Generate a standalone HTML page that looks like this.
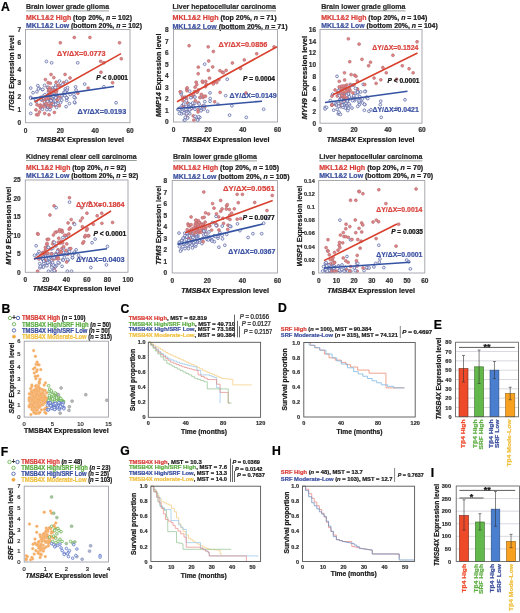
<!DOCTYPE html><html><head><meta charset="utf-8"><style>html,body{margin:0;padding:0;background:#fff;width:520px;height:613px;overflow:hidden}svg{display:block;will-change:transform}</style></head><body><svg width="520" height="613" viewBox="0 0 520 613" font-family="Liberation Sans, sans-serif">
<rect width="520" height="613" fill="#fff"/>
<text transform="translate(26.00,9.07) scale(1,1.06)" font-size="7" text-anchor="start" fill="#2a2a2a" font-weight="bold" textLength="83.00" lengthAdjust="spacingAndGlyphs" stroke="#2a2a2a" stroke-width="0.22">Brain lower grade glioma</text>
<line x1="26.00" y1="10.90" x2="109.00" y2="10.90" stroke="#9aa09a" stroke-width="1.0"/>
<text transform="translate(26.00,19.65) scale(1,1.06)" font-size="7" font-weight="bold" fill="#1a1a1a" textLength="106.00" lengthAdjust="spacingAndGlyphs" stroke="#1a1a1a" stroke-width="0.22"><tspan fill="#d9403a" stroke="#d9403a" stroke-width="0.22">MKL1&amp;2 High</tspan> (top 20%, <tspan font-style="italic">n</tspan> = 102)</text>
<text transform="translate(26.00,27.65) scale(1,1.06)" font-size="7" font-weight="bold" fill="#1a1a1a" textLength="116.00" lengthAdjust="spacingAndGlyphs" stroke="#1a1a1a" stroke-width="0.22"><tspan fill="#3b4f9e" stroke="#3b4f9e" stroke-width="0.22">MKL1&amp;2 Low</tspan> (bottom 20%, <tspan font-style="italic">n</tspan> = 102)</text>
<circle cx="56.04" cy="101.36" r="1.4" fill="#f2f2fa" stroke="#5562a2" stroke-width="0.7"/>
<circle cx="89.94" cy="37.49" r="1.45" fill="#e48585" stroke="#b06a70" stroke-width="0.6"/>
<circle cx="52.78" cy="87.81" r="1.4" fill="#f2f2fa" stroke="#5562a2" stroke-width="0.7"/>
<circle cx="44.75" cy="101.73" r="1.4" fill="#f2f2fa" stroke="#5562a2" stroke-width="0.7"/>
<circle cx="75.08" cy="97.82" r="1.4" fill="#f2f2fa" stroke="#5562a2" stroke-width="0.7"/>
<circle cx="50.98" cy="97.27" r="1.45" fill="#e48585" stroke="#b06a70" stroke-width="0.6"/>
<circle cx="63.65" cy="82.69" r="1.45" fill="#e48585" stroke="#b06a70" stroke-width="0.6"/>
<circle cx="66.66" cy="100.30" r="1.4" fill="#f2f2fa" stroke="#5562a2" stroke-width="0.7"/>
<circle cx="30.73" cy="104.26" r="1.4" fill="#f2f2fa" stroke="#5562a2" stroke-width="0.7"/>
<circle cx="67.14" cy="97.99" r="1.4" fill="#f2f2fa" stroke="#5562a2" stroke-width="0.7"/>
<circle cx="39.22" cy="88.27" r="1.4" fill="#f2f2fa" stroke="#5562a2" stroke-width="0.7"/>
<circle cx="53.10" cy="89.37" r="1.4" fill="#f2f2fa" stroke="#5562a2" stroke-width="0.7"/>
<circle cx="33.05" cy="92.68" r="1.4" fill="#f2f2fa" stroke="#5562a2" stroke-width="0.7"/>
<circle cx="66.36" cy="91.27" r="1.4" fill="#f2f2fa" stroke="#5562a2" stroke-width="0.7"/>
<circle cx="45.82" cy="99.16" r="1.45" fill="#e48585" stroke="#b06a70" stroke-width="0.6"/>
<circle cx="40.66" cy="108.13" r="1.45" fill="#e48585" stroke="#b06a70" stroke-width="0.6"/>
<circle cx="37.05" cy="104.71" r="1.45" fill="#e48585" stroke="#b06a70" stroke-width="0.6"/>
<circle cx="46.72" cy="106.94" r="1.45" fill="#e48585" stroke="#b06a70" stroke-width="0.6"/>
<circle cx="47.60" cy="100.66" r="1.45" fill="#e48585" stroke="#b06a70" stroke-width="0.6"/>
<circle cx="65.32" cy="88.96" r="1.4" fill="#f2f2fa" stroke="#5562a2" stroke-width="0.7"/>
<circle cx="55.82" cy="85.14" r="1.4" fill="#f2f2fa" stroke="#5562a2" stroke-width="0.7"/>
<circle cx="64.01" cy="93.54" r="1.45" fill="#e48585" stroke="#b06a70" stroke-width="0.6"/>
<circle cx="47.76" cy="105.55" r="1.45" fill="#e48585" stroke="#b06a70" stroke-width="0.6"/>
<circle cx="46.40" cy="61.45" r="1.4" fill="#f2f2fa" stroke="#5562a2" stroke-width="0.7"/>
<circle cx="75.60" cy="86.85" r="1.4" fill="#f2f2fa" stroke="#5562a2" stroke-width="0.7"/>
<circle cx="48.02" cy="97.23" r="1.4" fill="#f2f2fa" stroke="#5562a2" stroke-width="0.7"/>
<circle cx="88.20" cy="88.08" r="1.45" fill="#e48585" stroke="#b06a70" stroke-width="0.6"/>
<circle cx="48.47" cy="92.29" r="1.4" fill="#f2f2fa" stroke="#5562a2" stroke-width="0.7"/>
<circle cx="59.47" cy="85.67" r="1.45" fill="#e48585" stroke="#b06a70" stroke-width="0.6"/>
<circle cx="60.33" cy="42.81" r="1.45" fill="#e48585" stroke="#b06a70" stroke-width="0.6"/>
<circle cx="44.09" cy="104.81" r="1.45" fill="#e48585" stroke="#b06a70" stroke-width="0.6"/>
<circle cx="119.55" cy="42.81" r="1.45" fill="#e48585" stroke="#b06a70" stroke-width="0.6"/>
<circle cx="43.53" cy="95.97" r="1.4" fill="#f2f2fa" stroke="#5562a2" stroke-width="0.7"/>
<circle cx="62.37" cy="95.68" r="1.4" fill="#f2f2fa" stroke="#5562a2" stroke-width="0.7"/>
<circle cx="51.82" cy="97.90" r="1.4" fill="#f2f2fa" stroke="#5562a2" stroke-width="0.7"/>
<circle cx="76.04" cy="90.09" r="1.4" fill="#f2f2fa" stroke="#5562a2" stroke-width="0.7"/>
<circle cx="55.19" cy="104.63" r="1.45" fill="#e48585" stroke="#b06a70" stroke-width="0.6"/>
<circle cx="45.41" cy="79.60" r="1.45" fill="#e48585" stroke="#b06a70" stroke-width="0.6"/>
<circle cx="48.14" cy="82.69" r="1.45" fill="#e48585" stroke="#b06a70" stroke-width="0.6"/>
<circle cx="59.51" cy="85.48" r="1.4" fill="#f2f2fa" stroke="#5562a2" stroke-width="0.7"/>
<circle cx="48.65" cy="98.61" r="1.45" fill="#e48585" stroke="#b06a70" stroke-width="0.6"/>
<circle cx="54.78" cy="88.75" r="1.45" fill="#e48585" stroke="#b06a70" stroke-width="0.6"/>
<circle cx="40.62" cy="98.18" r="1.4" fill="#f2f2fa" stroke="#5562a2" stroke-width="0.7"/>
<circle cx="48.57" cy="90.34" r="1.45" fill="#e48585" stroke="#b06a70" stroke-width="0.6"/>
<circle cx="65.63" cy="90.93" r="1.4" fill="#f2f2fa" stroke="#5562a2" stroke-width="0.7"/>
<circle cx="58.01" cy="85.89" r="1.45" fill="#e48585" stroke="#b06a70" stroke-width="0.6"/>
<circle cx="103.88" cy="86.75" r="1.4" fill="#f2f2fa" stroke="#5562a2" stroke-width="0.7"/>
<circle cx="50.62" cy="104.41" r="1.45" fill="#e48585" stroke="#b06a70" stroke-width="0.6"/>
<circle cx="43.07" cy="107.06" r="1.45" fill="#e48585" stroke="#b06a70" stroke-width="0.6"/>
<circle cx="44.57" cy="85.39" r="1.4" fill="#f2f2fa" stroke="#5562a2" stroke-width="0.7"/>
<circle cx="49.55" cy="95.18" r="1.45" fill="#e48585" stroke="#b06a70" stroke-width="0.6"/>
<circle cx="42.37" cy="89.62" r="1.4" fill="#f2f2fa" stroke="#5562a2" stroke-width="0.7"/>
<circle cx="40.89" cy="97.34" r="1.45" fill="#e48585" stroke="#b06a70" stroke-width="0.6"/>
<circle cx="57.17" cy="95.50" r="1.4" fill="#f2f2fa" stroke="#5562a2" stroke-width="0.7"/>
<circle cx="49.85" cy="90.63" r="1.45" fill="#e48585" stroke="#b06a70" stroke-width="0.6"/>
<circle cx="42.68" cy="100.42" r="1.45" fill="#e48585" stroke="#b06a70" stroke-width="0.6"/>
<circle cx="51.53" cy="97.62" r="1.4" fill="#f2f2fa" stroke="#5562a2" stroke-width="0.7"/>
<circle cx="48.48" cy="94.72" r="1.4" fill="#f2f2fa" stroke="#5562a2" stroke-width="0.7"/>
<circle cx="40.52" cy="105.05" r="1.45" fill="#e48585" stroke="#b06a70" stroke-width="0.6"/>
<circle cx="37.81" cy="85.66" r="1.4" fill="#f2f2fa" stroke="#5562a2" stroke-width="0.7"/>
<circle cx="45.85" cy="99.93" r="1.45" fill="#e48585" stroke="#b06a70" stroke-width="0.6"/>
<circle cx="49.80" cy="100.26" r="1.45" fill="#e48585" stroke="#b06a70" stroke-width="0.6"/>
<circle cx="54.41" cy="95.87" r="1.4" fill="#f2f2fa" stroke="#5562a2" stroke-width="0.7"/>
<circle cx="70.01" cy="77.99" r="1.45" fill="#e48585" stroke="#b06a70" stroke-width="0.6"/>
<circle cx="74.90" cy="102.80" r="1.4" fill="#f2f2fa" stroke="#5562a2" stroke-width="0.7"/>
<circle cx="56.66" cy="90.87" r="1.45" fill="#e48585" stroke="#b06a70" stroke-width="0.6"/>
<circle cx="42.42" cy="109.29" r="1.4" fill="#f2f2fa" stroke="#5562a2" stroke-width="0.7"/>
<circle cx="49.72" cy="89.90" r="1.45" fill="#e48585" stroke="#b06a70" stroke-width="0.6"/>
<circle cx="60.42" cy="102.57" r="1.4" fill="#f2f2fa" stroke="#5562a2" stroke-width="0.7"/>
<circle cx="35.34" cy="99.48" r="1.4" fill="#f2f2fa" stroke="#5562a2" stroke-width="0.7"/>
<circle cx="48.51" cy="107.18" r="1.45" fill="#e48585" stroke="#b06a70" stroke-width="0.6"/>
<circle cx="56.17" cy="98.04" r="1.4" fill="#f2f2fa" stroke="#5562a2" stroke-width="0.7"/>
<circle cx="46.85" cy="109.63" r="1.4" fill="#f2f2fa" stroke="#5562a2" stroke-width="0.7"/>
<circle cx="30.73" cy="88.08" r="1.4" fill="#f2f2fa" stroke="#5562a2" stroke-width="0.7"/>
<circle cx="57.93" cy="103.24" r="1.4" fill="#f2f2fa" stroke="#5562a2" stroke-width="0.7"/>
<circle cx="52.34" cy="95.97" r="1.45" fill="#e48585" stroke="#b06a70" stroke-width="0.6"/>
<circle cx="49.89" cy="93.27" r="1.45" fill="#e48585" stroke="#b06a70" stroke-width="0.6"/>
<circle cx="42.82" cy="89.34" r="1.4" fill="#f2f2fa" stroke="#5562a2" stroke-width="0.7"/>
<circle cx="51.17" cy="97.60" r="1.4" fill="#f2f2fa" stroke="#5562a2" stroke-width="0.7"/>
<circle cx="62.65" cy="84.29" r="1.4" fill="#f2f2fa" stroke="#5562a2" stroke-width="0.7"/>
<circle cx="38.42" cy="88.92" r="1.4" fill="#f2f2fa" stroke="#5562a2" stroke-width="0.7"/>
<circle cx="66.52" cy="97.61" r="1.4" fill="#f2f2fa" stroke="#5562a2" stroke-width="0.7"/>
<circle cx="55.61" cy="102.19" r="1.4" fill="#f2f2fa" stroke="#5562a2" stroke-width="0.7"/>
<circle cx="55.40" cy="87.60" r="1.4" fill="#f2f2fa" stroke="#5562a2" stroke-width="0.7"/>
<circle cx="41.05" cy="97.96" r="1.45" fill="#e48585" stroke="#b06a70" stroke-width="0.6"/>
<circle cx="61.71" cy="95.77" r="1.4" fill="#f2f2fa" stroke="#5562a2" stroke-width="0.7"/>
<circle cx="53.85" cy="77.60" r="1.45" fill="#e48585" stroke="#b06a70" stroke-width="0.6"/>
<circle cx="41.35" cy="99.64" r="1.45" fill="#e48585" stroke="#b06a70" stroke-width="0.6"/>
<circle cx="47.52" cy="87.42" r="1.45" fill="#e48585" stroke="#b06a70" stroke-width="0.6"/>
<circle cx="56.14" cy="82.22" r="1.45" fill="#e48585" stroke="#b06a70" stroke-width="0.6"/>
<circle cx="121.29" cy="58.79" r="1.45" fill="#e48585" stroke="#b06a70" stroke-width="0.6"/>
<circle cx="66.08" cy="106.64" r="1.4" fill="#f2f2fa" stroke="#5562a2" stroke-width="0.7"/>
<circle cx="51.62" cy="62.79" r="1.4" fill="#f2f2fa" stroke="#5562a2" stroke-width="0.7"/>
<circle cx="59.48" cy="95.62" r="1.4" fill="#f2f2fa" stroke="#5562a2" stroke-width="0.7"/>
<circle cx="56.54" cy="107.34" r="1.4" fill="#f2f2fa" stroke="#5562a2" stroke-width="0.7"/>
<circle cx="54.39" cy="112.45" r="1.45" fill="#e48585" stroke="#b06a70" stroke-width="0.6"/>
<circle cx="51.19" cy="106.40" r="1.4" fill="#f2f2fa" stroke="#5562a2" stroke-width="0.7"/>
<circle cx="56.72" cy="95.81" r="1.45" fill="#e48585" stroke="#b06a70" stroke-width="0.6"/>
<circle cx="73.94" cy="94.43" r="1.4" fill="#f2f2fa" stroke="#5562a2" stroke-width="0.7"/>
<circle cx="64.00" cy="92.33" r="1.4" fill="#f2f2fa" stroke="#5562a2" stroke-width="0.7"/>
<circle cx="46.34" cy="104.62" r="1.4" fill="#f2f2fa" stroke="#5562a2" stroke-width="0.7"/>
<circle cx="41.04" cy="99.58" r="1.4" fill="#f2f2fa" stroke="#5562a2" stroke-width="0.7"/>
<circle cx="46.90" cy="100.41" r="1.45" fill="#e48585" stroke="#b06a70" stroke-width="0.6"/>
<circle cx="100.71" cy="61.36" r="1.45" fill="#e48585" stroke="#b06a70" stroke-width="0.6"/>
<circle cx="55.02" cy="105.48" r="1.45" fill="#e48585" stroke="#b06a70" stroke-width="0.6"/>
<circle cx="50.40" cy="90.42" r="1.45" fill="#e48585" stroke="#b06a70" stroke-width="0.6"/>
<circle cx="74.18" cy="97.26" r="1.4" fill="#f2f2fa" stroke="#5562a2" stroke-width="0.7"/>
<circle cx="53.27" cy="92.39" r="1.4" fill="#f2f2fa" stroke="#5562a2" stroke-width="0.7"/>
<circle cx="35.95" cy="109.91" r="1.45" fill="#e48585" stroke="#b06a70" stroke-width="0.6"/>
<circle cx="59.91" cy="97.36" r="1.45" fill="#e48585" stroke="#b06a70" stroke-width="0.6"/>
<circle cx="58.64" cy="85.23" r="1.45" fill="#e48585" stroke="#b06a70" stroke-width="0.6"/>
<circle cx="65.05" cy="74.44" r="1.45" fill="#e48585" stroke="#b06a70" stroke-width="0.6"/>
<circle cx="48.18" cy="87.28" r="1.4" fill="#f2f2fa" stroke="#5562a2" stroke-width="0.7"/>
<circle cx="77.75" cy="62.79" r="1.4" fill="#f2f2fa" stroke="#5562a2" stroke-width="0.7"/>
<circle cx="67.08" cy="89.93" r="1.4" fill="#f2f2fa" stroke="#5562a2" stroke-width="0.7"/>
<circle cx="39.43" cy="112.05" r="1.45" fill="#e48585" stroke="#b06a70" stroke-width="0.6"/>
<circle cx="44.88" cy="94.66" r="1.4" fill="#f2f2fa" stroke="#5562a2" stroke-width="0.7"/>
<circle cx="100.95" cy="72.32" r="1.45" fill="#e48585" stroke="#b06a70" stroke-width="0.6"/>
<circle cx="112.58" cy="82.76" r="1.45" fill="#e48585" stroke="#b06a70" stroke-width="0.6"/>
<circle cx="74.27" cy="37.49" r="1.45" fill="#e48585" stroke="#b06a70" stroke-width="0.6"/>
<circle cx="52.14" cy="97.99" r="1.4" fill="#f2f2fa" stroke="#5562a2" stroke-width="0.7"/>
<circle cx="51.30" cy="99.70" r="1.45" fill="#e48585" stroke="#b06a70" stroke-width="0.6"/>
<circle cx="53.30" cy="91.02" r="1.45" fill="#e48585" stroke="#b06a70" stroke-width="0.6"/>
<circle cx="55.99" cy="98.46" r="1.4" fill="#f2f2fa" stroke="#5562a2" stroke-width="0.7"/>
<circle cx="64.71" cy="95.16" r="1.4" fill="#f2f2fa" stroke="#5562a2" stroke-width="0.7"/>
<circle cx="50.02" cy="109.68" r="1.4" fill="#f2f2fa" stroke="#5562a2" stroke-width="0.7"/>
<circle cx="55.21" cy="98.75" r="1.4" fill="#f2f2fa" stroke="#5562a2" stroke-width="0.7"/>
<circle cx="70.19" cy="94.53" r="1.4" fill="#f2f2fa" stroke="#5562a2" stroke-width="0.7"/>
<circle cx="46.66" cy="98.60" r="1.45" fill="#e48585" stroke="#b06a70" stroke-width="0.6"/>
<circle cx="47.54" cy="101.48" r="1.4" fill="#f2f2fa" stroke="#5562a2" stroke-width="0.7"/>
<circle cx="39.22" cy="105.89" r="1.45" fill="#e48585" stroke="#b06a70" stroke-width="0.6"/>
<circle cx="64.82" cy="95.57" r="1.4" fill="#f2f2fa" stroke="#5562a2" stroke-width="0.7"/>
<circle cx="53.24" cy="104.23" r="1.4" fill="#f2f2fa" stroke="#5562a2" stroke-width="0.7"/>
<circle cx="46.51" cy="104.20" r="1.4" fill="#f2f2fa" stroke="#5562a2" stroke-width="0.7"/>
<circle cx="36.64" cy="114.71" r="1.45" fill="#e48585" stroke="#b06a70" stroke-width="0.6"/>
<circle cx="59.35" cy="105.79" r="1.45" fill="#e48585" stroke="#b06a70" stroke-width="0.6"/>
<circle cx="67.51" cy="87.75" r="1.4" fill="#f2f2fa" stroke="#5562a2" stroke-width="0.7"/>
<circle cx="52.03" cy="102.55" r="1.4" fill="#f2f2fa" stroke="#5562a2" stroke-width="0.7"/>
<circle cx="77.87" cy="93.28" r="1.45" fill="#e48585" stroke="#b06a70" stroke-width="0.6"/>
<circle cx="50.13" cy="105.81" r="1.45" fill="#e48585" stroke="#b06a70" stroke-width="0.6"/>
<circle cx="51.03" cy="74.50" r="1.45" fill="#e48585" stroke="#b06a70" stroke-width="0.6"/>
<circle cx="30.73" cy="97.30" r="1.4" fill="#f2f2fa" stroke="#5562a2" stroke-width="0.7"/>
<circle cx="30.73" cy="113.38" r="1.4" fill="#f2f2fa" stroke="#5562a2" stroke-width="0.7"/>
<circle cx="54.67" cy="99.29" r="1.4" fill="#f2f2fa" stroke="#5562a2" stroke-width="0.7"/>
<circle cx="84.72" cy="84.09" r="1.4" fill="#f2f2fa" stroke="#5562a2" stroke-width="0.7"/>
<circle cx="49.06" cy="114.71" r="1.45" fill="#e48585" stroke="#b06a70" stroke-width="0.6"/>
<circle cx="53.94" cy="96.30" r="1.4" fill="#f2f2fa" stroke="#5562a2" stroke-width="0.7"/>
<circle cx="38.12" cy="114.71" r="1.45" fill="#e48585" stroke="#b06a70" stroke-width="0.6"/>
<circle cx="54.31" cy="95.56" r="1.4" fill="#f2f2fa" stroke="#5562a2" stroke-width="0.7"/>
<circle cx="50.51" cy="101.29" r="1.45" fill="#e48585" stroke="#b06a70" stroke-width="0.6"/>
<circle cx="36.92" cy="91.74" r="1.4" fill="#f2f2fa" stroke="#5562a2" stroke-width="0.7"/>
<circle cx="55.69" cy="97.77" r="1.4" fill="#f2f2fa" stroke="#5562a2" stroke-width="0.7"/>
<circle cx="103.88" cy="62.79" r="1.45" fill="#e48585" stroke="#b06a70" stroke-width="0.6"/>
<circle cx="30.73" cy="98.10" r="1.4" fill="#f2f2fa" stroke="#5562a2" stroke-width="0.7"/>
<circle cx="59.55" cy="81.04" r="1.4" fill="#f2f2fa" stroke="#5562a2" stroke-width="0.7"/>
<circle cx="55.28" cy="101.03" r="1.4" fill="#f2f2fa" stroke="#5562a2" stroke-width="0.7"/>
<circle cx="61.05" cy="99.27" r="1.4" fill="#f2f2fa" stroke="#5562a2" stroke-width="0.7"/>
<circle cx="56.55" cy="94.36" r="1.4" fill="#f2f2fa" stroke="#5562a2" stroke-width="0.7"/>
<circle cx="55.87" cy="91.95" r="1.45" fill="#e48585" stroke="#b06a70" stroke-width="0.6"/>
<circle cx="50.84" cy="100.57" r="1.4" fill="#f2f2fa" stroke="#5562a2" stroke-width="0.7"/>
<circle cx="69.40" cy="103.59" r="1.4" fill="#f2f2fa" stroke="#5562a2" stroke-width="0.7"/>
<circle cx="61.78" cy="100.23" r="1.4" fill="#f2f2fa" stroke="#5562a2" stroke-width="0.7"/>
<circle cx="51.69" cy="103.19" r="1.45" fill="#e48585" stroke="#b06a70" stroke-width="0.6"/>
<circle cx="55.72" cy="104.42" r="1.4" fill="#f2f2fa" stroke="#5562a2" stroke-width="0.7"/>
<circle cx="36.17" cy="101.50" r="1.4" fill="#f2f2fa" stroke="#5562a2" stroke-width="0.7"/>
<circle cx="65.19" cy="92.22" r="1.4" fill="#f2f2fa" stroke="#5562a2" stroke-width="0.7"/>
<circle cx="47.75" cy="106.81" r="1.4" fill="#f2f2fa" stroke="#5562a2" stroke-width="0.7"/>
<circle cx="49.68" cy="89.67" r="1.45" fill="#e48585" stroke="#b06a70" stroke-width="0.6"/>
<circle cx="116.07" cy="102.73" r="1.4" fill="#f2f2fa" stroke="#5562a2" stroke-width="0.7"/>
<circle cx="74.50" cy="102.11" r="1.4" fill="#f2f2fa" stroke="#5562a2" stroke-width="0.7"/>
<circle cx="47.97" cy="105.36" r="1.45" fill="#e48585" stroke="#b06a70" stroke-width="0.6"/>
<circle cx="50.65" cy="95.09" r="1.45" fill="#e48585" stroke="#b06a70" stroke-width="0.6"/>
<circle cx="44.66" cy="113.38" r="1.45" fill="#e48585" stroke="#b06a70" stroke-width="0.6"/>
<circle cx="41.85" cy="97.65" r="1.4" fill="#f2f2fa" stroke="#5562a2" stroke-width="0.7"/>
<circle cx="36.12" cy="99.70" r="1.4" fill="#f2f2fa" stroke="#5562a2" stroke-width="0.7"/>
<circle cx="46.45" cy="103.60" r="1.45" fill="#e48585" stroke="#b06a70" stroke-width="0.6"/>
<circle cx="51.31" cy="90.74" r="1.45" fill="#e48585" stroke="#b06a70" stroke-width="0.6"/>
<circle cx="53.31" cy="96.33" r="1.4" fill="#f2f2fa" stroke="#5562a2" stroke-width="0.7"/>
<circle cx="49.66" cy="87.91" r="1.45" fill="#e48585" stroke="#b06a70" stroke-width="0.6"/>
<circle cx="66.52" cy="81.31" r="1.4" fill="#f2f2fa" stroke="#5562a2" stroke-width="0.7"/>
<circle cx="49.42" cy="90.06" r="1.45" fill="#e48585" stroke="#b06a70" stroke-width="0.6"/>
<circle cx="51.01" cy="100.85" r="1.4" fill="#f2f2fa" stroke="#5562a2" stroke-width="0.7"/>
<circle cx="57.27" cy="99.92" r="1.45" fill="#e48585" stroke="#b06a70" stroke-width="0.6"/>
<circle cx="50.77" cy="106.73" r="1.45" fill="#e48585" stroke="#b06a70" stroke-width="0.6"/>
<circle cx="50.30" cy="83.32" r="1.45" fill="#e48585" stroke="#b06a70" stroke-width="0.6"/>
<rect x="25.50" y="29.50" width="104.50" height="93.20" fill="none" stroke="#a0a0a8" stroke-width="0.9"/>
<line x1="34.6" y1="102" x2="121" y2="53.6" stroke="#d8412e" stroke-width="1.6"/>
<line x1="31" y1="98.6" x2="114" y2="86.5" stroke="#3553a3" stroke-width="1.6"/>
<text transform="translate(57.00,56.27) scale(1,1.06)" font-size="7" text-anchor="start" fill="#d9453f" font-weight="bold" textLength="48.50" lengthAdjust="spacingAndGlyphs" stroke="#d9453f" stroke-width="0.22">ΔY/ΔX=0.0773</text>
<text transform="translate(77.50,113.97) scale(1,1.06)" font-size="7" text-anchor="start" fill="#3c52a3" font-weight="bold" textLength="48.70" lengthAdjust="spacingAndGlyphs" stroke="#3c52a3" stroke-width="0.22">ΔY/ΔX=0.0193</text>
<text transform="translate(96.30,80.04) scale(1,1.06)" font-size="6.5" font-weight="bold" fill="#111" textLength="31.70" lengthAdjust="spacingAndGlyphs" stroke="#111" stroke-width="0.22"><tspan font-style="italic">P</tspan> &lt; 0.0001</text>
<text transform="translate(21.20,125.18) scale(1,1.06)" font-size="6.5" text-anchor="end" fill="#333" font-weight="bold" stroke="#333" stroke-width="0.22">0</text>
<text transform="translate(21.20,111.87) scale(1,1.06)" font-size="6.5" text-anchor="end" fill="#333" font-weight="bold" stroke="#333" stroke-width="0.22">1</text>
<text transform="translate(21.20,98.55) scale(1,1.06)" font-size="6.5" text-anchor="end" fill="#333" font-weight="bold" stroke="#333" stroke-width="0.22">2</text>
<text transform="translate(21.20,85.24) scale(1,1.06)" font-size="6.5" text-anchor="end" fill="#333" font-weight="bold" stroke="#333" stroke-width="0.22">3</text>
<text transform="translate(21.20,71.92) scale(1,1.06)" font-size="6.5" text-anchor="end" fill="#333" font-weight="bold" stroke="#333" stroke-width="0.22">4</text>
<text transform="translate(21.20,58.61) scale(1,1.06)" font-size="6.5" text-anchor="end" fill="#333" font-weight="bold" stroke="#333" stroke-width="0.22">5</text>
<text transform="translate(21.20,45.29) scale(1,1.06)" font-size="6.5" text-anchor="end" fill="#333" font-weight="bold" stroke="#333" stroke-width="0.22">6</text>
<text transform="translate(21.20,31.98) scale(1,1.06)" font-size="6.5" text-anchor="end" fill="#333" font-weight="bold" stroke="#333" stroke-width="0.22">7</text>
<text transform="translate(25.50,133.48) scale(1,1.06)" font-size="6.5" text-anchor="middle" fill="#333" font-weight="bold" stroke="#333" stroke-width="0.22">0</text>
<text transform="translate(60.33,133.48) scale(1,1.06)" font-size="6.5" text-anchor="middle" fill="#333" font-weight="bold" stroke="#333" stroke-width="0.22">20</text>
<text transform="translate(95.17,133.48) scale(1,1.06)" font-size="6.5" text-anchor="middle" fill="#333" font-weight="bold" stroke="#333" stroke-width="0.22">40</text>
<text transform="translate(130.00,133.48) scale(1,1.06)" font-size="6.5" text-anchor="middle" fill="#333" font-weight="bold" stroke="#333" stroke-width="0.22">60</text>
<g transform="translate(11.30,73.00) rotate(-90)"><text transform="translate(0.00,2.65) scale(1,1.06)" font-size="7" text-anchor="middle" fill="#1a1a1a" font-weight="bold" textLength="75.00" lengthAdjust="spacingAndGlyphs" stroke="#1a1a1a" stroke-width="0.22"><tspan font-style="italic">ITGB1</tspan> Expression level</text></g>
<text transform="translate(80.00,142.25) scale(1,1.06)" font-size="7.2" text-anchor="middle" fill="#1a1a1a" font-weight="bold" textLength="87.75" lengthAdjust="spacingAndGlyphs" stroke="#1a1a1a" stroke-width="0.22"><tspan font-style="italic">TMSB4X</tspan> Expression level</text>
<text transform="translate(172.50,9.07) scale(1,1.06)" font-size="7" text-anchor="start" fill="#2a2a2a" font-weight="bold" textLength="103.50" lengthAdjust="spacingAndGlyphs" stroke="#2a2a2a" stroke-width="0.22">Liver hepatocellular carcinoma</text>
<line x1="172.50" y1="10.90" x2="276.00" y2="10.90" stroke="#9aa09a" stroke-width="1.0"/>
<text transform="translate(172.50,20.45) scale(1,1.06)" font-size="7" font-weight="bold" fill="#1a1a1a" textLength="104.00" lengthAdjust="spacingAndGlyphs" stroke="#1a1a1a" stroke-width="0.22"><tspan fill="#d9403a" stroke="#d9403a" stroke-width="0.22">MKL1&amp;2 High</tspan> (top 20%, <tspan font-style="italic">n</tspan> = 71)</text>
<text transform="translate(172.50,28.55) scale(1,1.06)" font-size="7" font-weight="bold" fill="#1a1a1a" textLength="115.00" lengthAdjust="spacingAndGlyphs" stroke="#1a1a1a" stroke-width="0.22"><tspan fill="#3b4f9e" stroke="#3b4f9e" stroke-width="0.22">MKL1&amp;2 Low</tspan> (bottom 20%, <tspan font-style="italic">n</tspan> = 71)</text>
<circle cx="213.92" cy="82.32" r="1.45" fill="#e48585" stroke="#b06a70" stroke-width="0.6"/>
<circle cx="210.13" cy="98.55" r="1.4" fill="#f2f2fa" stroke="#5562a2" stroke-width="0.7"/>
<circle cx="222.42" cy="72.15" r="1.45" fill="#e48585" stroke="#b06a70" stroke-width="0.6"/>
<circle cx="186.85" cy="88.85" r="1.45" fill="#e48585" stroke="#b06a70" stroke-width="0.6"/>
<circle cx="189.10" cy="45.69" r="1.45" fill="#e48585" stroke="#b06a70" stroke-width="0.6"/>
<circle cx="213.37" cy="51.47" r="1.45" fill="#e48585" stroke="#b06a70" stroke-width="0.6"/>
<circle cx="219.94" cy="70.71" r="1.45" fill="#e48585" stroke="#b06a70" stroke-width="0.6"/>
<circle cx="191.44" cy="108.50" r="1.45" fill="#e48585" stroke="#b06a70" stroke-width="0.6"/>
<circle cx="188.31" cy="106.48" r="1.4" fill="#f2f2fa" stroke="#5562a2" stroke-width="0.7"/>
<circle cx="186.26" cy="112.13" r="1.4" fill="#f2f2fa" stroke="#5562a2" stroke-width="0.7"/>
<circle cx="189.83" cy="109.89" r="1.4" fill="#f2f2fa" stroke="#5562a2" stroke-width="0.7"/>
<circle cx="181.52" cy="113.82" r="1.4" fill="#f2f2fa" stroke="#5562a2" stroke-width="0.7"/>
<circle cx="182.04" cy="105.66" r="1.4" fill="#f2f2fa" stroke="#5562a2" stroke-width="0.7"/>
<circle cx="202.84" cy="82.40" r="1.45" fill="#e48585" stroke="#b06a70" stroke-width="0.6"/>
<circle cx="188.55" cy="103.84" r="1.4" fill="#f2f2fa" stroke="#5562a2" stroke-width="0.7"/>
<circle cx="179.46" cy="113.51" r="1.4" fill="#f2f2fa" stroke="#5562a2" stroke-width="0.7"/>
<circle cx="198.01" cy="109.85" r="1.45" fill="#e48585" stroke="#b06a70" stroke-width="0.6"/>
<circle cx="274.03" cy="46.84" r="1.45" fill="#e48585" stroke="#b06a70" stroke-width="0.6"/>
<circle cx="193.26" cy="115.96" r="1.45" fill="#e48585" stroke="#b06a70" stroke-width="0.6"/>
<circle cx="246.30" cy="117.38" r="1.4" fill="#f2f2fa" stroke="#5562a2" stroke-width="0.7"/>
<circle cx="193.73" cy="103.51" r="1.45" fill="#e48585" stroke="#b06a70" stroke-width="0.6"/>
<circle cx="183.02" cy="100.81" r="1.45" fill="#e48585" stroke="#b06a70" stroke-width="0.6"/>
<circle cx="187.41" cy="102.86" r="1.45" fill="#e48585" stroke="#b06a70" stroke-width="0.6"/>
<circle cx="208.17" cy="46.84" r="1.45" fill="#e48585" stroke="#b06a70" stroke-width="0.6"/>
<circle cx="191.25" cy="108.04" r="1.4" fill="#f2f2fa" stroke="#5562a2" stroke-width="0.7"/>
<circle cx="193.86" cy="120.15" r="1.45" fill="#e48585" stroke="#b06a70" stroke-width="0.6"/>
<circle cx="187.15" cy="87.83" r="1.45" fill="#e48585" stroke="#b06a70" stroke-width="0.6"/>
<circle cx="226.12" cy="70.41" r="1.45" fill="#e48585" stroke="#b06a70" stroke-width="0.6"/>
<circle cx="184.19" cy="108.40" r="1.4" fill="#f2f2fa" stroke="#5562a2" stroke-width="0.7"/>
<circle cx="201.38" cy="94.35" r="1.45" fill="#e48585" stroke="#b06a70" stroke-width="0.6"/>
<circle cx="186.22" cy="109.81" r="1.45" fill="#e48585" stroke="#b06a70" stroke-width="0.6"/>
<circle cx="216.70" cy="82.55" r="1.45" fill="#e48585" stroke="#b06a70" stroke-width="0.6"/>
<circle cx="203.10" cy="97.47" r="1.45" fill="#e48585" stroke="#b06a70" stroke-width="0.6"/>
<circle cx="197.49" cy="91.88" r="1.45" fill="#e48585" stroke="#b06a70" stroke-width="0.6"/>
<circle cx="189.80" cy="113.74" r="1.4" fill="#f2f2fa" stroke="#5562a2" stroke-width="0.7"/>
<circle cx="186.30" cy="113.90" r="1.45" fill="#e48585" stroke="#b06a70" stroke-width="0.6"/>
<circle cx="197.94" cy="119.73" r="1.4" fill="#f2f2fa" stroke="#5562a2" stroke-width="0.7"/>
<circle cx="189.69" cy="91.31" r="1.4" fill="#f2f2fa" stroke="#5562a2" stroke-width="0.7"/>
<circle cx="194.77" cy="103.14" r="1.4" fill="#f2f2fa" stroke="#5562a2" stroke-width="0.7"/>
<circle cx="191.09" cy="105.34" r="1.4" fill="#f2f2fa" stroke="#5562a2" stroke-width="0.7"/>
<circle cx="196.16" cy="117.48" r="1.4" fill="#f2f2fa" stroke="#5562a2" stroke-width="0.7"/>
<circle cx="213.24" cy="83.93" r="1.45" fill="#e48585" stroke="#b06a70" stroke-width="0.6"/>
<circle cx="196.85" cy="92.22" r="1.45" fill="#e48585" stroke="#b06a70" stroke-width="0.6"/>
<circle cx="204.67" cy="107.40" r="1.45" fill="#e48585" stroke="#b06a70" stroke-width="0.6"/>
<circle cx="192.68" cy="103.07" r="1.4" fill="#f2f2fa" stroke="#5562a2" stroke-width="0.7"/>
<circle cx="187.20" cy="117.22" r="1.45" fill="#e48585" stroke="#b06a70" stroke-width="0.6"/>
<circle cx="186.93" cy="90.63" r="1.45" fill="#e48585" stroke="#b06a70" stroke-width="0.6"/>
<circle cx="205.47" cy="96.28" r="1.45" fill="#e48585" stroke="#b06a70" stroke-width="0.6"/>
<circle cx="223.33" cy="72.68" r="1.45" fill="#e48585" stroke="#b06a70" stroke-width="0.6"/>
<circle cx="256.70" cy="53.78" r="1.45" fill="#e48585" stroke="#b06a70" stroke-width="0.6"/>
<circle cx="189.34" cy="104.31" r="1.4" fill="#f2f2fa" stroke="#5562a2" stroke-width="0.7"/>
<circle cx="180.44" cy="110.38" r="1.4" fill="#f2f2fa" stroke="#5562a2" stroke-width="0.7"/>
<circle cx="227.23" cy="79.22" r="1.4" fill="#f2f2fa" stroke="#5562a2" stroke-width="0.7"/>
<circle cx="231.88" cy="105.77" r="1.4" fill="#f2f2fa" stroke="#5562a2" stroke-width="0.7"/>
<circle cx="196.15" cy="82.16" r="1.45" fill="#e48585" stroke="#b06a70" stroke-width="0.6"/>
<circle cx="198.45" cy="102.67" r="1.45" fill="#e48585" stroke="#b06a70" stroke-width="0.6"/>
<circle cx="196.78" cy="84.63" r="1.45" fill="#e48585" stroke="#b06a70" stroke-width="0.6"/>
<circle cx="206.34" cy="84.53" r="1.45" fill="#e48585" stroke="#b06a70" stroke-width="0.6"/>
<circle cx="182.20" cy="111.60" r="1.4" fill="#f2f2fa" stroke="#5562a2" stroke-width="0.7"/>
<circle cx="217.99" cy="104.30" r="1.4" fill="#f2f2fa" stroke="#5562a2" stroke-width="0.7"/>
<circle cx="218.85" cy="79.80" r="1.45" fill="#e48585" stroke="#b06a70" stroke-width="0.6"/>
<circle cx="183.40" cy="105.76" r="1.45" fill="#e48585" stroke="#b06a70" stroke-width="0.6"/>
<circle cx="192.35" cy="96.79" r="1.45" fill="#e48585" stroke="#b06a70" stroke-width="0.6"/>
<circle cx="186.80" cy="111.38" r="1.4" fill="#f2f2fa" stroke="#5562a2" stroke-width="0.7"/>
<circle cx="203.69" cy="96.22" r="1.45" fill="#e48585" stroke="#b06a70" stroke-width="0.6"/>
<circle cx="195.28" cy="116.36" r="1.4" fill="#f2f2fa" stroke="#5562a2" stroke-width="0.7"/>
<circle cx="184.26" cy="120.15" r="1.4" fill="#f2f2fa" stroke="#5562a2" stroke-width="0.7"/>
<circle cx="181.09" cy="94.02" r="1.4" fill="#f2f2fa" stroke="#5562a2" stroke-width="0.7"/>
<circle cx="177.90" cy="109.55" r="1.4" fill="#f2f2fa" stroke="#5562a2" stroke-width="0.7"/>
<circle cx="263.63" cy="109.28" r="1.4" fill="#f2f2fa" stroke="#5562a2" stroke-width="0.7"/>
<circle cx="187.71" cy="118.01" r="1.4" fill="#f2f2fa" stroke="#5562a2" stroke-width="0.7"/>
<circle cx="200.29" cy="107.92" r="1.4" fill="#f2f2fa" stroke="#5562a2" stroke-width="0.7"/>
<circle cx="179.78" cy="107.99" r="1.4" fill="#f2f2fa" stroke="#5562a2" stroke-width="0.7"/>
<circle cx="212.68" cy="66.94" r="1.45" fill="#e48585" stroke="#b06a70" stroke-width="0.6"/>
<circle cx="209.50" cy="78.16" r="1.45" fill="#e48585" stroke="#b06a70" stroke-width="0.6"/>
<circle cx="202.81" cy="105.97" r="1.45" fill="#e48585" stroke="#b06a70" stroke-width="0.6"/>
<circle cx="182.45" cy="97.04" r="1.45" fill="#e48585" stroke="#b06a70" stroke-width="0.6"/>
<circle cx="186.44" cy="106.63" r="1.4" fill="#f2f2fa" stroke="#5562a2" stroke-width="0.7"/>
<circle cx="186.59" cy="98.38" r="1.45" fill="#e48585" stroke="#b06a70" stroke-width="0.6"/>
<circle cx="193.62" cy="96.47" r="1.45" fill="#e48585" stroke="#b06a70" stroke-width="0.6"/>
<circle cx="210.03" cy="101.36" r="1.4" fill="#f2f2fa" stroke="#5562a2" stroke-width="0.7"/>
<circle cx="190.59" cy="104.87" r="1.4" fill="#f2f2fa" stroke="#5562a2" stroke-width="0.7"/>
<circle cx="197.52" cy="120.09" r="1.4" fill="#f2f2fa" stroke="#5562a2" stroke-width="0.7"/>
<circle cx="205.50" cy="86.72" r="1.45" fill="#e48585" stroke="#b06a70" stroke-width="0.6"/>
<circle cx="205.80" cy="81.43" r="1.45" fill="#e48585" stroke="#b06a70" stroke-width="0.6"/>
<circle cx="201.62" cy="109.55" r="1.4" fill="#f2f2fa" stroke="#5562a2" stroke-width="0.7"/>
<circle cx="185.04" cy="97.25" r="1.4" fill="#f2f2fa" stroke="#5562a2" stroke-width="0.7"/>
<circle cx="179.19" cy="109.41" r="1.4" fill="#f2f2fa" stroke="#5562a2" stroke-width="0.7"/>
<circle cx="201.02" cy="110.76" r="1.4" fill="#f2f2fa" stroke="#5562a2" stroke-width="0.7"/>
<circle cx="189.49" cy="109.53" r="1.4" fill="#f2f2fa" stroke="#5562a2" stroke-width="0.7"/>
<circle cx="204.79" cy="101.62" r="1.4" fill="#f2f2fa" stroke="#5562a2" stroke-width="0.7"/>
<circle cx="229.56" cy="115.13" r="1.4" fill="#f2f2fa" stroke="#5562a2" stroke-width="0.7"/>
<circle cx="208.34" cy="70.44" r="1.45" fill="#e48585" stroke="#b06a70" stroke-width="0.6"/>
<circle cx="214.69" cy="101.80" r="1.45" fill="#e48585" stroke="#b06a70" stroke-width="0.6"/>
<circle cx="207.59" cy="111.30" r="1.4" fill="#f2f2fa" stroke="#5562a2" stroke-width="0.7"/>
<circle cx="194.93" cy="109.24" r="1.4" fill="#f2f2fa" stroke="#5562a2" stroke-width="0.7"/>
<circle cx="225.70" cy="95.65" r="1.4" fill="#f2f2fa" stroke="#5562a2" stroke-width="0.7"/>
<circle cx="193.36" cy="94.39" r="1.45" fill="#e48585" stroke="#b06a70" stroke-width="0.6"/>
<circle cx="195.12" cy="87.17" r="1.45" fill="#e48585" stroke="#b06a70" stroke-width="0.6"/>
<circle cx="190.82" cy="95.51" r="1.45" fill="#e48585" stroke="#b06a70" stroke-width="0.6"/>
<circle cx="188.74" cy="107.01" r="1.4" fill="#f2f2fa" stroke="#5562a2" stroke-width="0.7"/>
<circle cx="198.32" cy="67.13" r="1.45" fill="#e48585" stroke="#b06a70" stroke-width="0.6"/>
<circle cx="204.03" cy="109.02" r="1.4" fill="#f2f2fa" stroke="#5562a2" stroke-width="0.7"/>
<circle cx="187.94" cy="112.64" r="1.4" fill="#f2f2fa" stroke="#5562a2" stroke-width="0.7"/>
<circle cx="199.85" cy="117.39" r="1.4" fill="#f2f2fa" stroke="#5562a2" stroke-width="0.7"/>
<circle cx="186.34" cy="100.80" r="1.4" fill="#f2f2fa" stroke="#5562a2" stroke-width="0.7"/>
<circle cx="220.11" cy="92.38" r="1.45" fill="#e48585" stroke="#b06a70" stroke-width="0.6"/>
<circle cx="181.35" cy="92.39" r="1.4" fill="#f2f2fa" stroke="#5562a2" stroke-width="0.7"/>
<circle cx="184.94" cy="120.15" r="1.4" fill="#f2f2fa" stroke="#5562a2" stroke-width="0.7"/>
<circle cx="198.44" cy="89.89" r="1.45" fill="#e48585" stroke="#b06a70" stroke-width="0.6"/>
<circle cx="189.12" cy="107.13" r="1.4" fill="#f2f2fa" stroke="#5562a2" stroke-width="0.7"/>
<circle cx="180.17" cy="91.77" r="1.45" fill="#e48585" stroke="#b06a70" stroke-width="0.6"/>
<circle cx="183.75" cy="104.04" r="1.4" fill="#f2f2fa" stroke="#5562a2" stroke-width="0.7"/>
<circle cx="198.17" cy="73.82" r="1.45" fill="#e48585" stroke="#b06a70" stroke-width="0.6"/>
<circle cx="232.43" cy="63.03" r="1.45" fill="#e48585" stroke="#b06a70" stroke-width="0.6"/>
<circle cx="204.70" cy="64.19" r="1.4" fill="#f2f2fa" stroke="#5562a2" stroke-width="0.7"/>
<circle cx="204.08" cy="105.45" r="1.4" fill="#f2f2fa" stroke="#5562a2" stroke-width="0.7"/>
<circle cx="245.96" cy="93.03" r="1.45" fill="#e48585" stroke="#b06a70" stroke-width="0.6"/>
<circle cx="193.42" cy="106.82" r="1.4" fill="#f2f2fa" stroke="#5562a2" stroke-width="0.7"/>
<circle cx="200.25" cy="97.43" r="1.4" fill="#f2f2fa" stroke="#5562a2" stroke-width="0.7"/>
<circle cx="195.37" cy="100.71" r="1.45" fill="#e48585" stroke="#b06a70" stroke-width="0.6"/>
<circle cx="199.10" cy="103.96" r="1.4" fill="#f2f2fa" stroke="#5562a2" stroke-width="0.7"/>
<circle cx="183.94" cy="108.57" r="1.4" fill="#f2f2fa" stroke="#5562a2" stroke-width="0.7"/>
<circle cx="185.32" cy="117.29" r="1.4" fill="#f2f2fa" stroke="#5562a2" stroke-width="0.7"/>
<circle cx="183.97" cy="112.84" r="1.4" fill="#f2f2fa" stroke="#5562a2" stroke-width="0.7"/>
<circle cx="199.99" cy="97.52" r="1.45" fill="#e48585" stroke="#b06a70" stroke-width="0.6"/>
<circle cx="194.99" cy="97.04" r="1.4" fill="#f2f2fa" stroke="#5562a2" stroke-width="0.7"/>
<circle cx="208.68" cy="60.99" r="1.45" fill="#e48585" stroke="#b06a70" stroke-width="0.6"/>
<circle cx="185.87" cy="109.22" r="1.4" fill="#f2f2fa" stroke="#5562a2" stroke-width="0.7"/>
<circle cx="186.60" cy="113.63" r="1.4" fill="#f2f2fa" stroke="#5562a2" stroke-width="0.7"/>
<circle cx="244.33" cy="59.93" r="1.45" fill="#e48585" stroke="#b06a70" stroke-width="0.6"/>
<circle cx="190.89" cy="97.79" r="1.4" fill="#f2f2fa" stroke="#5562a2" stroke-width="0.7"/>
<circle cx="198.07" cy="111.99" r="1.45" fill="#e48585" stroke="#b06a70" stroke-width="0.6"/>
<circle cx="240.52" cy="68.54" r="1.45" fill="#e48585" stroke="#b06a70" stroke-width="0.6"/>
<circle cx="202.34" cy="81.26" r="1.45" fill="#e48585" stroke="#b06a70" stroke-width="0.6"/>
<circle cx="210.01" cy="92.92" r="1.4" fill="#f2f2fa" stroke="#5562a2" stroke-width="0.7"/>
<circle cx="194.65" cy="91.56" r="1.45" fill="#e48585" stroke="#b06a70" stroke-width="0.6"/>
<circle cx="198.59" cy="116.78" r="1.4" fill="#f2f2fa" stroke="#5562a2" stroke-width="0.7"/>
<rect x="173.50" y="29.50" width="104.00" height="92.50" fill="none" stroke="#a0a0a8" stroke-width="0.9"/>
<line x1="177" y1="101.8" x2="277" y2="46.7" stroke="#d8412e" stroke-width="1.6"/>
<line x1="177" y1="108.5" x2="262" y2="101.2" stroke="#3553a3" stroke-width="1.6"/>
<text transform="translate(218.40,46.97) scale(1,1.06)" font-size="7" text-anchor="start" fill="#d9453f" font-weight="bold" textLength="49.00" lengthAdjust="spacingAndGlyphs" stroke="#d9453f" stroke-width="0.22">ΔY/ΔX=0.0856</text>
<text transform="translate(229.50,98.47) scale(1,1.06)" font-size="7" text-anchor="start" fill="#3c52a3" font-weight="bold" textLength="47.20" lengthAdjust="spacingAndGlyphs" stroke="#3c52a3" stroke-width="0.22">ΔY/ΔX=0.0149</text>
<text transform="translate(243.00,80.84) scale(1,1.06)" font-size="6.5" font-weight="bold" fill="#111" textLength="32.00" lengthAdjust="spacingAndGlyphs" stroke="#111" stroke-width="0.22"><tspan font-style="italic">P</tspan> = 0.0004</text>
<text transform="translate(168.70,124.48) scale(1,1.06)" font-size="6.5" text-anchor="end" fill="#333" font-weight="bold" stroke="#333" stroke-width="0.22">0</text>
<text transform="translate(168.70,112.92) scale(1,1.06)" font-size="6.5" text-anchor="end" fill="#333" font-weight="bold" stroke="#333" stroke-width="0.22">1</text>
<text transform="translate(168.70,101.36) scale(1,1.06)" font-size="6.5" text-anchor="end" fill="#333" font-weight="bold" stroke="#333" stroke-width="0.22">2</text>
<text transform="translate(168.70,89.79) scale(1,1.06)" font-size="6.5" text-anchor="end" fill="#333" font-weight="bold" stroke="#333" stroke-width="0.22">3</text>
<text transform="translate(168.70,78.23) scale(1,1.06)" font-size="6.5" text-anchor="end" fill="#333" font-weight="bold" stroke="#333" stroke-width="0.22">4</text>
<text transform="translate(168.70,66.67) scale(1,1.06)" font-size="6.5" text-anchor="end" fill="#333" font-weight="bold" stroke="#333" stroke-width="0.22">5</text>
<text transform="translate(168.70,55.11) scale(1,1.06)" font-size="6.5" text-anchor="end" fill="#333" font-weight="bold" stroke="#333" stroke-width="0.22">6</text>
<text transform="translate(168.70,43.54) scale(1,1.06)" font-size="6.5" text-anchor="end" fill="#333" font-weight="bold" stroke="#333" stroke-width="0.22">7</text>
<text transform="translate(168.70,31.98) scale(1,1.06)" font-size="6.5" text-anchor="end" fill="#333" font-weight="bold" stroke="#333" stroke-width="0.22">8</text>
<text transform="translate(173.50,131.98) scale(1,1.06)" font-size="6.5" text-anchor="middle" fill="#333" font-weight="bold" stroke="#333" stroke-width="0.22">0</text>
<text transform="translate(208.17,131.98) scale(1,1.06)" font-size="6.5" text-anchor="middle" fill="#333" font-weight="bold" stroke="#333" stroke-width="0.22">20</text>
<text transform="translate(242.83,131.98) scale(1,1.06)" font-size="6.5" text-anchor="middle" fill="#333" font-weight="bold" stroke="#333" stroke-width="0.22">40</text>
<text transform="translate(277.50,131.98) scale(1,1.06)" font-size="6.5" text-anchor="middle" fill="#333" font-weight="bold" stroke="#333" stroke-width="0.22">60</text>
<g transform="translate(158.70,75.30) rotate(-90)"><text transform="translate(0.00,2.65) scale(1,1.06)" font-size="7" text-anchor="middle" fill="#1a1a1a" font-weight="bold" textLength="83.50" lengthAdjust="spacingAndGlyphs" stroke="#1a1a1a" stroke-width="0.22"><tspan font-style="italic">MMP14</tspan> Expression level</text></g>
<text transform="translate(225.50,141.75) scale(1,1.06)" font-size="7.2" text-anchor="middle" fill="#1a1a1a" font-weight="bold" textLength="87.75" lengthAdjust="spacingAndGlyphs" stroke="#1a1a1a" stroke-width="0.22"><tspan font-style="italic">TMSB4X</tspan> Expression level</text>
<text transform="translate(321.25,9.07) scale(1,1.06)" font-size="7" text-anchor="start" fill="#2a2a2a" font-weight="bold" textLength="84.25" lengthAdjust="spacingAndGlyphs" stroke="#2a2a2a" stroke-width="0.22">Brain lower grade glioma</text>
<line x1="321.25" y1="10.90" x2="405.50" y2="10.90" stroke="#9aa09a" stroke-width="1.0"/>
<text transform="translate(321.25,20.15) scale(1,1.06)" font-size="7" font-weight="bold" fill="#1a1a1a" textLength="106.00" lengthAdjust="spacingAndGlyphs" stroke="#1a1a1a" stroke-width="0.22"><tspan fill="#d9403a" stroke="#d9403a" stroke-width="0.22">MKL1&amp;2 High</tspan> (top 20%, <tspan font-style="italic">n</tspan> = 104)</text>
<text transform="translate(321.25,27.95) scale(1,1.06)" font-size="7" font-weight="bold" fill="#1a1a1a" textLength="116.50" lengthAdjust="spacingAndGlyphs" stroke="#1a1a1a" stroke-width="0.22"><tspan fill="#3b4f9e" stroke="#3b4f9e" stroke-width="0.22">MKL1&amp;2 Low</tspan> (bottom 20%, <tspan font-style="italic">n</tspan> = 104)</text>
<circle cx="348.06" cy="99.32" r="1.4" fill="#f2f2fa" stroke="#5562a2" stroke-width="0.7"/>
<circle cx="357.14" cy="88.96" r="1.4" fill="#f2f2fa" stroke="#5562a2" stroke-width="0.7"/>
<circle cx="370.49" cy="62.30" r="1.45" fill="#e48585" stroke="#b06a70" stroke-width="0.6"/>
<circle cx="347.41" cy="109.02" r="1.4" fill="#f2f2fa" stroke="#5562a2" stroke-width="0.7"/>
<circle cx="362.56" cy="102.96" r="1.4" fill="#f2f2fa" stroke="#5562a2" stroke-width="0.7"/>
<circle cx="342.95" cy="97.65" r="1.45" fill="#e48585" stroke="#b06a70" stroke-width="0.6"/>
<circle cx="366.53" cy="97.09" r="1.4" fill="#f2f2fa" stroke="#5562a2" stroke-width="0.7"/>
<circle cx="333.70" cy="110.20" r="1.4" fill="#f2f2fa" stroke="#5562a2" stroke-width="0.7"/>
<circle cx="350.27" cy="84.36" r="1.45" fill="#e48585" stroke="#b06a70" stroke-width="0.6"/>
<circle cx="386.30" cy="72.84" r="1.45" fill="#e48585" stroke="#b06a70" stroke-width="0.6"/>
<circle cx="340.57" cy="106.68" r="1.4" fill="#f2f2fa" stroke="#5562a2" stroke-width="0.7"/>
<circle cx="345.24" cy="95.56" r="1.45" fill="#e48585" stroke="#b06a70" stroke-width="0.6"/>
<circle cx="341.44" cy="100.42" r="1.45" fill="#e48585" stroke="#b06a70" stroke-width="0.6"/>
<circle cx="348.23" cy="104.92" r="1.4" fill="#f2f2fa" stroke="#5562a2" stroke-width="0.7"/>
<circle cx="360.66" cy="100.63" r="1.4" fill="#f2f2fa" stroke="#5562a2" stroke-width="0.7"/>
<circle cx="335.89" cy="104.91" r="1.45" fill="#e48585" stroke="#b06a70" stroke-width="0.6"/>
<circle cx="347.11" cy="90.01" r="1.45" fill="#e48585" stroke="#b06a70" stroke-width="0.6"/>
<circle cx="338.27" cy="113.81" r="1.4" fill="#f2f2fa" stroke="#5562a2" stroke-width="0.7"/>
<circle cx="361.99" cy="59.37" r="1.45" fill="#e48585" stroke="#b06a70" stroke-width="0.6"/>
<circle cx="345.28" cy="107.99" r="1.4" fill="#f2f2fa" stroke="#5562a2" stroke-width="0.7"/>
<circle cx="367.13" cy="97.62" r="1.4" fill="#f2f2fa" stroke="#5562a2" stroke-width="0.7"/>
<circle cx="339.14" cy="94.35" r="1.4" fill="#f2f2fa" stroke="#5562a2" stroke-width="0.7"/>
<circle cx="349.61" cy="105.07" r="1.4" fill="#f2f2fa" stroke="#5562a2" stroke-width="0.7"/>
<circle cx="339.50" cy="90.85" r="1.45" fill="#e48585" stroke="#b06a70" stroke-width="0.6"/>
<circle cx="349.75" cy="61.71" r="1.45" fill="#e48585" stroke="#b06a70" stroke-width="0.6"/>
<circle cx="344.54" cy="88.52" r="1.45" fill="#e48585" stroke="#b06a70" stroke-width="0.6"/>
<circle cx="349.30" cy="90.52" r="1.45" fill="#e48585" stroke="#b06a70" stroke-width="0.6"/>
<circle cx="351.11" cy="74.59" r="1.45" fill="#e48585" stroke="#b06a70" stroke-width="0.6"/>
<circle cx="357.54" cy="89.21" r="1.45" fill="#e48585" stroke="#b06a70" stroke-width="0.6"/>
<circle cx="339.66" cy="87.76" r="1.45" fill="#e48585" stroke="#b06a70" stroke-width="0.6"/>
<circle cx="346.62" cy="85.02" r="1.45" fill="#e48585" stroke="#b06a70" stroke-width="0.6"/>
<circle cx="381.20" cy="117.34" r="1.4" fill="#f2f2fa" stroke="#5562a2" stroke-width="0.7"/>
<circle cx="392.93" cy="55.27" r="1.45" fill="#e48585" stroke="#b06a70" stroke-width="0.6"/>
<circle cx="359.22" cy="104.81" r="1.4" fill="#f2f2fa" stroke="#5562a2" stroke-width="0.7"/>
<circle cx="337.02" cy="103.35" r="1.4" fill="#f2f2fa" stroke="#5562a2" stroke-width="0.7"/>
<circle cx="344.62" cy="80.04" r="1.45" fill="#e48585" stroke="#b06a70" stroke-width="0.6"/>
<circle cx="344.31" cy="98.66" r="1.4" fill="#f2f2fa" stroke="#5562a2" stroke-width="0.7"/>
<circle cx="325.22" cy="107.37" r="1.4" fill="#f2f2fa" stroke="#5562a2" stroke-width="0.7"/>
<circle cx="354.37" cy="100.59" r="1.4" fill="#f2f2fa" stroke="#5562a2" stroke-width="0.7"/>
<circle cx="344.31" cy="99.03" r="1.4" fill="#f2f2fa" stroke="#5562a2" stroke-width="0.7"/>
<circle cx="359.10" cy="102.25" r="1.4" fill="#f2f2fa" stroke="#5562a2" stroke-width="0.7"/>
<circle cx="359.56" cy="97.37" r="1.4" fill="#f2f2fa" stroke="#5562a2" stroke-width="0.7"/>
<circle cx="341.92" cy="89.23" r="1.45" fill="#e48585" stroke="#b06a70" stroke-width="0.6"/>
<circle cx="354.72" cy="75.29" r="1.45" fill="#e48585" stroke="#b06a70" stroke-width="0.6"/>
<circle cx="396.50" cy="79.28" r="1.45" fill="#e48585" stroke="#b06a70" stroke-width="0.6"/>
<circle cx="344.86" cy="86.39" r="1.45" fill="#e48585" stroke="#b06a70" stroke-width="0.6"/>
<circle cx="353.94" cy="98.11" r="1.45" fill="#e48585" stroke="#b06a70" stroke-width="0.6"/>
<circle cx="380.30" cy="104.69" r="1.4" fill="#f2f2fa" stroke="#5562a2" stroke-width="0.7"/>
<circle cx="376.10" cy="83.38" r="1.45" fill="#e48585" stroke="#b06a70" stroke-width="0.6"/>
<circle cx="331.90" cy="105.22" r="1.45" fill="#e48585" stroke="#b06a70" stroke-width="0.6"/>
<circle cx="341.68" cy="102.64" r="1.4" fill="#f2f2fa" stroke="#5562a2" stroke-width="0.7"/>
<circle cx="344.01" cy="104.13" r="1.4" fill="#f2f2fa" stroke="#5562a2" stroke-width="0.7"/>
<circle cx="339.65" cy="89.20" r="1.4" fill="#f2f2fa" stroke="#5562a2" stroke-width="0.7"/>
<circle cx="353.00" cy="85.11" r="1.4" fill="#f2f2fa" stroke="#5562a2" stroke-width="0.7"/>
<circle cx="348.46" cy="108.31" r="1.4" fill="#f2f2fa" stroke="#5562a2" stroke-width="0.7"/>
<circle cx="331.90" cy="96.24" r="1.45" fill="#e48585" stroke="#b06a70" stroke-width="0.6"/>
<circle cx="335.07" cy="89.96" r="1.45" fill="#e48585" stroke="#b06a70" stroke-width="0.6"/>
<circle cx="349.06" cy="89.43" r="1.45" fill="#e48585" stroke="#b06a70" stroke-width="0.6"/>
<circle cx="368.62" cy="65.81" r="1.45" fill="#e48585" stroke="#b06a70" stroke-width="0.6"/>
<circle cx="344.48" cy="72.84" r="1.45" fill="#e48585" stroke="#b06a70" stroke-width="0.6"/>
<circle cx="339.39" cy="113.45" r="1.4" fill="#f2f2fa" stroke="#5562a2" stroke-width="0.7"/>
<circle cx="337.72" cy="92.27" r="1.45" fill="#e48585" stroke="#b06a70" stroke-width="0.6"/>
<circle cx="353.88" cy="96.38" r="1.4" fill="#f2f2fa" stroke="#5562a2" stroke-width="0.7"/>
<circle cx="346.44" cy="94.13" r="1.4" fill="#f2f2fa" stroke="#5562a2" stroke-width="0.7"/>
<circle cx="364.85" cy="104.58" r="1.4" fill="#f2f2fa" stroke="#5562a2" stroke-width="0.7"/>
<circle cx="336.50" cy="104.74" r="1.4" fill="#f2f2fa" stroke="#5562a2" stroke-width="0.7"/>
<circle cx="346.33" cy="104.76" r="1.4" fill="#f2f2fa" stroke="#5562a2" stroke-width="0.7"/>
<circle cx="353.72" cy="95.76" r="1.4" fill="#f2f2fa" stroke="#5562a2" stroke-width="0.7"/>
<circle cx="344.87" cy="95.21" r="1.4" fill="#f2f2fa" stroke="#5562a2" stroke-width="0.7"/>
<circle cx="348.07" cy="99.89" r="1.4" fill="#f2f2fa" stroke="#5562a2" stroke-width="0.7"/>
<circle cx="348.62" cy="94.77" r="1.4" fill="#f2f2fa" stroke="#5562a2" stroke-width="0.7"/>
<circle cx="345.81" cy="99.17" r="1.4" fill="#f2f2fa" stroke="#5562a2" stroke-width="0.7"/>
<circle cx="326.59" cy="107.43" r="1.4" fill="#f2f2fa" stroke="#5562a2" stroke-width="0.7"/>
<circle cx="339.24" cy="81.34" r="1.45" fill="#e48585" stroke="#b06a70" stroke-width="0.6"/>
<circle cx="338.96" cy="112.23" r="1.4" fill="#f2f2fa" stroke="#5562a2" stroke-width="0.7"/>
<circle cx="362.36" cy="98.78" r="1.4" fill="#f2f2fa" stroke="#5562a2" stroke-width="0.7"/>
<circle cx="337.24" cy="96.01" r="1.45" fill="#e48585" stroke="#b06a70" stroke-width="0.6"/>
<circle cx="357.61" cy="93.75" r="1.4" fill="#f2f2fa" stroke="#5562a2" stroke-width="0.7"/>
<circle cx="357.79" cy="91.67" r="1.4" fill="#f2f2fa" stroke="#5562a2" stroke-width="0.7"/>
<circle cx="350.70" cy="98.33" r="1.4" fill="#f2f2fa" stroke="#5562a2" stroke-width="0.7"/>
<circle cx="341.69" cy="88.91" r="1.45" fill="#e48585" stroke="#b06a70" stroke-width="0.6"/>
<circle cx="338.75" cy="93.48" r="1.45" fill="#e48585" stroke="#b06a70" stroke-width="0.6"/>
<circle cx="349.23" cy="88.37" r="1.45" fill="#e48585" stroke="#b06a70" stroke-width="0.6"/>
<circle cx="356.20" cy="98.73" r="1.4" fill="#f2f2fa" stroke="#5562a2" stroke-width="0.7"/>
<circle cx="370.90" cy="109.81" r="1.4" fill="#f2f2fa" stroke="#5562a2" stroke-width="0.7"/>
<circle cx="342.66" cy="97.35" r="1.45" fill="#e48585" stroke="#b06a70" stroke-width="0.6"/>
<circle cx="368.90" cy="111.26" r="1.4" fill="#f2f2fa" stroke="#5562a2" stroke-width="0.7"/>
<circle cx="341.47" cy="89.00" r="1.45" fill="#e48585" stroke="#b06a70" stroke-width="0.6"/>
<circle cx="349.09" cy="90.99" r="1.45" fill="#e48585" stroke="#b06a70" stroke-width="0.6"/>
<circle cx="341.57" cy="86.18" r="1.45" fill="#e48585" stroke="#b06a70" stroke-width="0.6"/>
<circle cx="343.95" cy="99.92" r="1.45" fill="#e48585" stroke="#b06a70" stroke-width="0.6"/>
<circle cx="340.54" cy="98.37" r="1.45" fill="#e48585" stroke="#b06a70" stroke-width="0.6"/>
<circle cx="342.90" cy="107.24" r="1.4" fill="#f2f2fa" stroke="#5562a2" stroke-width="0.7"/>
<circle cx="363.26" cy="84.32" r="1.4" fill="#f2f2fa" stroke="#5562a2" stroke-width="0.7"/>
<circle cx="354.85" cy="93.20" r="1.4" fill="#f2f2fa" stroke="#5562a2" stroke-width="0.7"/>
<circle cx="365.39" cy="91.28" r="1.4" fill="#f2f2fa" stroke="#5562a2" stroke-width="0.7"/>
<circle cx="330.32" cy="100.59" r="1.4" fill="#f2f2fa" stroke="#5562a2" stroke-width="0.7"/>
<circle cx="350.21" cy="90.57" r="1.45" fill="#e48585" stroke="#b06a70" stroke-width="0.6"/>
<circle cx="380.86" cy="79.86" r="1.45" fill="#e48585" stroke="#b06a70" stroke-width="0.6"/>
<circle cx="347.60" cy="91.26" r="1.45" fill="#e48585" stroke="#b06a70" stroke-width="0.6"/>
<circle cx="349.33" cy="96.87" r="1.4" fill="#f2f2fa" stroke="#5562a2" stroke-width="0.7"/>
<circle cx="340.44" cy="94.00" r="1.45" fill="#e48585" stroke="#b06a70" stroke-width="0.6"/>
<circle cx="359.03" cy="100.94" r="1.4" fill="#f2f2fa" stroke="#5562a2" stroke-width="0.7"/>
<circle cx="339.51" cy="95.77" r="1.4" fill="#f2f2fa" stroke="#5562a2" stroke-width="0.7"/>
<circle cx="353.23" cy="99.29" r="1.4" fill="#f2f2fa" stroke="#5562a2" stroke-width="0.7"/>
<circle cx="340.83" cy="102.06" r="1.4" fill="#f2f2fa" stroke="#5562a2" stroke-width="0.7"/>
<circle cx="350.52" cy="85.76" r="1.4" fill="#f2f2fa" stroke="#5562a2" stroke-width="0.7"/>
<circle cx="364.86" cy="91.61" r="1.4" fill="#f2f2fa" stroke="#5562a2" stroke-width="0.7"/>
<circle cx="340.15" cy="104.17" r="1.45" fill="#e48585" stroke="#b06a70" stroke-width="0.6"/>
<circle cx="348.62" cy="92.82" r="1.45" fill="#e48585" stroke="#b06a70" stroke-width="0.6"/>
<circle cx="345.19" cy="86.59" r="1.45" fill="#e48585" stroke="#b06a70" stroke-width="0.6"/>
<circle cx="380.74" cy="101.17" r="1.4" fill="#f2f2fa" stroke="#5562a2" stroke-width="0.7"/>
<circle cx="355.45" cy="88.48" r="1.4" fill="#f2f2fa" stroke="#5562a2" stroke-width="0.7"/>
<circle cx="364.47" cy="104.39" r="1.4" fill="#f2f2fa" stroke="#5562a2" stroke-width="0.7"/>
<circle cx="396.50" cy="108.56" r="1.4" fill="#f2f2fa" stroke="#5562a2" stroke-width="0.7"/>
<circle cx="367.80" cy="98.57" r="1.4" fill="#f2f2fa" stroke="#5562a2" stroke-width="0.7"/>
<circle cx="346.07" cy="103.15" r="1.4" fill="#f2f2fa" stroke="#5562a2" stroke-width="0.7"/>
<circle cx="339.69" cy="99.86" r="1.4" fill="#f2f2fa" stroke="#5562a2" stroke-width="0.7"/>
<circle cx="338.72" cy="103.64" r="1.4" fill="#f2f2fa" stroke="#5562a2" stroke-width="0.7"/>
<circle cx="344.13" cy="93.06" r="1.45" fill="#e48585" stroke="#b06a70" stroke-width="0.6"/>
<circle cx="337.19" cy="109.30" r="1.4" fill="#f2f2fa" stroke="#5562a2" stroke-width="0.7"/>
<circle cx="344.13" cy="104.78" r="1.4" fill="#f2f2fa" stroke="#5562a2" stroke-width="0.7"/>
<circle cx="344.63" cy="95.27" r="1.45" fill="#e48585" stroke="#b06a70" stroke-width="0.6"/>
<circle cx="341.45" cy="99.29" r="1.4" fill="#f2f2fa" stroke="#5562a2" stroke-width="0.7"/>
<circle cx="342.30" cy="95.50" r="1.45" fill="#e48585" stroke="#b06a70" stroke-width="0.6"/>
<circle cx="351.98" cy="108.06" r="1.4" fill="#f2f2fa" stroke="#5562a2" stroke-width="0.7"/>
<circle cx="405.00" cy="99.78" r="1.4" fill="#f2f2fa" stroke="#5562a2" stroke-width="0.7"/>
<circle cx="346.90" cy="104.84" r="1.4" fill="#f2f2fa" stroke="#5562a2" stroke-width="0.7"/>
<circle cx="348.39" cy="38.87" r="1.45" fill="#e48585" stroke="#b06a70" stroke-width="0.6"/>
<circle cx="335.09" cy="103.38" r="1.4" fill="#f2f2fa" stroke="#5562a2" stroke-width="0.7"/>
<circle cx="382.90" cy="67.57" r="1.45" fill="#e48585" stroke="#b06a70" stroke-width="0.6"/>
<circle cx="348.36" cy="93.83" r="1.4" fill="#f2f2fa" stroke="#5562a2" stroke-width="0.7"/>
<circle cx="340.57" cy="105.63" r="1.45" fill="#e48585" stroke="#b06a70" stroke-width="0.6"/>
<circle cx="343.81" cy="104.91" r="1.4" fill="#f2f2fa" stroke="#5562a2" stroke-width="0.7"/>
<circle cx="337.00" cy="76.35" r="1.4" fill="#f2f2fa" stroke="#5562a2" stroke-width="0.7"/>
<circle cx="374.06" cy="78.11" r="1.45" fill="#e48585" stroke="#b06a70" stroke-width="0.6"/>
<circle cx="359.68" cy="96.64" r="1.4" fill="#f2f2fa" stroke="#5562a2" stroke-width="0.7"/>
<circle cx="340.40" cy="114.42" r="1.4" fill="#f2f2fa" stroke="#5562a2" stroke-width="0.7"/>
<circle cx="353.74" cy="98.92" r="1.4" fill="#f2f2fa" stroke="#5562a2" stroke-width="0.7"/>
<circle cx="346.53" cy="95.35" r="1.4" fill="#f2f2fa" stroke="#5562a2" stroke-width="0.7"/>
<circle cx="339.20" cy="86.88" r="1.45" fill="#e48585" stroke="#b06a70" stroke-width="0.6"/>
<circle cx="352.92" cy="93.00" r="1.45" fill="#e48585" stroke="#b06a70" stroke-width="0.6"/>
<circle cx="356.04" cy="76.35" r="1.45" fill="#e48585" stroke="#b06a70" stroke-width="0.6"/>
<circle cx="338.53" cy="90.81" r="1.4" fill="#f2f2fa" stroke="#5562a2" stroke-width="0.7"/>
<circle cx="338.75" cy="106.27" r="1.4" fill="#f2f2fa" stroke="#5562a2" stroke-width="0.7"/>
<circle cx="354.04" cy="84.81" r="1.45" fill="#e48585" stroke="#b06a70" stroke-width="0.6"/>
<circle cx="331.90" cy="104.92" r="1.45" fill="#e48585" stroke="#b06a70" stroke-width="0.6"/>
<circle cx="333.85" cy="102.92" r="1.4" fill="#f2f2fa" stroke="#5562a2" stroke-width="0.7"/>
<circle cx="342.15" cy="95.26" r="1.4" fill="#f2f2fa" stroke="#5562a2" stroke-width="0.7"/>
<circle cx="352.59" cy="100.59" r="1.4" fill="#f2f2fa" stroke="#5562a2" stroke-width="0.7"/>
<circle cx="346.01" cy="103.21" r="1.4" fill="#f2f2fa" stroke="#5562a2" stroke-width="0.7"/>
<circle cx="325.10" cy="108.97" r="1.4" fill="#f2f2fa" stroke="#5562a2" stroke-width="0.7"/>
<circle cx="342.52" cy="91.65" r="1.45" fill="#e48585" stroke="#b06a70" stroke-width="0.6"/>
<circle cx="409.08" cy="68.74" r="1.45" fill="#e48585" stroke="#b06a70" stroke-width="0.6"/>
<circle cx="402.28" cy="65.81" r="1.45" fill="#e48585" stroke="#b06a70" stroke-width="0.6"/>
<circle cx="344.64" cy="96.39" r="1.45" fill="#e48585" stroke="#b06a70" stroke-width="0.6"/>
<circle cx="417.07" cy="41.80" r="1.45" fill="#e48585" stroke="#b06a70" stroke-width="0.6"/>
<circle cx="364.71" cy="84.55" r="1.45" fill="#e48585" stroke="#b06a70" stroke-width="0.6"/>
<circle cx="347.17" cy="101.71" r="1.4" fill="#f2f2fa" stroke="#5562a2" stroke-width="0.7"/>
<circle cx="359.10" cy="44.14" r="1.45" fill="#e48585" stroke="#b06a70" stroke-width="0.6"/>
<circle cx="360.72" cy="91.94" r="1.4" fill="#f2f2fa" stroke="#5562a2" stroke-width="0.7"/>
<circle cx="357.71" cy="106.41" r="1.4" fill="#f2f2fa" stroke="#5562a2" stroke-width="0.7"/>
<circle cx="332.62" cy="94.13" r="1.4" fill="#f2f2fa" stroke="#5562a2" stroke-width="0.7"/>
<circle cx="364.36" cy="110.24" r="1.4" fill="#f2f2fa" stroke="#5562a2" stroke-width="0.7"/>
<circle cx="343.55" cy="86.02" r="1.45" fill="#e48585" stroke="#b06a70" stroke-width="0.6"/>
<circle cx="347.24" cy="100.88" r="1.4" fill="#f2f2fa" stroke="#5562a2" stroke-width="0.7"/>
<circle cx="347.78" cy="110.54" r="1.4" fill="#f2f2fa" stroke="#5562a2" stroke-width="0.7"/>
<circle cx="347.76" cy="89.50" r="1.45" fill="#e48585" stroke="#b06a70" stroke-width="0.6"/>
<circle cx="357.60" cy="92.13" r="1.4" fill="#f2f2fa" stroke="#5562a2" stroke-width="0.7"/>
<circle cx="341.88" cy="95.54" r="1.45" fill="#e48585" stroke="#b06a70" stroke-width="0.6"/>
<circle cx="348.90" cy="103.83" r="1.4" fill="#f2f2fa" stroke="#5562a2" stroke-width="0.7"/>
<circle cx="331.90" cy="104.79" r="1.45" fill="#e48585" stroke="#b06a70" stroke-width="0.6"/>
<circle cx="342.23" cy="105.15" r="1.4" fill="#f2f2fa" stroke="#5562a2" stroke-width="0.7"/>
<circle cx="346.53" cy="98.22" r="1.45" fill="#e48585" stroke="#b06a70" stroke-width="0.6"/>
<circle cx="357.40" cy="81.03" r="1.45" fill="#e48585" stroke="#b06a70" stroke-width="0.6"/>
<circle cx="346.07" cy="91.61" r="1.45" fill="#e48585" stroke="#b06a70" stroke-width="0.6"/>
<circle cx="413.16" cy="72.84" r="1.45" fill="#e48585" stroke="#b06a70" stroke-width="0.6"/>
<rect x="320.00" y="29.50" width="102.00" height="93.70" fill="none" stroke="#a0a0a8" stroke-width="0.9"/>
<line x1="332.5" y1="95" x2="417.5" y2="53" stroke="#d8412e" stroke-width="1.6"/>
<line x1="325" y1="102.5" x2="407.5" y2="91.25" stroke="#3553a3" stroke-width="1.6"/>
<text transform="translate(372.30,50.17) scale(1,1.06)" font-size="7" text-anchor="start" fill="#d9453f" font-weight="bold" textLength="46.00" lengthAdjust="spacingAndGlyphs" stroke="#d9453f" stroke-width="0.22">ΔY/ΔX=0.1524</text>
<text transform="translate(372.50,111.92) scale(1,1.06)" font-size="7" text-anchor="start" fill="#3c52a3" font-weight="bold" textLength="46.25" lengthAdjust="spacingAndGlyphs" stroke="#3c52a3" stroke-width="0.22">ΔY/ΔX=0.0421</text>
<text transform="translate(387.50,83.29) scale(1,1.06)" font-size="6.5" font-weight="bold" fill="#111" textLength="32.00" lengthAdjust="spacingAndGlyphs" stroke="#111" stroke-width="0.22"><tspan font-style="italic">P</tspan> &lt; 0.0001</text>
<text transform="translate(316.00,125.68) scale(1,1.06)" font-size="6.5" text-anchor="end" fill="#333" font-weight="bold" stroke="#333" stroke-width="0.22">0</text>
<text transform="translate(316.00,113.97) scale(1,1.06)" font-size="6.5" text-anchor="end" fill="#333" font-weight="bold" stroke="#333" stroke-width="0.22">2</text>
<text transform="translate(316.00,102.26) scale(1,1.06)" font-size="6.5" text-anchor="end" fill="#333" font-weight="bold" stroke="#333" stroke-width="0.22">4</text>
<text transform="translate(316.00,90.54) scale(1,1.06)" font-size="6.5" text-anchor="end" fill="#333" font-weight="bold" stroke="#333" stroke-width="0.22">6</text>
<text transform="translate(316.00,78.83) scale(1,1.06)" font-size="6.5" text-anchor="end" fill="#333" font-weight="bold" stroke="#333" stroke-width="0.22">8</text>
<text transform="translate(316.00,67.12) scale(1,1.06)" font-size="6.5" text-anchor="end" fill="#333" font-weight="bold" stroke="#333" stroke-width="0.22">10</text>
<text transform="translate(316.00,55.41) scale(1,1.06)" font-size="6.5" text-anchor="end" fill="#333" font-weight="bold" stroke="#333" stroke-width="0.22">12</text>
<text transform="translate(316.00,43.69) scale(1,1.06)" font-size="6.5" text-anchor="end" fill="#333" font-weight="bold" stroke="#333" stroke-width="0.22">14</text>
<text transform="translate(316.00,31.98) scale(1,1.06)" font-size="6.5" text-anchor="end" fill="#333" font-weight="bold" stroke="#333" stroke-width="0.22">16</text>
<text transform="translate(320.00,132.48) scale(1,1.06)" font-size="6.5" text-anchor="middle" fill="#333" font-weight="bold" stroke="#333" stroke-width="0.22">0</text>
<text transform="translate(354.00,132.48) scale(1,1.06)" font-size="6.5" text-anchor="middle" fill="#333" font-weight="bold" stroke="#333" stroke-width="0.22">20</text>
<text transform="translate(388.00,132.48) scale(1,1.06)" font-size="6.5" text-anchor="middle" fill="#333" font-weight="bold" stroke="#333" stroke-width="0.22">40</text>
<text transform="translate(422.00,132.48) scale(1,1.06)" font-size="6.5" text-anchor="middle" fill="#333" font-weight="bold" stroke="#333" stroke-width="0.22">60</text>
<g transform="translate(304.80,77.70) rotate(-90)"><text transform="translate(0.00,2.65) scale(1,1.06)" font-size="7" text-anchor="middle" fill="#1a1a1a" font-weight="bold" textLength="83.80" lengthAdjust="spacingAndGlyphs" stroke="#1a1a1a" stroke-width="0.22"><tspan font-style="italic">MYH9</tspan> Expression level</text></g>
<text transform="translate(370.50,141.95) scale(1,1.06)" font-size="7.2" text-anchor="middle" fill="#1a1a1a" font-weight="bold" textLength="87.75" lengthAdjust="spacingAndGlyphs" stroke="#1a1a1a" stroke-width="0.22"><tspan font-style="italic">TMSB4X</tspan> Expression level</text>
<text transform="translate(26.00,158.67) scale(1,1.06)" font-size="7" text-anchor="start" fill="#2a2a2a" font-weight="bold" textLength="110.70" lengthAdjust="spacingAndGlyphs" stroke="#2a2a2a" stroke-width="0.22">Kidney renal clear cell carcinoma</text>
<line x1="26.00" y1="160.50" x2="136.70" y2="160.50" stroke="#9aa09a" stroke-width="1.0"/>
<text transform="translate(26.00,169.95) scale(1,1.06)" font-size="7" font-weight="bold" fill="#1a1a1a" textLength="100.30" lengthAdjust="spacingAndGlyphs" stroke="#1a1a1a" stroke-width="0.22"><tspan fill="#d9403a" stroke="#d9403a" stroke-width="0.22">MKL1&amp;2 High</tspan> (top 20%, <tspan font-style="italic">n</tspan> = 92)</text>
<text transform="translate(26.00,178.25) scale(1,1.06)" font-size="7" font-weight="bold" fill="#1a1a1a" textLength="112.40" lengthAdjust="spacingAndGlyphs" stroke="#1a1a1a" stroke-width="0.22"><tspan fill="#3b4f9e" stroke="#3b4f9e" stroke-width="0.22">MKL1&amp;2 Low</tspan> (bottom 20%, <tspan font-style="italic">n</tspan> = 92)</text>
<circle cx="66.25" cy="235.43" r="1.45" fill="#e48585" stroke="#b06a70" stroke-width="0.6"/>
<circle cx="55.99" cy="253.42" r="1.45" fill="#e48585" stroke="#b06a70" stroke-width="0.6"/>
<circle cx="57.54" cy="258.58" r="1.4" fill="#f2f2fa" stroke="#5562a2" stroke-width="0.7"/>
<circle cx="55.71" cy="245.94" r="1.4" fill="#f2f2fa" stroke="#5562a2" stroke-width="0.7"/>
<circle cx="69.52" cy="248.64" r="1.45" fill="#e48585" stroke="#b06a70" stroke-width="0.6"/>
<circle cx="42.57" cy="253.16" r="1.4" fill="#f2f2fa" stroke="#5562a2" stroke-width="0.7"/>
<circle cx="57.97" cy="255.06" r="1.45" fill="#e48585" stroke="#b06a70" stroke-width="0.6"/>
<circle cx="52.73" cy="243.88" r="1.45" fill="#e48585" stroke="#b06a70" stroke-width="0.6"/>
<circle cx="82.37" cy="226.77" r="1.45" fill="#e48585" stroke="#b06a70" stroke-width="0.6"/>
<circle cx="73.59" cy="253.52" r="1.4" fill="#f2f2fa" stroke="#5562a2" stroke-width="0.7"/>
<circle cx="49.56" cy="259.10" r="1.4" fill="#f2f2fa" stroke="#5562a2" stroke-width="0.7"/>
<circle cx="42.88" cy="260.10" r="1.4" fill="#f2f2fa" stroke="#5562a2" stroke-width="0.7"/>
<circle cx="68.07" cy="260.27" r="1.4" fill="#f2f2fa" stroke="#5562a2" stroke-width="0.7"/>
<circle cx="56.52" cy="231.97" r="1.45" fill="#e48585" stroke="#b06a70" stroke-width="0.6"/>
<circle cx="76.10" cy="249.86" r="1.4" fill="#f2f2fa" stroke="#5562a2" stroke-width="0.7"/>
<circle cx="51.22" cy="248.90" r="1.4" fill="#f2f2fa" stroke="#5562a2" stroke-width="0.7"/>
<circle cx="39.10" cy="258.85" r="1.4" fill="#f2f2fa" stroke="#5562a2" stroke-width="0.7"/>
<circle cx="61.90" cy="248.53" r="1.45" fill="#e48585" stroke="#b06a70" stroke-width="0.6"/>
<circle cx="37.62" cy="271.19" r="1.45" fill="#e48585" stroke="#b06a70" stroke-width="0.6"/>
<circle cx="67.35" cy="271.19" r="1.4" fill="#f2f2fa" stroke="#5562a2" stroke-width="0.7"/>
<circle cx="68.64" cy="251.14" r="1.4" fill="#f2f2fa" stroke="#5562a2" stroke-width="0.7"/>
<circle cx="52.73" cy="271.19" r="1.4" fill="#f2f2fa" stroke="#5562a2" stroke-width="0.7"/>
<circle cx="42.88" cy="266.87" r="1.4" fill="#f2f2fa" stroke="#5562a2" stroke-width="0.7"/>
<circle cx="51.87" cy="260.64" r="1.4" fill="#f2f2fa" stroke="#5562a2" stroke-width="0.7"/>
<circle cx="43.81" cy="259.58" r="1.45" fill="#e48585" stroke="#b06a70" stroke-width="0.6"/>
<circle cx="106.43" cy="264.92" r="1.4" fill="#f2f2fa" stroke="#5562a2" stroke-width="0.7"/>
<circle cx="70.22" cy="227.99" r="1.45" fill="#e48585" stroke="#b06a70" stroke-width="0.6"/>
<circle cx="53.42" cy="235.05" r="1.45" fill="#e48585" stroke="#b06a70" stroke-width="0.6"/>
<circle cx="43.21" cy="259.03" r="1.4" fill="#f2f2fa" stroke="#5562a2" stroke-width="0.7"/>
<circle cx="97.19" cy="215.81" r="1.45" fill="#e48585" stroke="#b06a70" stroke-width="0.6"/>
<circle cx="69.46" cy="197.72" r="1.45" fill="#e48585" stroke="#b06a70" stroke-width="0.6"/>
<circle cx="67.65" cy="259.50" r="1.4" fill="#f2f2fa" stroke="#5562a2" stroke-width="0.7"/>
<circle cx="63.49" cy="247.88" r="1.4" fill="#f2f2fa" stroke="#5562a2" stroke-width="0.7"/>
<circle cx="107.46" cy="246.46" r="1.4" fill="#f2f2fa" stroke="#5562a2" stroke-width="0.7"/>
<circle cx="62.52" cy="259.89" r="1.4" fill="#f2f2fa" stroke="#5562a2" stroke-width="0.7"/>
<circle cx="43.11" cy="264.58" r="1.4" fill="#f2f2fa" stroke="#5562a2" stroke-width="0.7"/>
<circle cx="44.42" cy="254.78" r="1.45" fill="#e48585" stroke="#b06a70" stroke-width="0.6"/>
<circle cx="51.84" cy="265.06" r="1.45" fill="#e48585" stroke="#b06a70" stroke-width="0.6"/>
<circle cx="49.95" cy="215.07" r="1.45" fill="#e48585" stroke="#b06a70" stroke-width="0.6"/>
<circle cx="45.37" cy="247.42" r="1.45" fill="#e48585" stroke="#b06a70" stroke-width="0.6"/>
<circle cx="57.34" cy="257.57" r="1.45" fill="#e48585" stroke="#b06a70" stroke-width="0.6"/>
<circle cx="58.41" cy="242.13" r="1.45" fill="#e48585" stroke="#b06a70" stroke-width="0.6"/>
<circle cx="38.98" cy="251.57" r="1.4" fill="#f2f2fa" stroke="#5562a2" stroke-width="0.7"/>
<circle cx="52.02" cy="253.77" r="1.4" fill="#f2f2fa" stroke="#5562a2" stroke-width="0.7"/>
<circle cx="74.98" cy="252.72" r="1.4" fill="#f2f2fa" stroke="#5562a2" stroke-width="0.7"/>
<circle cx="82.36" cy="218.06" r="1.45" fill="#e48585" stroke="#b06a70" stroke-width="0.6"/>
<circle cx="56.42" cy="265.56" r="1.4" fill="#f2f2fa" stroke="#5562a2" stroke-width="0.7"/>
<circle cx="81.78" cy="207.69" r="1.45" fill="#e48585" stroke="#b06a70" stroke-width="0.6"/>
<circle cx="62.07" cy="266.35" r="1.4" fill="#f2f2fa" stroke="#5562a2" stroke-width="0.7"/>
<circle cx="112.59" cy="222.46" r="1.45" fill="#e48585" stroke="#b06a70" stroke-width="0.6"/>
<circle cx="39.90" cy="267.85" r="1.4" fill="#f2f2fa" stroke="#5562a2" stroke-width="0.7"/>
<circle cx="60.97" cy="254.39" r="1.4" fill="#f2f2fa" stroke="#5562a2" stroke-width="0.7"/>
<circle cx="38.54" cy="258.59" r="1.45" fill="#e48585" stroke="#b06a70" stroke-width="0.6"/>
<circle cx="58.78" cy="238.20" r="1.45" fill="#e48585" stroke="#b06a70" stroke-width="0.6"/>
<circle cx="99.84" cy="205.27" r="1.45" fill="#e48585" stroke="#b06a70" stroke-width="0.6"/>
<circle cx="58.06" cy="249.80" r="1.45" fill="#e48585" stroke="#b06a70" stroke-width="0.6"/>
<circle cx="42.68" cy="252.80" r="1.45" fill="#e48585" stroke="#b06a70" stroke-width="0.6"/>
<circle cx="84.77" cy="236.96" r="1.45" fill="#e48585" stroke="#b06a70" stroke-width="0.6"/>
<circle cx="73.71" cy="223.29" r="1.45" fill="#e48585" stroke="#b06a70" stroke-width="0.6"/>
<circle cx="36.18" cy="245.75" r="1.4" fill="#f2f2fa" stroke="#5562a2" stroke-width="0.7"/>
<circle cx="88.80" cy="235.63" r="1.45" fill="#e48585" stroke="#b06a70" stroke-width="0.6"/>
<circle cx="49.54" cy="259.47" r="1.4" fill="#f2f2fa" stroke="#5562a2" stroke-width="0.7"/>
<circle cx="47.96" cy="253.35" r="1.45" fill="#e48585" stroke="#b06a70" stroke-width="0.6"/>
<circle cx="66.67" cy="262.06" r="1.45" fill="#e48585" stroke="#b06a70" stroke-width="0.6"/>
<circle cx="69.64" cy="249.40" r="1.4" fill="#f2f2fa" stroke="#5562a2" stroke-width="0.7"/>
<circle cx="55.90" cy="254.70" r="1.4" fill="#f2f2fa" stroke="#5562a2" stroke-width="0.7"/>
<circle cx="62.69" cy="242.88" r="1.45" fill="#e48585" stroke="#b06a70" stroke-width="0.6"/>
<circle cx="45.91" cy="255.25" r="1.45" fill="#e48585" stroke="#b06a70" stroke-width="0.6"/>
<circle cx="95.14" cy="239.07" r="1.4" fill="#f2f2fa" stroke="#5562a2" stroke-width="0.7"/>
<circle cx="51.97" cy="271.19" r="1.4" fill="#f2f2fa" stroke="#5562a2" stroke-width="0.7"/>
<circle cx="59.13" cy="263.07" r="1.4" fill="#f2f2fa" stroke="#5562a2" stroke-width="0.7"/>
<circle cx="49.18" cy="261.94" r="1.4" fill="#f2f2fa" stroke="#5562a2" stroke-width="0.7"/>
<circle cx="63.33" cy="254.12" r="1.4" fill="#f2f2fa" stroke="#5562a2" stroke-width="0.7"/>
<circle cx="45.80" cy="256.24" r="1.4" fill="#f2f2fa" stroke="#5562a2" stroke-width="0.7"/>
<circle cx="43.57" cy="267.01" r="1.4" fill="#f2f2fa" stroke="#5562a2" stroke-width="0.7"/>
<circle cx="47.19" cy="239.39" r="1.45" fill="#e48585" stroke="#b06a70" stroke-width="0.6"/>
<circle cx="61.93" cy="230.31" r="1.45" fill="#e48585" stroke="#b06a70" stroke-width="0.6"/>
<circle cx="101.91" cy="223.36" r="1.45" fill="#e48585" stroke="#b06a70" stroke-width="0.6"/>
<circle cx="53.34" cy="241.85" r="1.45" fill="#e48585" stroke="#b06a70" stroke-width="0.6"/>
<circle cx="46.85" cy="244.37" r="1.45" fill="#e48585" stroke="#b06a70" stroke-width="0.6"/>
<circle cx="41.46" cy="257.53" r="1.45" fill="#e48585" stroke="#b06a70" stroke-width="0.6"/>
<circle cx="78.53" cy="255.28" r="1.4" fill="#f2f2fa" stroke="#5562a2" stroke-width="0.7"/>
<circle cx="93.26" cy="224.33" r="1.45" fill="#e48585" stroke="#b06a70" stroke-width="0.6"/>
<circle cx="66.04" cy="250.43" r="1.45" fill="#e48585" stroke="#b06a70" stroke-width="0.6"/>
<circle cx="37.62" cy="233.68" r="1.45" fill="#e48585" stroke="#b06a70" stroke-width="0.6"/>
<circle cx="55.21" cy="232.37" r="1.45" fill="#e48585" stroke="#b06a70" stroke-width="0.6"/>
<circle cx="46.67" cy="263.00" r="1.45" fill="#e48585" stroke="#b06a70" stroke-width="0.6"/>
<circle cx="54.65" cy="267.59" r="1.45" fill="#e48585" stroke="#b06a70" stroke-width="0.6"/>
<circle cx="62.89" cy="237.64" r="1.4" fill="#f2f2fa" stroke="#5562a2" stroke-width="0.7"/>
<circle cx="60.85" cy="251.61" r="1.45" fill="#e48585" stroke="#b06a70" stroke-width="0.6"/>
<circle cx="48.01" cy="247.42" r="1.45" fill="#e48585" stroke="#b06a70" stroke-width="0.6"/>
<circle cx="61.22" cy="241.17" r="1.45" fill="#e48585" stroke="#b06a70" stroke-width="0.6"/>
<circle cx="72.41" cy="257.87" r="1.4" fill="#f2f2fa" stroke="#5562a2" stroke-width="0.7"/>
<circle cx="72.57" cy="257.51" r="1.4" fill="#f2f2fa" stroke="#5562a2" stroke-width="0.7"/>
<circle cx="52.32" cy="263.45" r="1.4" fill="#f2f2fa" stroke="#5562a2" stroke-width="0.7"/>
<circle cx="74.32" cy="252.17" r="1.4" fill="#f2f2fa" stroke="#5562a2" stroke-width="0.7"/>
<circle cx="48.50" cy="271.17" r="1.4" fill="#f2f2fa" stroke="#5562a2" stroke-width="0.7"/>
<circle cx="82.80" cy="243.19" r="1.45" fill="#e48585" stroke="#b06a70" stroke-width="0.6"/>
<circle cx="69.49" cy="251.59" r="1.4" fill="#f2f2fa" stroke="#5562a2" stroke-width="0.7"/>
<circle cx="60.08" cy="252.58" r="1.45" fill="#e48585" stroke="#b06a70" stroke-width="0.6"/>
<circle cx="47.52" cy="263.13" r="1.4" fill="#f2f2fa" stroke="#5562a2" stroke-width="0.7"/>
<circle cx="83.77" cy="241.76" r="1.45" fill="#e48585" stroke="#b06a70" stroke-width="0.6"/>
<circle cx="57.75" cy="256.73" r="1.45" fill="#e48585" stroke="#b06a70" stroke-width="0.6"/>
<circle cx="54.06" cy="205.84" r="1.45" fill="#e48585" stroke="#b06a70" stroke-width="0.6"/>
<circle cx="37.56" cy="254.30" r="1.4" fill="#f2f2fa" stroke="#5562a2" stroke-width="0.7"/>
<circle cx="51.35" cy="253.86" r="1.45" fill="#e48585" stroke="#b06a70" stroke-width="0.6"/>
<circle cx="51.94" cy="264.72" r="1.4" fill="#f2f2fa" stroke="#5562a2" stroke-width="0.7"/>
<circle cx="68.06" cy="222.95" r="1.45" fill="#e48585" stroke="#b06a70" stroke-width="0.6"/>
<circle cx="72.31" cy="255.22" r="1.4" fill="#f2f2fa" stroke="#5562a2" stroke-width="0.7"/>
<circle cx="87.26" cy="228.81" r="1.45" fill="#e48585" stroke="#b06a70" stroke-width="0.6"/>
<circle cx="41.97" cy="258.39" r="1.45" fill="#e48585" stroke="#b06a70" stroke-width="0.6"/>
<circle cx="69.17" cy="229.28" r="1.45" fill="#e48585" stroke="#b06a70" stroke-width="0.6"/>
<circle cx="64.80" cy="235.25" r="1.45" fill="#e48585" stroke="#b06a70" stroke-width="0.6"/>
<circle cx="43.44" cy="257.31" r="1.4" fill="#f2f2fa" stroke="#5562a2" stroke-width="0.7"/>
<circle cx="55.94" cy="258.55" r="1.45" fill="#e48585" stroke="#b06a70" stroke-width="0.6"/>
<circle cx="50.29" cy="257.08" r="1.4" fill="#f2f2fa" stroke="#5562a2" stroke-width="0.7"/>
<circle cx="69.46" cy="202.15" r="1.4" fill="#f2f2fa" stroke="#5562a2" stroke-width="0.7"/>
<circle cx="74.60" cy="224.30" r="1.4" fill="#f2f2fa" stroke="#5562a2" stroke-width="0.7"/>
<circle cx="66.77" cy="243.89" r="1.45" fill="#e48585" stroke="#b06a70" stroke-width="0.6"/>
<circle cx="86.92" cy="213.23" r="1.45" fill="#e48585" stroke="#b06a70" stroke-width="0.6"/>
<circle cx="45.29" cy="250.32" r="1.45" fill="#e48585" stroke="#b06a70" stroke-width="0.6"/>
<circle cx="55.14" cy="271.06" r="1.45" fill="#e48585" stroke="#b06a70" stroke-width="0.6"/>
<circle cx="34.54" cy="255.32" r="1.4" fill="#f2f2fa" stroke="#5562a2" stroke-width="0.7"/>
<circle cx="38.20" cy="255.20" r="1.4" fill="#f2f2fa" stroke="#5562a2" stroke-width="0.7"/>
<circle cx="80.51" cy="220.86" r="1.45" fill="#e48585" stroke="#b06a70" stroke-width="0.6"/>
<circle cx="63.61" cy="246.77" r="1.45" fill="#e48585" stroke="#b06a70" stroke-width="0.6"/>
<circle cx="58.12" cy="262.51" r="1.4" fill="#f2f2fa" stroke="#5562a2" stroke-width="0.7"/>
<circle cx="70.81" cy="248.56" r="1.45" fill="#e48585" stroke="#b06a70" stroke-width="0.6"/>
<circle cx="48.62" cy="239.25" r="1.45" fill="#e48585" stroke="#b06a70" stroke-width="0.6"/>
<circle cx="55.35" cy="266.56" r="1.4" fill="#f2f2fa" stroke="#5562a2" stroke-width="0.7"/>
<circle cx="45.26" cy="252.18" r="1.45" fill="#e48585" stroke="#b06a70" stroke-width="0.6"/>
<circle cx="48.43" cy="247.50" r="1.4" fill="#f2f2fa" stroke="#5562a2" stroke-width="0.7"/>
<circle cx="46.27" cy="260.26" r="1.4" fill="#f2f2fa" stroke="#5562a2" stroke-width="0.7"/>
<circle cx="45.28" cy="263.12" r="1.4" fill="#f2f2fa" stroke="#5562a2" stroke-width="0.7"/>
<circle cx="88.23" cy="236.01" r="1.45" fill="#e48585" stroke="#b06a70" stroke-width="0.6"/>
<circle cx="47.01" cy="243.36" r="1.45" fill="#e48585" stroke="#b06a70" stroke-width="0.6"/>
<circle cx="60.16" cy="243.19" r="1.45" fill="#e48585" stroke="#b06a70" stroke-width="0.6"/>
<circle cx="71.52" cy="271.19" r="1.4" fill="#f2f2fa" stroke="#5562a2" stroke-width="0.7"/>
<circle cx="67.86" cy="254.39" r="1.45" fill="#e48585" stroke="#b06a70" stroke-width="0.6"/>
<circle cx="53.33" cy="259.33" r="1.45" fill="#e48585" stroke="#b06a70" stroke-width="0.6"/>
<circle cx="47.98" cy="256.21" r="1.4" fill="#f2f2fa" stroke="#5562a2" stroke-width="0.7"/>
<circle cx="89.87" cy="202.70" r="1.45" fill="#e48585" stroke="#b06a70" stroke-width="0.6"/>
<circle cx="48.43" cy="247.45" r="1.4" fill="#f2f2fa" stroke="#5562a2" stroke-width="0.7"/>
<circle cx="54.32" cy="242.41" r="1.4" fill="#f2f2fa" stroke="#5562a2" stroke-width="0.7"/>
<circle cx="54.07" cy="257.91" r="1.4" fill="#f2f2fa" stroke="#5562a2" stroke-width="0.7"/>
<circle cx="53.98" cy="266.21" r="1.4" fill="#f2f2fa" stroke="#5562a2" stroke-width="0.7"/>
<circle cx="52.63" cy="262.74" r="1.4" fill="#f2f2fa" stroke="#5562a2" stroke-width="0.7"/>
<circle cx="62.29" cy="232.16" r="1.45" fill="#e48585" stroke="#b06a70" stroke-width="0.6"/>
<circle cx="66.62" cy="254.03" r="1.4" fill="#f2f2fa" stroke="#5562a2" stroke-width="0.7"/>
<circle cx="59.46" cy="229.82" r="1.45" fill="#e48585" stroke="#b06a70" stroke-width="0.6"/>
<circle cx="85.38" cy="235.57" r="1.45" fill="#e48585" stroke="#b06a70" stroke-width="0.6"/>
<circle cx="43.74" cy="263.29" r="1.4" fill="#f2f2fa" stroke="#5562a2" stroke-width="0.7"/>
<circle cx="80.88" cy="258.02" r="1.4" fill="#f2f2fa" stroke="#5562a2" stroke-width="0.7"/>
<circle cx="63.26" cy="252.40" r="1.4" fill="#f2f2fa" stroke="#5562a2" stroke-width="0.7"/>
<circle cx="40.32" cy="266.27" r="1.4" fill="#f2f2fa" stroke="#5562a2" stroke-width="0.7"/>
<circle cx="54.36" cy="270.68" r="1.4" fill="#f2f2fa" stroke="#5562a2" stroke-width="0.7"/>
<circle cx="68.88" cy="233.98" r="1.45" fill="#e48585" stroke="#b06a70" stroke-width="0.6"/>
<circle cx="92.05" cy="242.76" r="1.4" fill="#f2f2fa" stroke="#5562a2" stroke-width="0.7"/>
<circle cx="53.24" cy="265.15" r="1.4" fill="#f2f2fa" stroke="#5562a2" stroke-width="0.7"/>
<circle cx="63.34" cy="252.44" r="1.4" fill="#f2f2fa" stroke="#5562a2" stroke-width="0.7"/>
<circle cx="42.81" cy="258.71" r="1.4" fill="#f2f2fa" stroke="#5562a2" stroke-width="0.7"/>
<circle cx="38.11" cy="234.28" r="1.45" fill="#e48585" stroke="#b06a70" stroke-width="0.6"/>
<circle cx="101.71" cy="213.26" r="1.45" fill="#e48585" stroke="#b06a70" stroke-width="0.6"/>
<circle cx="59.52" cy="251.62" r="1.45" fill="#e48585" stroke="#b06a70" stroke-width="0.6"/>
<circle cx="46.94" cy="265.69" r="1.4" fill="#f2f2fa" stroke="#5562a2" stroke-width="0.7"/>
<circle cx="64.44" cy="257.28" r="1.4" fill="#f2f2fa" stroke="#5562a2" stroke-width="0.7"/>
<circle cx="71.19" cy="219.59" r="1.45" fill="#e48585" stroke="#b06a70" stroke-width="0.6"/>
<circle cx="90.88" cy="267.55" r="1.4" fill="#f2f2fa" stroke="#5562a2" stroke-width="0.7"/>
<circle cx="86.60" cy="230.29" r="1.45" fill="#e48585" stroke="#b06a70" stroke-width="0.6"/>
<circle cx="48.77" cy="258.05" r="1.4" fill="#f2f2fa" stroke="#5562a2" stroke-width="0.7"/>
<circle cx="42.13" cy="253.81" r="1.45" fill="#e48585" stroke="#b06a70" stroke-width="0.6"/>
<circle cx="39.72" cy="263.54" r="1.4" fill="#f2f2fa" stroke="#5562a2" stroke-width="0.7"/>
<circle cx="58.62" cy="258.78" r="1.45" fill="#e48585" stroke="#b06a70" stroke-width="0.6"/>
<circle cx="61.26" cy="252.04" r="1.45" fill="#e48585" stroke="#b06a70" stroke-width="0.6"/>
<circle cx="56.11" cy="207.69" r="1.4" fill="#f2f2fa" stroke="#5562a2" stroke-width="0.7"/>
<circle cx="59.74" cy="231.46" r="1.45" fill="#e48585" stroke="#b06a70" stroke-width="0.6"/>
<circle cx="44.96" cy="260.41" r="1.45" fill="#e48585" stroke="#b06a70" stroke-width="0.6"/>
<circle cx="57.47" cy="251.48" r="1.4" fill="#f2f2fa" stroke="#5562a2" stroke-width="0.7"/>
<circle cx="52.65" cy="248.26" r="1.4" fill="#f2f2fa" stroke="#5562a2" stroke-width="0.7"/>
<circle cx="47.72" cy="262.56" r="1.4" fill="#f2f2fa" stroke="#5562a2" stroke-width="0.7"/>
<circle cx="43.73" cy="261.06" r="1.4" fill="#f2f2fa" stroke="#5562a2" stroke-width="0.7"/>
<circle cx="63.22" cy="260.06" r="1.4" fill="#f2f2fa" stroke="#5562a2" stroke-width="0.7"/>
<circle cx="66.73" cy="237.54" r="1.4" fill="#f2f2fa" stroke="#5562a2" stroke-width="0.7"/>
<circle cx="51.62" cy="267.38" r="1.4" fill="#f2f2fa" stroke="#5562a2" stroke-width="0.7"/>
<rect x="25.30" y="180.00" width="102.70" height="92.30" fill="none" stroke="#a0a0a8" stroke-width="0.9"/>
<line x1="34" y1="259.2" x2="111" y2="211" stroke="#d8412e" stroke-width="1.6"/>
<line x1="34" y1="258.7" x2="107" y2="248.8" stroke="#3553a3" stroke-width="1.6"/>
<text transform="translate(76.00,206.67) scale(1,1.06)" font-size="7" text-anchor="start" fill="#d9453f" font-weight="bold" textLength="48.60" lengthAdjust="spacingAndGlyphs" stroke="#d9453f" stroke-width="0.22">ΔY/ΔX=0.1864</text>
<text transform="translate(76.00,262.07) scale(1,1.06)" font-size="7" text-anchor="start" fill="#3c52a3" font-weight="bold" textLength="48.60" lengthAdjust="spacingAndGlyphs" stroke="#3c52a3" stroke-width="0.22">ΔY/ΔX=0.0403</text>
<text transform="translate(93.40,235.94) scale(1,1.06)" font-size="6.5" font-weight="bold" fill="#111" textLength="32.90" lengthAdjust="spacingAndGlyphs" stroke="#111" stroke-width="0.22"><tspan font-style="italic">P</tspan> &lt; 0.0001</text>
<text transform="translate(20.70,274.78) scale(1,1.06)" font-size="6.5" text-anchor="end" fill="#333" font-weight="bold" stroke="#333" stroke-width="0.22">0</text>
<text transform="translate(20.70,256.32) scale(1,1.06)" font-size="6.5" text-anchor="end" fill="#333" font-weight="bold" stroke="#333" stroke-width="0.22">5</text>
<text transform="translate(20.70,237.86) scale(1,1.06)" font-size="6.5" text-anchor="end" fill="#333" font-weight="bold" stroke="#333" stroke-width="0.22">10</text>
<text transform="translate(20.70,219.40) scale(1,1.06)" font-size="6.5" text-anchor="end" fill="#333" font-weight="bold" stroke="#333" stroke-width="0.22">15</text>
<text transform="translate(20.70,200.94) scale(1,1.06)" font-size="6.5" text-anchor="end" fill="#333" font-weight="bold" stroke="#333" stroke-width="0.22">20</text>
<text transform="translate(20.70,182.48) scale(1,1.06)" font-size="6.5" text-anchor="end" fill="#333" font-weight="bold" stroke="#333" stroke-width="0.22">25</text>
<text transform="translate(25.30,282.48) scale(1,1.06)" font-size="6.5" text-anchor="middle" fill="#333" font-weight="bold" stroke="#333" stroke-width="0.22">0</text>
<text transform="translate(45.84,282.48) scale(1,1.06)" font-size="6.5" text-anchor="middle" fill="#333" font-weight="bold" stroke="#333" stroke-width="0.22">20</text>
<text transform="translate(66.38,282.48) scale(1,1.06)" font-size="6.5" text-anchor="middle" fill="#333" font-weight="bold" stroke="#333" stroke-width="0.22">40</text>
<text transform="translate(86.92,282.48) scale(1,1.06)" font-size="6.5" text-anchor="middle" fill="#333" font-weight="bold" stroke="#333" stroke-width="0.22">60</text>
<text transform="translate(107.46,282.48) scale(1,1.06)" font-size="6.5" text-anchor="middle" fill="#333" font-weight="bold" stroke="#333" stroke-width="0.22">80</text>
<text transform="translate(128.00,282.48) scale(1,1.06)" font-size="6.5" text-anchor="middle" fill="#333" font-weight="bold" stroke="#333" stroke-width="0.22">100</text>
<g transform="translate(8.10,225.70) rotate(-90)"><text transform="translate(0.00,2.65) scale(1,1.06)" font-size="7" text-anchor="middle" fill="#1a1a1a" font-weight="bold" textLength="78.00" lengthAdjust="spacingAndGlyphs" stroke="#1a1a1a" stroke-width="0.22"><tspan font-style="italic">MYL9</tspan> Expression level</text></g>
<text transform="translate(76.50,290.75) scale(1,1.06)" font-size="7.2" text-anchor="middle" fill="#1a1a1a" font-weight="bold" textLength="87.75" lengthAdjust="spacingAndGlyphs" stroke="#1a1a1a" stroke-width="0.22"><tspan font-style="italic">TMSB4X</tspan> Expression level</text>
<text transform="translate(173.00,159.07) scale(1,1.06)" font-size="7" text-anchor="start" fill="#2a2a2a" font-weight="bold" textLength="84.00" lengthAdjust="spacingAndGlyphs" stroke="#2a2a2a" stroke-width="0.22">Brain lower grade glioma</text>
<line x1="173.00" y1="160.90" x2="257.00" y2="160.90" stroke="#9aa09a" stroke-width="1.0"/>
<text transform="translate(173.00,170.45) scale(1,1.06)" font-size="7" font-weight="bold" fill="#1a1a1a" textLength="106.00" lengthAdjust="spacingAndGlyphs" stroke="#1a1a1a" stroke-width="0.22"><tspan fill="#d9403a" stroke="#d9403a" stroke-width="0.22">MKL1&amp;2 High</tspan> (top 20%, <tspan font-style="italic">n</tspan> = 105)</text>
<text transform="translate(173.00,178.85) scale(1,1.06)" font-size="7" font-weight="bold" fill="#1a1a1a" textLength="116.50" lengthAdjust="spacingAndGlyphs" stroke="#1a1a1a" stroke-width="0.22"><tspan fill="#3b4f9e" stroke="#3b4f9e" stroke-width="0.22">MKL1&amp;2 Low</tspan> (bottom 20%, <tspan font-style="italic">n</tspan> = 105)</text>
<circle cx="198.90" cy="232.77" r="1.45" fill="#e48585" stroke="#b06a70" stroke-width="0.6"/>
<circle cx="197.85" cy="235.96" r="1.4" fill="#f2f2fa" stroke="#5562a2" stroke-width="0.7"/>
<circle cx="198.55" cy="224.04" r="1.45" fill="#e48585" stroke="#b06a70" stroke-width="0.6"/>
<circle cx="228.04" cy="225.20" r="1.45" fill="#e48585" stroke="#b06a70" stroke-width="0.6"/>
<circle cx="196.51" cy="222.96" r="1.45" fill="#e48585" stroke="#b06a70" stroke-width="0.6"/>
<circle cx="190.20" cy="232.54" r="1.45" fill="#e48585" stroke="#b06a70" stroke-width="0.6"/>
<circle cx="216.65" cy="224.71" r="1.45" fill="#e48585" stroke="#b06a70" stroke-width="0.6"/>
<circle cx="204.15" cy="217.34" r="1.45" fill="#e48585" stroke="#b06a70" stroke-width="0.6"/>
<circle cx="222.88" cy="218.29" r="1.45" fill="#e48585" stroke="#b06a70" stroke-width="0.6"/>
<circle cx="196.21" cy="220.22" r="1.45" fill="#e48585" stroke="#b06a70" stroke-width="0.6"/>
<circle cx="217.96" cy="238.11" r="1.4" fill="#f2f2fa" stroke="#5562a2" stroke-width="0.7"/>
<circle cx="239.90" cy="230.64" r="1.4" fill="#f2f2fa" stroke="#5562a2" stroke-width="0.7"/>
<circle cx="192.94" cy="242.87" r="1.4" fill="#f2f2fa" stroke="#5562a2" stroke-width="0.7"/>
<circle cx="220.67" cy="211.30" r="1.45" fill="#e48585" stroke="#b06a70" stroke-width="0.6"/>
<circle cx="252.93" cy="233.69" r="1.4" fill="#f2f2fa" stroke="#5562a2" stroke-width="0.7"/>
<circle cx="191.83" cy="235.27" r="1.45" fill="#e48585" stroke="#b06a70" stroke-width="0.6"/>
<circle cx="192.48" cy="247.83" r="1.4" fill="#f2f2fa" stroke="#5562a2" stroke-width="0.7"/>
<circle cx="184.40" cy="243.84" r="1.4" fill="#f2f2fa" stroke="#5562a2" stroke-width="0.7"/>
<circle cx="192.24" cy="231.57" r="1.4" fill="#f2f2fa" stroke="#5562a2" stroke-width="0.7"/>
<circle cx="188.12" cy="235.98" r="1.4" fill="#f2f2fa" stroke="#5562a2" stroke-width="0.7"/>
<circle cx="242.40" cy="194.38" r="1.45" fill="#e48585" stroke="#b06a70" stroke-width="0.6"/>
<circle cx="197.62" cy="221.83" r="1.45" fill="#e48585" stroke="#b06a70" stroke-width="0.6"/>
<circle cx="218.09" cy="236.17" r="1.4" fill="#f2f2fa" stroke="#5562a2" stroke-width="0.7"/>
<circle cx="193.36" cy="236.00" r="1.45" fill="#e48585" stroke="#b06a70" stroke-width="0.6"/>
<circle cx="189.97" cy="230.59" r="1.45" fill="#e48585" stroke="#b06a70" stroke-width="0.6"/>
<circle cx="195.77" cy="226.38" r="1.45" fill="#e48585" stroke="#b06a70" stroke-width="0.6"/>
<circle cx="191.75" cy="229.13" r="1.45" fill="#e48585" stroke="#b06a70" stroke-width="0.6"/>
<circle cx="182.29" cy="240.04" r="1.4" fill="#f2f2fa" stroke="#5562a2" stroke-width="0.7"/>
<circle cx="193.78" cy="242.85" r="1.4" fill="#f2f2fa" stroke="#5562a2" stroke-width="0.7"/>
<circle cx="229.32" cy="209.51" r="1.45" fill="#e48585" stroke="#b06a70" stroke-width="0.6"/>
<circle cx="214.02" cy="208.15" r="1.45" fill="#e48585" stroke="#b06a70" stroke-width="0.6"/>
<circle cx="197.45" cy="242.35" r="1.4" fill="#f2f2fa" stroke="#5562a2" stroke-width="0.7"/>
<circle cx="230.89" cy="226.52" r="1.4" fill="#f2f2fa" stroke="#5562a2" stroke-width="0.7"/>
<circle cx="184.87" cy="236.89" r="1.4" fill="#f2f2fa" stroke="#5562a2" stroke-width="0.7"/>
<circle cx="224.85" cy="245.25" r="1.4" fill="#f2f2fa" stroke="#5562a2" stroke-width="0.7"/>
<circle cx="191.49" cy="235.64" r="1.4" fill="#f2f2fa" stroke="#5562a2" stroke-width="0.7"/>
<circle cx="198.22" cy="241.65" r="1.4" fill="#f2f2fa" stroke="#5562a2" stroke-width="0.7"/>
<circle cx="196.66" cy="222.91" r="1.45" fill="#e48585" stroke="#b06a70" stroke-width="0.6"/>
<circle cx="206.99" cy="239.39" r="1.4" fill="#f2f2fa" stroke="#5562a2" stroke-width="0.7"/>
<circle cx="240.66" cy="218.67" r="1.45" fill="#e48585" stroke="#b06a70" stroke-width="0.6"/>
<circle cx="234.31" cy="208.90" r="1.45" fill="#e48585" stroke="#b06a70" stroke-width="0.6"/>
<circle cx="201.66" cy="228.79" r="1.45" fill="#e48585" stroke="#b06a70" stroke-width="0.6"/>
<circle cx="195.16" cy="233.92" r="1.45" fill="#e48585" stroke="#b06a70" stroke-width="0.6"/>
<circle cx="200.19" cy="223.06" r="1.45" fill="#e48585" stroke="#b06a70" stroke-width="0.6"/>
<circle cx="261.70" cy="233.69" r="1.4" fill="#f2f2fa" stroke="#5562a2" stroke-width="0.7"/>
<circle cx="187.22" cy="229.76" r="1.45" fill="#e48585" stroke="#b06a70" stroke-width="0.6"/>
<circle cx="181.42" cy="249.80" r="1.4" fill="#f2f2fa" stroke="#5562a2" stroke-width="0.7"/>
<circle cx="220.67" cy="200.49" r="1.45" fill="#e48585" stroke="#b06a70" stroke-width="0.6"/>
<circle cx="195.50" cy="234.93" r="1.45" fill="#e48585" stroke="#b06a70" stroke-width="0.6"/>
<circle cx="210.79" cy="239.21" r="1.4" fill="#f2f2fa" stroke="#5562a2" stroke-width="0.7"/>
<circle cx="215.10" cy="223.08" r="1.45" fill="#e48585" stroke="#b06a70" stroke-width="0.6"/>
<circle cx="212.56" cy="203.62" r="1.45" fill="#e48585" stroke="#b06a70" stroke-width="0.6"/>
<circle cx="193.67" cy="228.07" r="1.45" fill="#e48585" stroke="#b06a70" stroke-width="0.6"/>
<circle cx="198.21" cy="224.29" r="1.45" fill="#e48585" stroke="#b06a70" stroke-width="0.6"/>
<circle cx="208.60" cy="213.99" r="1.45" fill="#e48585" stroke="#b06a70" stroke-width="0.6"/>
<circle cx="199.10" cy="225.21" r="1.45" fill="#e48585" stroke="#b06a70" stroke-width="0.6"/>
<circle cx="219.85" cy="232.41" r="1.4" fill="#f2f2fa" stroke="#5562a2" stroke-width="0.7"/>
<circle cx="205.75" cy="233.55" r="1.45" fill="#e48585" stroke="#b06a70" stroke-width="0.6"/>
<circle cx="205.59" cy="212.90" r="1.45" fill="#e48585" stroke="#b06a70" stroke-width="0.6"/>
<circle cx="186.19" cy="243.23" r="1.4" fill="#f2f2fa" stroke="#5562a2" stroke-width="0.7"/>
<circle cx="203.76" cy="235.16" r="1.4" fill="#f2f2fa" stroke="#5562a2" stroke-width="0.7"/>
<circle cx="188.16" cy="237.41" r="1.4" fill="#f2f2fa" stroke="#5562a2" stroke-width="0.7"/>
<circle cx="198.06" cy="231.19" r="1.45" fill="#e48585" stroke="#b06a70" stroke-width="0.6"/>
<circle cx="237.13" cy="194.38" r="1.45" fill="#e48585" stroke="#b06a70" stroke-width="0.6"/>
<circle cx="182.81" cy="246.47" r="1.4" fill="#f2f2fa" stroke="#5562a2" stroke-width="0.7"/>
<circle cx="200.22" cy="231.03" r="1.45" fill="#e48585" stroke="#b06a70" stroke-width="0.6"/>
<circle cx="189.99" cy="243.12" r="1.4" fill="#f2f2fa" stroke="#5562a2" stroke-width="0.7"/>
<circle cx="190.46" cy="240.44" r="1.4" fill="#f2f2fa" stroke="#5562a2" stroke-width="0.7"/>
<circle cx="195.43" cy="223.87" r="1.45" fill="#e48585" stroke="#b06a70" stroke-width="0.6"/>
<circle cx="227.63" cy="218.19" r="1.45" fill="#e48585" stroke="#b06a70" stroke-width="0.6"/>
<circle cx="183.10" cy="238.05" r="1.4" fill="#f2f2fa" stroke="#5562a2" stroke-width="0.7"/>
<circle cx="190.48" cy="240.03" r="1.4" fill="#f2f2fa" stroke="#5562a2" stroke-width="0.7"/>
<circle cx="196.71" cy="227.54" r="1.45" fill="#e48585" stroke="#b06a70" stroke-width="0.6"/>
<circle cx="187.72" cy="235.09" r="1.4" fill="#f2f2fa" stroke="#5562a2" stroke-width="0.7"/>
<circle cx="186.33" cy="239.71" r="1.4" fill="#f2f2fa" stroke="#5562a2" stroke-width="0.7"/>
<circle cx="190.90" cy="238.07" r="1.4" fill="#f2f2fa" stroke="#5562a2" stroke-width="0.7"/>
<circle cx="223.55" cy="223.39" r="1.45" fill="#e48585" stroke="#b06a70" stroke-width="0.6"/>
<circle cx="209.76" cy="225.80" r="1.45" fill="#e48585" stroke="#b06a70" stroke-width="0.6"/>
<circle cx="201.96" cy="243.61" r="1.4" fill="#f2f2fa" stroke="#5562a2" stroke-width="0.7"/>
<circle cx="196.55" cy="236.01" r="1.4" fill="#f2f2fa" stroke="#5562a2" stroke-width="0.7"/>
<circle cx="184.79" cy="233.19" r="1.4" fill="#f2f2fa" stroke="#5562a2" stroke-width="0.7"/>
<circle cx="263.68" cy="223.21" r="1.4" fill="#f2f2fa" stroke="#5562a2" stroke-width="0.7"/>
<circle cx="216.89" cy="225.88" r="1.45" fill="#e48585" stroke="#b06a70" stroke-width="0.6"/>
<circle cx="192.00" cy="237.57" r="1.4" fill="#f2f2fa" stroke="#5562a2" stroke-width="0.7"/>
<circle cx="219.13" cy="234.55" r="1.4" fill="#f2f2fa" stroke="#5562a2" stroke-width="0.7"/>
<circle cx="222.22" cy="226.12" r="1.4" fill="#f2f2fa" stroke="#5562a2" stroke-width="0.7"/>
<circle cx="199.84" cy="241.98" r="1.4" fill="#f2f2fa" stroke="#5562a2" stroke-width="0.7"/>
<circle cx="190.06" cy="233.77" r="1.45" fill="#e48585" stroke="#b06a70" stroke-width="0.6"/>
<circle cx="181.57" cy="241.15" r="1.4" fill="#f2f2fa" stroke="#5562a2" stroke-width="0.7"/>
<circle cx="196.08" cy="234.65" r="1.4" fill="#f2f2fa" stroke="#5562a2" stroke-width="0.7"/>
<circle cx="209.40" cy="238.35" r="1.4" fill="#f2f2fa" stroke="#5562a2" stroke-width="0.7"/>
<circle cx="179.53" cy="246.69" r="1.4" fill="#f2f2fa" stroke="#5562a2" stroke-width="0.7"/>
<circle cx="208.95" cy="231.94" r="1.4" fill="#f2f2fa" stroke="#5562a2" stroke-width="0.7"/>
<circle cx="254.69" cy="202.47" r="1.45" fill="#e48585" stroke="#b06a70" stroke-width="0.6"/>
<circle cx="226.24" cy="209.03" r="1.45" fill="#e48585" stroke="#b06a70" stroke-width="0.6"/>
<circle cx="202.69" cy="224.67" r="1.45" fill="#e48585" stroke="#b06a70" stroke-width="0.6"/>
<circle cx="266.97" cy="210.56" r="1.45" fill="#e48585" stroke="#b06a70" stroke-width="0.6"/>
<circle cx="198.37" cy="220.71" r="1.45" fill="#e48585" stroke="#b06a70" stroke-width="0.6"/>
<circle cx="190.14" cy="238.00" r="1.4" fill="#f2f2fa" stroke="#5562a2" stroke-width="0.7"/>
<circle cx="204.65" cy="226.67" r="1.4" fill="#f2f2fa" stroke="#5562a2" stroke-width="0.7"/>
<circle cx="203.79" cy="192.06" r="1.45" fill="#e48585" stroke="#b06a70" stroke-width="0.6"/>
<circle cx="211.96" cy="239.85" r="1.4" fill="#f2f2fa" stroke="#5562a2" stroke-width="0.7"/>
<circle cx="226.74" cy="234.43" r="1.4" fill="#f2f2fa" stroke="#5562a2" stroke-width="0.7"/>
<circle cx="189.47" cy="225.82" r="1.45" fill="#e48585" stroke="#b06a70" stroke-width="0.6"/>
<circle cx="193.68" cy="231.30" r="1.4" fill="#f2f2fa" stroke="#5562a2" stroke-width="0.7"/>
<circle cx="179.40" cy="242.01" r="1.4" fill="#f2f2fa" stroke="#5562a2" stroke-width="0.7"/>
<circle cx="218.88" cy="247.20" r="1.4" fill="#f2f2fa" stroke="#5562a2" stroke-width="0.7"/>
<circle cx="195.28" cy="225.42" r="1.45" fill="#e48585" stroke="#b06a70" stroke-width="0.6"/>
<circle cx="179.01" cy="233.10" r="1.4" fill="#f2f2fa" stroke="#5562a2" stroke-width="0.7"/>
<circle cx="199.17" cy="231.21" r="1.45" fill="#e48585" stroke="#b06a70" stroke-width="0.6"/>
<circle cx="195.85" cy="232.86" r="1.45" fill="#e48585" stroke="#b06a70" stroke-width="0.6"/>
<circle cx="188.55" cy="238.01" r="1.45" fill="#e48585" stroke="#b06a70" stroke-width="0.6"/>
<circle cx="195.62" cy="220.33" r="1.45" fill="#e48585" stroke="#b06a70" stroke-width="0.6"/>
<circle cx="204.34" cy="237.27" r="1.4" fill="#f2f2fa" stroke="#5562a2" stroke-width="0.7"/>
<circle cx="195.57" cy="246.25" r="1.4" fill="#f2f2fa" stroke="#5562a2" stroke-width="0.7"/>
<circle cx="229.91" cy="226.10" r="1.4" fill="#f2f2fa" stroke="#5562a2" stroke-width="0.7"/>
<circle cx="194.36" cy="245.00" r="1.4" fill="#f2f2fa" stroke="#5562a2" stroke-width="0.7"/>
<circle cx="189.31" cy="225.56" r="1.45" fill="#e48585" stroke="#b06a70" stroke-width="0.6"/>
<circle cx="197.54" cy="224.30" r="1.45" fill="#e48585" stroke="#b06a70" stroke-width="0.6"/>
<circle cx="201.98" cy="238.98" r="1.4" fill="#f2f2fa" stroke="#5562a2" stroke-width="0.7"/>
<circle cx="238.29" cy="202.68" r="1.45" fill="#e48585" stroke="#b06a70" stroke-width="0.6"/>
<circle cx="222.11" cy="208.95" r="1.45" fill="#e48585" stroke="#b06a70" stroke-width="0.6"/>
<circle cx="196.58" cy="237.33" r="1.4" fill="#f2f2fa" stroke="#5562a2" stroke-width="0.7"/>
<circle cx="193.98" cy="232.02" r="1.45" fill="#e48585" stroke="#b06a70" stroke-width="0.6"/>
<circle cx="189.84" cy="231.82" r="1.45" fill="#e48585" stroke="#b06a70" stroke-width="0.6"/>
<circle cx="189.44" cy="235.86" r="1.4" fill="#f2f2fa" stroke="#5562a2" stroke-width="0.7"/>
<circle cx="272.24" cy="195.53" r="1.45" fill="#e48585" stroke="#b06a70" stroke-width="0.6"/>
<circle cx="218.66" cy="216.91" r="1.45" fill="#e48585" stroke="#b06a70" stroke-width="0.6"/>
<circle cx="229.69" cy="215.31" r="1.45" fill="#e48585" stroke="#b06a70" stroke-width="0.6"/>
<circle cx="191.87" cy="245.07" r="1.4" fill="#f2f2fa" stroke="#5562a2" stroke-width="0.7"/>
<circle cx="226.60" cy="205.94" r="1.45" fill="#e48585" stroke="#b06a70" stroke-width="0.6"/>
<circle cx="203.09" cy="231.04" r="1.45" fill="#e48585" stroke="#b06a70" stroke-width="0.6"/>
<circle cx="216.09" cy="225.59" r="1.4" fill="#f2f2fa" stroke="#5562a2" stroke-width="0.7"/>
<circle cx="205.73" cy="234.24" r="1.4" fill="#f2f2fa" stroke="#5562a2" stroke-width="0.7"/>
<circle cx="214.04" cy="235.93" r="1.4" fill="#f2f2fa" stroke="#5562a2" stroke-width="0.7"/>
<circle cx="189.75" cy="231.54" r="1.45" fill="#e48585" stroke="#b06a70" stroke-width="0.6"/>
<circle cx="198.01" cy="227.10" r="1.45" fill="#e48585" stroke="#b06a70" stroke-width="0.6"/>
<circle cx="196.90" cy="238.26" r="1.4" fill="#f2f2fa" stroke="#5562a2" stroke-width="0.7"/>
<circle cx="201.08" cy="232.29" r="1.45" fill="#e48585" stroke="#b06a70" stroke-width="0.6"/>
<circle cx="191.08" cy="216.97" r="1.45" fill="#e48585" stroke="#b06a70" stroke-width="0.6"/>
<circle cx="185.04" cy="235.65" r="1.4" fill="#f2f2fa" stroke="#5562a2" stroke-width="0.7"/>
<circle cx="195.25" cy="240.94" r="1.4" fill="#f2f2fa" stroke="#5562a2" stroke-width="0.7"/>
<circle cx="215.35" cy="236.40" r="1.4" fill="#f2f2fa" stroke="#5562a2" stroke-width="0.7"/>
<circle cx="195.91" cy="244.50" r="1.4" fill="#f2f2fa" stroke="#5562a2" stroke-width="0.7"/>
<circle cx="267.11" cy="218.34" r="1.4" fill="#f2f2fa" stroke="#5562a2" stroke-width="0.7"/>
<circle cx="205.24" cy="222.09" r="1.45" fill="#e48585" stroke="#b06a70" stroke-width="0.6"/>
<circle cx="203.67" cy="227.67" r="1.45" fill="#e48585" stroke="#b06a70" stroke-width="0.6"/>
<circle cx="198.18" cy="238.71" r="1.4" fill="#f2f2fa" stroke="#5562a2" stroke-width="0.7"/>
<circle cx="198.19" cy="224.69" r="1.45" fill="#e48585" stroke="#b06a70" stroke-width="0.6"/>
<circle cx="188.22" cy="244.85" r="1.4" fill="#f2f2fa" stroke="#5562a2" stroke-width="0.7"/>
<circle cx="191.81" cy="239.86" r="1.4" fill="#f2f2fa" stroke="#5562a2" stroke-width="0.7"/>
<circle cx="211.64" cy="230.12" r="1.45" fill="#e48585" stroke="#b06a70" stroke-width="0.6"/>
<circle cx="214.37" cy="241.76" r="1.4" fill="#f2f2fa" stroke="#5562a2" stroke-width="0.7"/>
<circle cx="212.44" cy="222.62" r="1.4" fill="#f2f2fa" stroke="#5562a2" stroke-width="0.7"/>
<circle cx="186.13" cy="244.46" r="1.4" fill="#f2f2fa" stroke="#5562a2" stroke-width="0.7"/>
<circle cx="227.25" cy="204.68" r="1.45" fill="#e48585" stroke="#b06a70" stroke-width="0.6"/>
<circle cx="188.02" cy="224.06" r="1.45" fill="#e48585" stroke="#b06a70" stroke-width="0.6"/>
<circle cx="203.21" cy="241.74" r="1.45" fill="#e48585" stroke="#b06a70" stroke-width="0.6"/>
<circle cx="200.32" cy="230.27" r="1.45" fill="#e48585" stroke="#b06a70" stroke-width="0.6"/>
<circle cx="183.84" cy="243.71" r="1.4" fill="#f2f2fa" stroke="#5562a2" stroke-width="0.7"/>
<circle cx="218.90" cy="229.99" r="1.45" fill="#e48585" stroke="#b06a70" stroke-width="0.6"/>
<circle cx="216.07" cy="216.34" r="1.4" fill="#f2f2fa" stroke="#5562a2" stroke-width="0.7"/>
<circle cx="190.16" cy="240.44" r="1.45" fill="#e48585" stroke="#b06a70" stroke-width="0.6"/>
<circle cx="216.46" cy="213.86" r="1.45" fill="#e48585" stroke="#b06a70" stroke-width="0.6"/>
<circle cx="203.33" cy="224.05" r="1.45" fill="#e48585" stroke="#b06a70" stroke-width="0.6"/>
<circle cx="209.43" cy="226.09" r="1.45" fill="#e48585" stroke="#b06a70" stroke-width="0.6"/>
<circle cx="208.59" cy="236.33" r="1.4" fill="#f2f2fa" stroke="#5562a2" stroke-width="0.7"/>
<circle cx="222.48" cy="238.87" r="1.4" fill="#f2f2fa" stroke="#5562a2" stroke-width="0.7"/>
<circle cx="179.39" cy="243.13" r="1.4" fill="#f2f2fa" stroke="#5562a2" stroke-width="0.7"/>
<circle cx="188.44" cy="225.51" r="1.45" fill="#e48585" stroke="#b06a70" stroke-width="0.6"/>
<circle cx="231.60" cy="213.08" r="1.45" fill="#e48585" stroke="#b06a70" stroke-width="0.6"/>
<circle cx="211.88" cy="241.08" r="1.4" fill="#f2f2fa" stroke="#5562a2" stroke-width="0.7"/>
<circle cx="188.88" cy="240.47" r="1.4" fill="#f2f2fa" stroke="#5562a2" stroke-width="0.7"/>
<circle cx="188.26" cy="247.23" r="1.4" fill="#f2f2fa" stroke="#5562a2" stroke-width="0.7"/>
<circle cx="180.51" cy="251.08" r="1.4" fill="#f2f2fa" stroke="#5562a2" stroke-width="0.7"/>
<circle cx="191.13" cy="224.68" r="1.45" fill="#e48585" stroke="#b06a70" stroke-width="0.6"/>
<circle cx="188.40" cy="248.66" r="1.4" fill="#f2f2fa" stroke="#5562a2" stroke-width="0.7"/>
<circle cx="205.13" cy="230.42" r="1.4" fill="#f2f2fa" stroke="#5562a2" stroke-width="0.7"/>
<circle cx="186.90" cy="233.04" r="1.4" fill="#f2f2fa" stroke="#5562a2" stroke-width="0.7"/>
<circle cx="187.09" cy="245.45" r="1.4" fill="#f2f2fa" stroke="#5562a2" stroke-width="0.7"/>
<circle cx="208.31" cy="239.93" r="1.4" fill="#f2f2fa" stroke="#5562a2" stroke-width="0.7"/>
<circle cx="222.19" cy="235.21" r="1.4" fill="#f2f2fa" stroke="#5562a2" stroke-width="0.7"/>
<circle cx="248.11" cy="237.46" r="1.4" fill="#f2f2fa" stroke="#5562a2" stroke-width="0.7"/>
<circle cx="205.44" cy="228.64" r="1.45" fill="#e48585" stroke="#b06a70" stroke-width="0.6"/>
<circle cx="203.88" cy="231.11" r="1.4" fill="#f2f2fa" stroke="#5562a2" stroke-width="0.7"/>
<circle cx="196.59" cy="229.34" r="1.45" fill="#e48585" stroke="#b06a70" stroke-width="0.6"/>
<circle cx="185.00" cy="248.62" r="1.4" fill="#f2f2fa" stroke="#5562a2" stroke-width="0.7"/>
<circle cx="202.60" cy="224.92" r="1.45" fill="#e48585" stroke="#b06a70" stroke-width="0.6"/>
<circle cx="199.15" cy="222.71" r="1.45" fill="#e48585" stroke="#b06a70" stroke-width="0.6"/>
<circle cx="196.66" cy="229.08" r="1.45" fill="#e48585" stroke="#b06a70" stroke-width="0.6"/>
<circle cx="192.98" cy="237.49" r="1.4" fill="#f2f2fa" stroke="#5562a2" stroke-width="0.7"/>
<circle cx="237.17" cy="219.18" r="1.45" fill="#e48585" stroke="#b06a70" stroke-width="0.6"/>
<circle cx="181.72" cy="240.81" r="1.4" fill="#f2f2fa" stroke="#5562a2" stroke-width="0.7"/>
<circle cx="181.71" cy="242.72" r="1.4" fill="#f2f2fa" stroke="#5562a2" stroke-width="0.7"/>
<circle cx="202.42" cy="217.76" r="1.45" fill="#e48585" stroke="#b06a70" stroke-width="0.6"/>
<circle cx="200.78" cy="224.76" r="1.45" fill="#e48585" stroke="#b06a70" stroke-width="0.6"/>
<circle cx="206.14" cy="226.70" r="1.45" fill="#e48585" stroke="#b06a70" stroke-width="0.6"/>
<circle cx="229.98" cy="219.54" r="1.45" fill="#e48585" stroke="#b06a70" stroke-width="0.6"/>
<circle cx="186.78" cy="236.87" r="1.4" fill="#f2f2fa" stroke="#5562a2" stroke-width="0.7"/>
<circle cx="199.48" cy="240.06" r="1.4" fill="#f2f2fa" stroke="#5562a2" stroke-width="0.7"/>
<circle cx="227.77" cy="229.36" r="1.45" fill="#e48585" stroke="#b06a70" stroke-width="0.6"/>
<circle cx="237.49" cy="223.83" r="1.4" fill="#f2f2fa" stroke="#5562a2" stroke-width="0.7"/>
<rect x="172.20" y="180.50" width="105.30" height="92.50" fill="none" stroke="#a0a0a8" stroke-width="0.9"/>
<line x1="185.2" y1="232.7" x2="272.7" y2="200.6" stroke="#d8412e" stroke-width="1.6"/>
<line x1="177.4" y1="244.4" x2="262.8" y2="224" stroke="#3553a3" stroke-width="1.6"/>
<text transform="translate(223.00,190.97) scale(1,1.06)" font-size="7" text-anchor="start" fill="#d9453f" font-weight="bold" textLength="51.80" lengthAdjust="spacingAndGlyphs" stroke="#d9453f" stroke-width="0.22">ΔY/ΔX=0.0561</text>
<text transform="translate(228.30,253.67) scale(1,1.06)" font-size="7" text-anchor="start" fill="#3c52a3" font-weight="bold" textLength="47.00" lengthAdjust="spacingAndGlyphs" stroke="#3c52a3" stroke-width="0.22">ΔY/ΔX=0.0367</text>
<text transform="translate(242.70,219.54) scale(1,1.06)" font-size="6.5" font-weight="bold" fill="#111" textLength="32.10" lengthAdjust="spacingAndGlyphs" stroke="#111" stroke-width="0.22"><tspan font-style="italic">P</tspan> = 0.0077</text>
<text transform="translate(167.20,275.48) scale(1,1.06)" font-size="6.5" text-anchor="end" fill="#333" font-weight="bold" stroke="#333" stroke-width="0.22">0</text>
<text transform="translate(167.20,263.92) scale(1,1.06)" font-size="6.5" text-anchor="end" fill="#333" font-weight="bold" stroke="#333" stroke-width="0.22">1</text>
<text transform="translate(167.20,252.36) scale(1,1.06)" font-size="6.5" text-anchor="end" fill="#333" font-weight="bold" stroke="#333" stroke-width="0.22">2</text>
<text transform="translate(167.20,240.79) scale(1,1.06)" font-size="6.5" text-anchor="end" fill="#333" font-weight="bold" stroke="#333" stroke-width="0.22">3</text>
<text transform="translate(167.20,229.23) scale(1,1.06)" font-size="6.5" text-anchor="end" fill="#333" font-weight="bold" stroke="#333" stroke-width="0.22">4</text>
<text transform="translate(167.20,217.67) scale(1,1.06)" font-size="6.5" text-anchor="end" fill="#333" font-weight="bold" stroke="#333" stroke-width="0.22">5</text>
<text transform="translate(167.20,206.11) scale(1,1.06)" font-size="6.5" text-anchor="end" fill="#333" font-weight="bold" stroke="#333" stroke-width="0.22">6</text>
<text transform="translate(167.20,194.54) scale(1,1.06)" font-size="6.5" text-anchor="end" fill="#333" font-weight="bold" stroke="#333" stroke-width="0.22">7</text>
<text transform="translate(167.20,182.98) scale(1,1.06)" font-size="6.5" text-anchor="end" fill="#333" font-weight="bold" stroke="#333" stroke-width="0.22">8</text>
<text transform="translate(172.20,283.48) scale(1,1.06)" font-size="6.5" text-anchor="middle" fill="#333" font-weight="bold" stroke="#333" stroke-width="0.22">0</text>
<text transform="translate(207.30,283.48) scale(1,1.06)" font-size="6.5" text-anchor="middle" fill="#333" font-weight="bold" stroke="#333" stroke-width="0.22">20</text>
<text transform="translate(242.40,283.48) scale(1,1.06)" font-size="6.5" text-anchor="middle" fill="#333" font-weight="bold" stroke="#333" stroke-width="0.22">40</text>
<text transform="translate(277.50,283.48) scale(1,1.06)" font-size="6.5" text-anchor="middle" fill="#333" font-weight="bold" stroke="#333" stroke-width="0.22">60</text>
<g transform="translate(158.80,225.30) rotate(-90)"><text transform="translate(0.00,2.65) scale(1,1.06)" font-size="7" text-anchor="middle" fill="#1a1a1a" font-weight="bold" textLength="79.00" lengthAdjust="spacingAndGlyphs" stroke="#1a1a1a" stroke-width="0.22"><tspan font-style="italic">TPM3</tspan> Expression level</text></g>
<text transform="translate(225.00,292.75) scale(1,1.06)" font-size="7.2" text-anchor="middle" fill="#1a1a1a" font-weight="bold" textLength="87.75" lengthAdjust="spacingAndGlyphs" stroke="#1a1a1a" stroke-width="0.22"><tspan font-style="italic">TMSB4X</tspan> Expression level</text>
<text transform="translate(319.20,159.07) scale(1,1.06)" font-size="7" text-anchor="start" fill="#2a2a2a" font-weight="bold" textLength="103.20" lengthAdjust="spacingAndGlyphs" stroke="#2a2a2a" stroke-width="0.22">Liver hepatocellular carcinoma</text>
<line x1="319.20" y1="160.90" x2="422.40" y2="160.90" stroke="#9aa09a" stroke-width="1.0"/>
<text transform="translate(319.20,169.95) scale(1,1.06)" font-size="7" font-weight="bold" fill="#1a1a1a" textLength="104.00" lengthAdjust="spacingAndGlyphs" stroke="#1a1a1a" stroke-width="0.22"><tspan fill="#d9403a" stroke="#d9403a" stroke-width="0.22">MKL1&amp;2 High</tspan> (top 20%, <tspan font-style="italic">n</tspan> = 70)</text>
<text transform="translate(319.20,178.25) scale(1,1.06)" font-size="7" font-weight="bold" fill="#1a1a1a" textLength="114.00" lengthAdjust="spacingAndGlyphs" stroke="#1a1a1a" stroke-width="0.22"><tspan fill="#3b4f9e" stroke="#3b4f9e" stroke-width="0.22">MKL1&amp;2 Low</tspan> (bottom 20%, <tspan font-style="italic">n</tspan> = 70)</text>
<circle cx="378.58" cy="221.82" r="1.45" fill="#e48585" stroke="#b06a70" stroke-width="0.6"/>
<circle cx="334.65" cy="262.36" r="1.45" fill="#e48585" stroke="#b06a70" stroke-width="0.6"/>
<circle cx="359.08" cy="228.34" r="1.45" fill="#e48585" stroke="#b06a70" stroke-width="0.6"/>
<circle cx="362.91" cy="193.71" r="1.45" fill="#e48585" stroke="#b06a70" stroke-width="0.6"/>
<circle cx="329.01" cy="264.73" r="1.4" fill="#f2f2fa" stroke="#5562a2" stroke-width="0.7"/>
<circle cx="332.26" cy="264.67" r="1.4" fill="#f2f2fa" stroke="#5562a2" stroke-width="0.7"/>
<circle cx="378.82" cy="245.25" r="1.4" fill="#f2f2fa" stroke="#5562a2" stroke-width="0.7"/>
<circle cx="334.22" cy="266.03" r="1.4" fill="#f2f2fa" stroke="#5562a2" stroke-width="0.7"/>
<circle cx="376.12" cy="238.59" r="1.45" fill="#e48585" stroke="#b06a70" stroke-width="0.6"/>
<circle cx="326.38" cy="263.53" r="1.45" fill="#e48585" stroke="#b06a70" stroke-width="0.6"/>
<circle cx="332.69" cy="263.16" r="1.4" fill="#f2f2fa" stroke="#5562a2" stroke-width="0.7"/>
<circle cx="375.68" cy="263.41" r="1.4" fill="#f2f2fa" stroke="#5562a2" stroke-width="0.7"/>
<circle cx="361.72" cy="232.06" r="1.45" fill="#e48585" stroke="#b06a70" stroke-width="0.6"/>
<circle cx="334.81" cy="267.83" r="1.4" fill="#f2f2fa" stroke="#5562a2" stroke-width="0.7"/>
<circle cx="357.20" cy="255.42" r="1.45" fill="#e48585" stroke="#b06a70" stroke-width="0.6"/>
<circle cx="328.49" cy="265.13" r="1.45" fill="#e48585" stroke="#b06a70" stroke-width="0.6"/>
<circle cx="379.96" cy="258.86" r="1.4" fill="#f2f2fa" stroke="#5562a2" stroke-width="0.7"/>
<circle cx="333.94" cy="268.30" r="1.4" fill="#f2f2fa" stroke="#5562a2" stroke-width="0.7"/>
<circle cx="326.96" cy="270.79" r="1.4" fill="#f2f2fa" stroke="#5562a2" stroke-width="0.7"/>
<circle cx="328.87" cy="271.15" r="1.4" fill="#f2f2fa" stroke="#5562a2" stroke-width="0.7"/>
<circle cx="343.95" cy="236.56" r="1.45" fill="#e48585" stroke="#b06a70" stroke-width="0.6"/>
<circle cx="331.33" cy="268.81" r="1.4" fill="#f2f2fa" stroke="#5562a2" stroke-width="0.7"/>
<circle cx="361.13" cy="241.21" r="1.45" fill="#e48585" stroke="#b06a70" stroke-width="0.6"/>
<circle cx="326.28" cy="264.80" r="1.4" fill="#f2f2fa" stroke="#5562a2" stroke-width="0.7"/>
<circle cx="376.37" cy="220.12" r="1.45" fill="#e48585" stroke="#b06a70" stroke-width="0.6"/>
<circle cx="329.29" cy="254.75" r="1.45" fill="#e48585" stroke="#b06a70" stroke-width="0.6"/>
<circle cx="360.16" cy="248.16" r="1.45" fill="#e48585" stroke="#b06a70" stroke-width="0.6"/>
<circle cx="325.39" cy="263.24" r="1.4" fill="#f2f2fa" stroke="#5562a2" stroke-width="0.7"/>
<circle cx="330.08" cy="271.15" r="1.45" fill="#e48585" stroke="#b06a70" stroke-width="0.6"/>
<circle cx="349.48" cy="271.15" r="1.45" fill="#e48585" stroke="#b06a70" stroke-width="0.6"/>
<circle cx="326.43" cy="271.15" r="1.4" fill="#f2f2fa" stroke="#5562a2" stroke-width="0.7"/>
<circle cx="416.08" cy="189.03" r="1.45" fill="#e48585" stroke="#b06a70" stroke-width="0.6"/>
<circle cx="325.14" cy="267.44" r="1.4" fill="#f2f2fa" stroke="#5562a2" stroke-width="0.7"/>
<circle cx="331.69" cy="271.15" r="1.4" fill="#f2f2fa" stroke="#5562a2" stroke-width="0.7"/>
<circle cx="396.09" cy="246.13" r="1.45" fill="#e48585" stroke="#b06a70" stroke-width="0.6"/>
<circle cx="330.06" cy="268.00" r="1.4" fill="#f2f2fa" stroke="#5562a2" stroke-width="0.7"/>
<circle cx="356.80" cy="263.33" r="1.4" fill="#f2f2fa" stroke="#5562a2" stroke-width="0.7"/>
<circle cx="325.46" cy="271.15" r="1.4" fill="#f2f2fa" stroke="#5562a2" stroke-width="0.7"/>
<circle cx="338.04" cy="250.23" r="1.45" fill="#e48585" stroke="#b06a70" stroke-width="0.6"/>
<circle cx="328.00" cy="239.69" r="1.45" fill="#e48585" stroke="#b06a70" stroke-width="0.6"/>
<circle cx="345.09" cy="270.59" r="1.4" fill="#f2f2fa" stroke="#5562a2" stroke-width="0.7"/>
<circle cx="339.12" cy="245.27" r="1.45" fill="#e48585" stroke="#b06a70" stroke-width="0.6"/>
<circle cx="339.80" cy="271.15" r="1.4" fill="#f2f2fa" stroke="#5562a2" stroke-width="0.7"/>
<circle cx="329.89" cy="271.15" r="1.4" fill="#f2f2fa" stroke="#5562a2" stroke-width="0.7"/>
<circle cx="373.04" cy="222.07" r="1.45" fill="#e48585" stroke="#b06a70" stroke-width="0.6"/>
<circle cx="383.86" cy="267.61" r="1.4" fill="#f2f2fa" stroke="#5562a2" stroke-width="0.7"/>
<circle cx="325.05" cy="270.15" r="1.4" fill="#f2f2fa" stroke="#5562a2" stroke-width="0.7"/>
<circle cx="339.49" cy="242.56" r="1.45" fill="#e48585" stroke="#b06a70" stroke-width="0.6"/>
<circle cx="339.62" cy="269.87" r="1.4" fill="#f2f2fa" stroke="#5562a2" stroke-width="0.7"/>
<circle cx="339.88" cy="247.65" r="1.45" fill="#e48585" stroke="#b06a70" stroke-width="0.6"/>
<circle cx="343.78" cy="270.51" r="1.4" fill="#f2f2fa" stroke="#5562a2" stroke-width="0.7"/>
<circle cx="322.64" cy="271.15" r="1.4" fill="#f2f2fa" stroke="#5562a2" stroke-width="0.7"/>
<circle cx="378.82" cy="189.75" r="1.45" fill="#e48585" stroke="#b06a70" stroke-width="0.6"/>
<circle cx="348.40" cy="237.42" r="1.45" fill="#e48585" stroke="#b06a70" stroke-width="0.6"/>
<circle cx="338.50" cy="265.94" r="1.4" fill="#f2f2fa" stroke="#5562a2" stroke-width="0.7"/>
<circle cx="350.53" cy="239.96" r="1.4" fill="#f2f2fa" stroke="#5562a2" stroke-width="0.7"/>
<circle cx="345.71" cy="236.63" r="1.45" fill="#e48585" stroke="#b06a70" stroke-width="0.6"/>
<circle cx="345.38" cy="267.16" r="1.4" fill="#f2f2fa" stroke="#5562a2" stroke-width="0.7"/>
<circle cx="345.47" cy="271.15" r="1.4" fill="#f2f2fa" stroke="#5562a2" stroke-width="0.7"/>
<circle cx="332.39" cy="259.93" r="1.45" fill="#e48585" stroke="#b06a70" stroke-width="0.6"/>
<circle cx="330.22" cy="259.61" r="1.45" fill="#e48585" stroke="#b06a70" stroke-width="0.6"/>
<circle cx="342.69" cy="242.87" r="1.45" fill="#e48585" stroke="#b06a70" stroke-width="0.6"/>
<circle cx="367.22" cy="268.06" r="1.45" fill="#e48585" stroke="#b06a70" stroke-width="0.6"/>
<circle cx="358.89" cy="191.36" r="1.45" fill="#e48585" stroke="#b06a70" stroke-width="0.6"/>
<circle cx="327.64" cy="250.98" r="1.45" fill="#e48585" stroke="#b06a70" stroke-width="0.6"/>
<circle cx="364.04" cy="270.60" r="1.4" fill="#f2f2fa" stroke="#5562a2" stroke-width="0.7"/>
<circle cx="363.06" cy="267.90" r="1.45" fill="#e48585" stroke="#b06a70" stroke-width="0.6"/>
<circle cx="343.31" cy="232.62" r="1.45" fill="#e48585" stroke="#b06a70" stroke-width="0.6"/>
<circle cx="340.40" cy="271.15" r="1.4" fill="#f2f2fa" stroke="#5562a2" stroke-width="0.7"/>
<circle cx="328.12" cy="251.04" r="1.45" fill="#e48585" stroke="#b06a70" stroke-width="0.6"/>
<circle cx="366.80" cy="267.59" r="1.4" fill="#f2f2fa" stroke="#5562a2" stroke-width="0.7"/>
<circle cx="325.14" cy="266.11" r="1.4" fill="#f2f2fa" stroke="#5562a2" stroke-width="0.7"/>
<circle cx="369.11" cy="268.03" r="1.4" fill="#f2f2fa" stroke="#5562a2" stroke-width="0.7"/>
<circle cx="345.76" cy="260.84" r="1.45" fill="#e48585" stroke="#b06a70" stroke-width="0.6"/>
<circle cx="346.76" cy="269.92" r="1.45" fill="#e48585" stroke="#b06a70" stroke-width="0.6"/>
<circle cx="355.78" cy="232.76" r="1.45" fill="#e48585" stroke="#b06a70" stroke-width="0.6"/>
<circle cx="323.51" cy="266.63" r="1.4" fill="#f2f2fa" stroke="#5562a2" stroke-width="0.7"/>
<circle cx="336.66" cy="271.15" r="1.45" fill="#e48585" stroke="#b06a70" stroke-width="0.6"/>
<circle cx="361.68" cy="222.97" r="1.45" fill="#e48585" stroke="#b06a70" stroke-width="0.6"/>
<circle cx="332.19" cy="270.99" r="1.45" fill="#e48585" stroke="#b06a70" stroke-width="0.6"/>
<circle cx="346.06" cy="224.19" r="1.45" fill="#e48585" stroke="#b06a70" stroke-width="0.6"/>
<circle cx="385.90" cy="203.62" r="1.45" fill="#e48585" stroke="#b06a70" stroke-width="0.6"/>
<circle cx="356.99" cy="266.10" r="1.45" fill="#e48585" stroke="#b06a70" stroke-width="0.6"/>
<circle cx="379.30" cy="262.15" r="1.4" fill="#f2f2fa" stroke="#5562a2" stroke-width="0.7"/>
<circle cx="406.71" cy="260.05" r="1.4" fill="#f2f2fa" stroke="#5562a2" stroke-width="0.7"/>
<circle cx="342.00" cy="264.96" r="1.4" fill="#f2f2fa" stroke="#5562a2" stroke-width="0.7"/>
<circle cx="359.37" cy="191.73" r="1.45" fill="#e48585" stroke="#b06a70" stroke-width="0.6"/>
<circle cx="410.33" cy="268.92" r="1.4" fill="#f2f2fa" stroke="#5562a2" stroke-width="0.7"/>
<circle cx="398.65" cy="224.24" r="1.45" fill="#e48585" stroke="#b06a70" stroke-width="0.6"/>
<circle cx="355.83" cy="200.32" r="1.45" fill="#e48585" stroke="#b06a70" stroke-width="0.6"/>
<circle cx="350.53" cy="200.32" r="1.45" fill="#e48585" stroke="#b06a70" stroke-width="0.6"/>
<circle cx="326.08" cy="247.64" r="1.45" fill="#e48585" stroke="#b06a70" stroke-width="0.6"/>
<circle cx="357.77" cy="263.38" r="1.4" fill="#f2f2fa" stroke="#5562a2" stroke-width="0.7"/>
<circle cx="327.31" cy="269.80" r="1.4" fill="#f2f2fa" stroke="#5562a2" stroke-width="0.7"/>
<circle cx="357.83" cy="239.57" r="1.45" fill="#e48585" stroke="#b06a70" stroke-width="0.6"/>
<circle cx="349.85" cy="226.61" r="1.45" fill="#e48585" stroke="#b06a70" stroke-width="0.6"/>
<circle cx="333.81" cy="268.27" r="1.4" fill="#f2f2fa" stroke="#5562a2" stroke-width="0.7"/>
<circle cx="333.05" cy="257.47" r="1.45" fill="#e48585" stroke="#b06a70" stroke-width="0.6"/>
<circle cx="348.13" cy="262.35" r="1.45" fill="#e48585" stroke="#b06a70" stroke-width="0.6"/>
<circle cx="326.93" cy="266.29" r="1.4" fill="#f2f2fa" stroke="#5562a2" stroke-width="0.7"/>
<circle cx="356.48" cy="260.82" r="1.45" fill="#e48585" stroke="#b06a70" stroke-width="0.6"/>
<circle cx="351.99" cy="239.50" r="1.45" fill="#e48585" stroke="#b06a70" stroke-width="0.6"/>
<circle cx="345.80" cy="228.80" r="1.45" fill="#e48585" stroke="#b06a70" stroke-width="0.6"/>
<circle cx="354.30" cy="267.94" r="1.4" fill="#f2f2fa" stroke="#5562a2" stroke-width="0.7"/>
<circle cx="325.62" cy="269.18" r="1.4" fill="#f2f2fa" stroke="#5562a2" stroke-width="0.7"/>
<circle cx="350.82" cy="271.15" r="1.4" fill="#f2f2fa" stroke="#5562a2" stroke-width="0.7"/>
<circle cx="346.99" cy="256.48" r="1.4" fill="#f2f2fa" stroke="#5562a2" stroke-width="0.7"/>
<circle cx="329.25" cy="271.15" r="1.4" fill="#f2f2fa" stroke="#5562a2" stroke-width="0.7"/>
<circle cx="326.32" cy="268.10" r="1.4" fill="#f2f2fa" stroke="#5562a2" stroke-width="0.7"/>
<circle cx="327.10" cy="271.15" r="1.45" fill="#e48585" stroke="#b06a70" stroke-width="0.6"/>
<circle cx="334.13" cy="262.93" r="1.45" fill="#e48585" stroke="#b06a70" stroke-width="0.6"/>
<circle cx="327.03" cy="271.15" r="1.4" fill="#f2f2fa" stroke="#5562a2" stroke-width="0.7"/>
<circle cx="344.13" cy="271.15" r="1.4" fill="#f2f2fa" stroke="#5562a2" stroke-width="0.7"/>
<circle cx="355.27" cy="220.01" r="1.45" fill="#e48585" stroke="#b06a70" stroke-width="0.6"/>
<circle cx="331.16" cy="267.16" r="1.4" fill="#f2f2fa" stroke="#5562a2" stroke-width="0.7"/>
<circle cx="325.97" cy="269.62" r="1.4" fill="#f2f2fa" stroke="#5562a2" stroke-width="0.7"/>
<circle cx="343.26" cy="258.02" r="1.45" fill="#e48585" stroke="#b06a70" stroke-width="0.6"/>
<circle cx="373.92" cy="266.93" r="1.4" fill="#f2f2fa" stroke="#5562a2" stroke-width="0.7"/>
<circle cx="331.70" cy="271.15" r="1.4" fill="#f2f2fa" stroke="#5562a2" stroke-width="0.7"/>
<circle cx="326.22" cy="262.55" r="1.4" fill="#f2f2fa" stroke="#5562a2" stroke-width="0.7"/>
<circle cx="330.91" cy="271.15" r="1.45" fill="#e48585" stroke="#b06a70" stroke-width="0.6"/>
<circle cx="357.12" cy="271.15" r="1.45" fill="#e48585" stroke="#b06a70" stroke-width="0.6"/>
<circle cx="334.44" cy="271.15" r="1.4" fill="#f2f2fa" stroke="#5562a2" stroke-width="0.7"/>
<circle cx="339.92" cy="220.14" r="1.4" fill="#f2f2fa" stroke="#5562a2" stroke-width="0.7"/>
<circle cx="340.43" cy="235.08" r="1.45" fill="#e48585" stroke="#b06a70" stroke-width="0.6"/>
<circle cx="330.62" cy="263.88" r="1.45" fill="#e48585" stroke="#b06a70" stroke-width="0.6"/>
<circle cx="334.48" cy="252.41" r="1.45" fill="#e48585" stroke="#b06a70" stroke-width="0.6"/>
<circle cx="350.59" cy="266.53" r="1.45" fill="#e48585" stroke="#b06a70" stroke-width="0.6"/>
<circle cx="328.95" cy="265.15" r="1.4" fill="#f2f2fa" stroke="#5562a2" stroke-width="0.7"/>
<circle cx="329.07" cy="270.51" r="1.4" fill="#f2f2fa" stroke="#5562a2" stroke-width="0.7"/>
<circle cx="347.84" cy="271.15" r="1.4" fill="#f2f2fa" stroke="#5562a2" stroke-width="0.7"/>
<circle cx="339.39" cy="270.28" r="1.4" fill="#f2f2fa" stroke="#5562a2" stroke-width="0.7"/>
<circle cx="355.31" cy="270.64" r="1.4" fill="#f2f2fa" stroke="#5562a2" stroke-width="0.7"/>
<circle cx="362.75" cy="225.02" r="1.45" fill="#e48585" stroke="#b06a70" stroke-width="0.6"/>
<circle cx="338.28" cy="266.33" r="1.4" fill="#f2f2fa" stroke="#5562a2" stroke-width="0.7"/>
<circle cx="334.48" cy="271.15" r="1.45" fill="#e48585" stroke="#b06a70" stroke-width="0.6"/>
<circle cx="327.26" cy="271.15" r="1.4" fill="#f2f2fa" stroke="#5562a2" stroke-width="0.7"/>
<circle cx="341.76" cy="269.48" r="1.4" fill="#f2f2fa" stroke="#5562a2" stroke-width="0.7"/>
<circle cx="408.88" cy="261.77" r="1.4" fill="#f2f2fa" stroke="#5562a2" stroke-width="0.7"/>
<circle cx="349.87" cy="271.15" r="1.45" fill="#e48585" stroke="#b06a70" stroke-width="0.6"/>
<circle cx="326.74" cy="265.95" r="1.4" fill="#f2f2fa" stroke="#5562a2" stroke-width="0.7"/>
<rect x="318.70" y="180.50" width="106.10" height="92.50" fill="none" stroke="#a0a0a8" stroke-width="0.9"/>
<line x1="324" y1="260.6" x2="397" y2="224" stroke="#d8412e" stroke-width="1.6"/>
<line x1="324" y1="268" x2="410" y2="262.2" stroke="#3553a3" stroke-width="1.6"/>
<text transform="translate(376.30,211.87) scale(1,1.06)" font-size="7" text-anchor="start" fill="#d9453f" font-weight="bold" textLength="46.10" lengthAdjust="spacingAndGlyphs" stroke="#d9453f" stroke-width="0.22">ΔY/ΔX=0.0014</text>
<text transform="translate(376.30,256.87) scale(1,1.06)" font-size="7" text-anchor="start" fill="#3c52a3" font-weight="bold" textLength="46.10" lengthAdjust="spacingAndGlyphs" stroke="#3c52a3" stroke-width="0.22">ΔY/ΔX=0.0001</text>
<text transform="translate(391.20,234.24) scale(1,1.06)" font-size="6.5" font-weight="bold" fill="#111" textLength="31.80" lengthAdjust="spacingAndGlyphs" stroke="#111" stroke-width="0.22"><tspan font-style="italic">P</tspan> = 0.0035</text>
<text transform="translate(314.70,275.10) scale(1,1.06)" font-size="5.5" text-anchor="end" fill="#333" font-weight="bold" stroke="#333" stroke-width="0.22">0</text>
<text transform="translate(314.70,261.89) scale(1,1.06)" font-size="5.5" text-anchor="end" fill="#333" font-weight="bold" stroke="#333" stroke-width="0.22">0.02</text>
<text transform="translate(314.70,248.67) scale(1,1.06)" font-size="5.5" text-anchor="end" fill="#333" font-weight="bold" stroke="#333" stroke-width="0.22">0.04</text>
<text transform="translate(314.70,235.46) scale(1,1.06)" font-size="5.5" text-anchor="end" fill="#333" font-weight="bold" stroke="#333" stroke-width="0.22">0.06</text>
<text transform="translate(314.70,222.24) scale(1,1.06)" font-size="5.5" text-anchor="end" fill="#333" font-weight="bold" stroke="#333" stroke-width="0.22">0.08</text>
<text transform="translate(314.70,209.03) scale(1,1.06)" font-size="5.5" text-anchor="end" fill="#333" font-weight="bold" stroke="#333" stroke-width="0.22">0.1</text>
<text transform="translate(314.70,195.81) scale(1,1.06)" font-size="5.5" text-anchor="end" fill="#333" font-weight="bold" stroke="#333" stroke-width="0.22">0.12</text>
<text transform="translate(314.70,182.60) scale(1,1.06)" font-size="5.5" text-anchor="end" fill="#333" font-weight="bold" stroke="#333" stroke-width="0.22">0.14</text>
<text transform="translate(318.70,283.48) scale(1,1.06)" font-size="6.5" text-anchor="middle" fill="#333" font-weight="bold" stroke="#333" stroke-width="0.22">0</text>
<text transform="translate(336.38,283.48) scale(1,1.06)" font-size="6.5" text-anchor="middle" fill="#333" font-weight="bold" stroke="#333" stroke-width="0.22">10</text>
<text transform="translate(354.07,283.48) scale(1,1.06)" font-size="6.5" text-anchor="middle" fill="#333" font-weight="bold" stroke="#333" stroke-width="0.22">20</text>
<text transform="translate(371.75,283.48) scale(1,1.06)" font-size="6.5" text-anchor="middle" fill="#333" font-weight="bold" stroke="#333" stroke-width="0.22">30</text>
<text transform="translate(389.43,283.48) scale(1,1.06)" font-size="6.5" text-anchor="middle" fill="#333" font-weight="bold" stroke="#333" stroke-width="0.22">40</text>
<text transform="translate(407.12,283.48) scale(1,1.06)" font-size="6.5" text-anchor="middle" fill="#333" font-weight="bold" stroke="#333" stroke-width="0.22">50</text>
<text transform="translate(424.80,283.48) scale(1,1.06)" font-size="6.5" text-anchor="middle" fill="#333" font-weight="bold" stroke="#333" stroke-width="0.22">60</text>
<g transform="translate(299.00,226.20) rotate(-90)"><text transform="translate(0.00,2.65) scale(1,1.06)" font-size="7" text-anchor="middle" fill="#1a1a1a" font-weight="bold" textLength="80.80" lengthAdjust="spacingAndGlyphs" stroke="#1a1a1a" stroke-width="0.22"><tspan font-style="italic">WISP1</tspan> Expression level</text></g>
<text transform="translate(371.00,292.75) scale(1,1.06)" font-size="7.2" text-anchor="middle" fill="#1a1a1a" font-weight="bold" textLength="87.75" lengthAdjust="spacingAndGlyphs" stroke="#1a1a1a" stroke-width="0.22"><tspan font-style="italic">TMSB4X</tspan> Expression level</text>
<text transform="translate(1.00,10.50) scale(1,1.06)" font-size="12.2" font-weight="bold" fill="#000" stroke="#000" stroke-width="0.22">A</text>
<text transform="translate(1.50,313.00) scale(1,1.06)" font-size="12.2" font-weight="bold" fill="#000" stroke="#000" stroke-width="0.22">B</text>
<text transform="translate(22.00,320.38) scale(1,1.08)" font-size="6.2" font-weight="bold" fill="#1a1a1a" textLength="63.50" lengthAdjust="spacingAndGlyphs" stroke="#1a1a1a" stroke-width="0.22"><tspan fill="#d9403a" stroke="#d9403a" stroke-width="0.22">TMSB4X High</tspan> (<tspan font-style="italic">n</tspan> = 100)</text>
<text transform="translate(22.00,326.58) scale(1,1.08)" font-size="6.2" font-weight="bold" fill="#1a1a1a" textLength="89.00" lengthAdjust="spacingAndGlyphs" stroke="#1a1a1a" stroke-width="0.22"><tspan fill="#5fae45" stroke="#5fae45" stroke-width="0.22">TMSB4X High/SRF High</tspan> (<tspan font-style="italic">n</tspan> = 50)</text>
<text transform="translate(22.00,332.78) scale(1,1.08)" font-size="6.2" font-weight="bold" fill="#1a1a1a" textLength="87.70" lengthAdjust="spacingAndGlyphs" stroke="#1a1a1a" stroke-width="0.22"><tspan fill="#3b4f9e" stroke="#3b4f9e" stroke-width="0.22">TMSB4X High/SRF Low</tspan> (<tspan font-style="italic">n</tspan> = 50)</text>
<text transform="translate(22.00,338.98) scale(1,1.08)" font-size="6.2" font-weight="bold" fill="#1a1a1a" textLength="90.00" lengthAdjust="spacingAndGlyphs" stroke="#1a1a1a" stroke-width="0.22"><tspan fill="#f0c040" stroke="#f0c040" stroke-width="0.22">TMSB4X Moderate-Low</tspan> (<tspan font-style="italic">n</tspan> = 315)</text>
<circle cx="10.00" cy="318.00" r="1.7" fill="none" stroke="#5fae45" stroke-width="0.8"/>
<text transform="translate(14.00,320.13) scale(1,1.06)" font-size="6" font-weight="bold" text-anchor="middle" fill="#333" stroke="#333" stroke-width="0.22">+</text>
<circle cx="18.00" cy="318.00" r="1.7" fill="none" stroke="#3b4f9e" stroke-width="0.8"/>
<circle cx="14.00" cy="324.20" r="1.7" fill="none" stroke="#5fae45" stroke-width="0.8"/>
<circle cx="14.00" cy="330.40" r="1.7" fill="none" stroke="#3b4f9e" stroke-width="0.8"/>
<circle cx="14.00" cy="336.60" r="1.7" fill="#f2a634" stroke="#e9b070" stroke-width="0.5"/>
<circle cx="37.23" cy="395.05" r="1.35" fill="#f6a858" stroke="#f2c090" stroke-width="0.5"/>
<circle cx="40.32" cy="400.18" r="1.35" fill="#f6a858" stroke="#f2c090" stroke-width="0.5"/>
<circle cx="41.62" cy="399.46" r="1.35" fill="#f6a858" stroke="#f2c090" stroke-width="0.5"/>
<circle cx="41.46" cy="409.79" r="1.35" fill="#f6a858" stroke="#f2c090" stroke-width="0.5"/>
<circle cx="31.05" cy="394.63" r="1.35" fill="#f6a858" stroke="#f2c090" stroke-width="0.5"/>
<circle cx="31.83" cy="402.12" r="1.35" fill="#f6a858" stroke="#f2c090" stroke-width="0.5"/>
<circle cx="37.27" cy="403.42" r="1.35" fill="#f6a858" stroke="#f2c090" stroke-width="0.5"/>
<circle cx="35.78" cy="390.33" r="1.35" fill="#f6a858" stroke="#f2c090" stroke-width="0.5"/>
<circle cx="29.26" cy="393.87" r="1.35" fill="#f6a858" stroke="#f2c090" stroke-width="0.5"/>
<circle cx="46.68" cy="399.86" r="1.35" fill="#f6a858" stroke="#f2c090" stroke-width="0.5"/>
<circle cx="37.61" cy="394.97" r="1.35" fill="#f6a858" stroke="#f2c090" stroke-width="0.5"/>
<circle cx="45.40" cy="408.29" r="1.35" fill="#f6a858" stroke="#f2c090" stroke-width="0.5"/>
<circle cx="38.06" cy="401.32" r="1.35" fill="#f6a858" stroke="#f2c090" stroke-width="0.5"/>
<circle cx="40.05" cy="398.91" r="1.35" fill="#f6a858" stroke="#f2c090" stroke-width="0.5"/>
<circle cx="40.47" cy="402.96" r="1.35" fill="#f6a858" stroke="#f2c090" stroke-width="0.5"/>
<circle cx="37.89" cy="404.69" r="1.35" fill="#f6a858" stroke="#f2c090" stroke-width="0.5"/>
<circle cx="34.89" cy="401.01" r="1.35" fill="#f6a858" stroke="#f2c090" stroke-width="0.5"/>
<circle cx="37.09" cy="408.18" r="1.35" fill="#f6a858" stroke="#f2c090" stroke-width="0.5"/>
<circle cx="44.31" cy="400.96" r="1.35" fill="#f6a858" stroke="#f2c090" stroke-width="0.5"/>
<circle cx="31.86" cy="392.36" r="1.35" fill="#f6a858" stroke="#f2c090" stroke-width="0.5"/>
<circle cx="34.53" cy="396.49" r="1.35" fill="#f6a858" stroke="#f2c090" stroke-width="0.5"/>
<circle cx="37.62" cy="398.28" r="1.35" fill="#f6a858" stroke="#f2c090" stroke-width="0.5"/>
<circle cx="38.41" cy="404.02" r="1.35" fill="#f6a858" stroke="#f2c090" stroke-width="0.5"/>
<circle cx="37.86" cy="385.88" r="1.35" fill="#f6a858" stroke="#f2c090" stroke-width="0.5"/>
<circle cx="29.26" cy="399.56" r="1.35" fill="#f6a858" stroke="#f2c090" stroke-width="0.5"/>
<circle cx="39.52" cy="407.34" r="1.35" fill="#f6a858" stroke="#f2c090" stroke-width="0.5"/>
<circle cx="31.91" cy="385.00" r="1.35" fill="#f6a858" stroke="#f2c090" stroke-width="0.5"/>
<circle cx="36.12" cy="385.56" r="1.35" fill="#f6a858" stroke="#f2c090" stroke-width="0.5"/>
<circle cx="39.95" cy="399.49" r="1.35" fill="#f6a858" stroke="#f2c090" stroke-width="0.5"/>
<circle cx="39.69" cy="395.60" r="1.35" fill="#f6a858" stroke="#f2c090" stroke-width="0.5"/>
<circle cx="42.66" cy="396.99" r="1.35" fill="#f6a858" stroke="#f2c090" stroke-width="0.5"/>
<circle cx="38.30" cy="398.80" r="1.35" fill="#f6a858" stroke="#f2c090" stroke-width="0.5"/>
<circle cx="43.39" cy="394.34" r="1.35" fill="#f6a858" stroke="#f2c090" stroke-width="0.5"/>
<circle cx="33.46" cy="404.44" r="1.35" fill="#f6a858" stroke="#f2c090" stroke-width="0.5"/>
<circle cx="39.08" cy="404.36" r="1.35" fill="#f6a858" stroke="#f2c090" stroke-width="0.5"/>
<circle cx="36.10" cy="406.67" r="1.35" fill="#f6a858" stroke="#f2c090" stroke-width="0.5"/>
<circle cx="36.59" cy="397.08" r="1.35" fill="#f6a858" stroke="#f2c090" stroke-width="0.5"/>
<circle cx="41.88" cy="399.96" r="1.35" fill="#f6a858" stroke="#f2c090" stroke-width="0.5"/>
<circle cx="46.43" cy="400.55" r="1.35" fill="#f6a858" stroke="#f2c090" stroke-width="0.5"/>
<circle cx="46.68" cy="393.05" r="1.35" fill="#f6a858" stroke="#f2c090" stroke-width="0.5"/>
<circle cx="39.78" cy="403.49" r="1.35" fill="#f6a858" stroke="#f2c090" stroke-width="0.5"/>
<circle cx="29.26" cy="401.10" r="1.35" fill="#f6a858" stroke="#f2c090" stroke-width="0.5"/>
<circle cx="38.44" cy="386.65" r="1.35" fill="#f6a858" stroke="#f2c090" stroke-width="0.5"/>
<circle cx="31.87" cy="386.76" r="1.35" fill="#f6a858" stroke="#f2c090" stroke-width="0.5"/>
<circle cx="36.63" cy="394.98" r="1.35" fill="#f6a858" stroke="#f2c090" stroke-width="0.5"/>
<circle cx="29.26" cy="399.06" r="1.35" fill="#f6a858" stroke="#f2c090" stroke-width="0.5"/>
<circle cx="36.24" cy="395.27" r="1.35" fill="#f6a858" stroke="#f2c090" stroke-width="0.5"/>
<circle cx="38.07" cy="407.97" r="1.35" fill="#f6a858" stroke="#f2c090" stroke-width="0.5"/>
<circle cx="41.68" cy="395.19" r="1.35" fill="#f6a858" stroke="#f2c090" stroke-width="0.5"/>
<circle cx="40.20" cy="393.00" r="1.35" fill="#f6a858" stroke="#f2c090" stroke-width="0.5"/>
<circle cx="42.33" cy="400.17" r="1.35" fill="#f6a858" stroke="#f2c090" stroke-width="0.5"/>
<circle cx="31.97" cy="409.66" r="1.35" fill="#f6a858" stroke="#f2c090" stroke-width="0.5"/>
<circle cx="43.38" cy="395.08" r="1.35" fill="#f6a858" stroke="#f2c090" stroke-width="0.5"/>
<circle cx="38.12" cy="403.05" r="1.35" fill="#f6a858" stroke="#f2c090" stroke-width="0.5"/>
<circle cx="37.82" cy="399.85" r="1.35" fill="#f6a858" stroke="#f2c090" stroke-width="0.5"/>
<circle cx="36.27" cy="404.89" r="1.35" fill="#f6a858" stroke="#f2c090" stroke-width="0.5"/>
<circle cx="46.68" cy="398.43" r="1.35" fill="#f6a858" stroke="#f2c090" stroke-width="0.5"/>
<circle cx="35.13" cy="409.08" r="1.35" fill="#f6a858" stroke="#f2c090" stroke-width="0.5"/>
<circle cx="34.63" cy="395.02" r="1.35" fill="#f6a858" stroke="#f2c090" stroke-width="0.5"/>
<circle cx="40.88" cy="401.54" r="1.35" fill="#f6a858" stroke="#f2c090" stroke-width="0.5"/>
<circle cx="37.91" cy="402.14" r="1.35" fill="#f6a858" stroke="#f2c090" stroke-width="0.5"/>
<circle cx="33.02" cy="390.97" r="1.35" fill="#f6a858" stroke="#f2c090" stroke-width="0.5"/>
<circle cx="39.26" cy="382.94" r="1.35" fill="#f6a858" stroke="#f2c090" stroke-width="0.5"/>
<circle cx="34.50" cy="400.98" r="1.35" fill="#f6a858" stroke="#f2c090" stroke-width="0.5"/>
<circle cx="41.41" cy="401.73" r="1.35" fill="#f6a858" stroke="#f2c090" stroke-width="0.5"/>
<circle cx="31.84" cy="406.62" r="1.35" fill="#f6a858" stroke="#f2c090" stroke-width="0.5"/>
<circle cx="38.11" cy="397.63" r="1.35" fill="#f6a858" stroke="#f2c090" stroke-width="0.5"/>
<circle cx="37.29" cy="393.04" r="1.35" fill="#f6a858" stroke="#f2c090" stroke-width="0.5"/>
<circle cx="41.87" cy="397.78" r="1.35" fill="#f6a858" stroke="#f2c090" stroke-width="0.5"/>
<circle cx="37.80" cy="401.78" r="1.35" fill="#f6a858" stroke="#f2c090" stroke-width="0.5"/>
<circle cx="40.01" cy="393.62" r="1.35" fill="#f6a858" stroke="#f2c090" stroke-width="0.5"/>
<circle cx="37.94" cy="396.89" r="1.35" fill="#f6a858" stroke="#f2c090" stroke-width="0.5"/>
<circle cx="36.32" cy="409.84" r="1.35" fill="#f6a858" stroke="#f2c090" stroke-width="0.5"/>
<circle cx="33.47" cy="394.69" r="1.35" fill="#f6a858" stroke="#f2c090" stroke-width="0.5"/>
<circle cx="39.57" cy="388.96" r="1.35" fill="#f6a858" stroke="#f2c090" stroke-width="0.5"/>
<circle cx="37.92" cy="394.01" r="1.35" fill="#f6a858" stroke="#f2c090" stroke-width="0.5"/>
<circle cx="43.26" cy="393.10" r="1.35" fill="#f6a858" stroke="#f2c090" stroke-width="0.5"/>
<circle cx="35.12" cy="401.31" r="1.35" fill="#f6a858" stroke="#f2c090" stroke-width="0.5"/>
<circle cx="38.23" cy="406.88" r="1.35" fill="#f6a858" stroke="#f2c090" stroke-width="0.5"/>
<circle cx="39.69" cy="392.90" r="1.35" fill="#f6a858" stroke="#f2c090" stroke-width="0.5"/>
<circle cx="35.66" cy="386.30" r="1.35" fill="#f6a858" stroke="#f2c090" stroke-width="0.5"/>
<circle cx="36.46" cy="401.43" r="1.35" fill="#f6a858" stroke="#f2c090" stroke-width="0.5"/>
<circle cx="36.68" cy="404.95" r="1.35" fill="#f6a858" stroke="#f2c090" stroke-width="0.5"/>
<circle cx="39.45" cy="399.88" r="1.35" fill="#f6a858" stroke="#f2c090" stroke-width="0.5"/>
<circle cx="44.69" cy="395.80" r="1.35" fill="#f6a858" stroke="#f2c090" stroke-width="0.5"/>
<circle cx="39.95" cy="401.56" r="1.35" fill="#f6a858" stroke="#f2c090" stroke-width="0.5"/>
<circle cx="31.73" cy="400.65" r="1.35" fill="#f6a858" stroke="#f2c090" stroke-width="0.5"/>
<circle cx="34.10" cy="393.40" r="1.35" fill="#f6a858" stroke="#f2c090" stroke-width="0.5"/>
<circle cx="37.56" cy="388.43" r="1.35" fill="#f6a858" stroke="#f2c090" stroke-width="0.5"/>
<circle cx="40.79" cy="394.21" r="1.35" fill="#f6a858" stroke="#f2c090" stroke-width="0.5"/>
<circle cx="38.66" cy="398.57" r="1.35" fill="#f6a858" stroke="#f2c090" stroke-width="0.5"/>
<circle cx="40.44" cy="393.60" r="1.35" fill="#f6a858" stroke="#f2c090" stroke-width="0.5"/>
<circle cx="34.69" cy="396.60" r="1.35" fill="#f6a858" stroke="#f2c090" stroke-width="0.5"/>
<circle cx="46.68" cy="400.65" r="1.35" fill="#f6a858" stroke="#f2c090" stroke-width="0.5"/>
<circle cx="36.61" cy="404.84" r="1.35" fill="#f6a858" stroke="#f2c090" stroke-width="0.5"/>
<circle cx="31.58" cy="391.75" r="1.35" fill="#f6a858" stroke="#f2c090" stroke-width="0.5"/>
<circle cx="37.94" cy="397.94" r="1.35" fill="#f6a858" stroke="#f2c090" stroke-width="0.5"/>
<circle cx="45.46" cy="382.94" r="1.35" fill="#f6a858" stroke="#f2c090" stroke-width="0.5"/>
<circle cx="33.94" cy="392.69" r="1.35" fill="#f6a858" stroke="#f2c090" stroke-width="0.5"/>
<circle cx="40.32" cy="397.24" r="1.35" fill="#f6a858" stroke="#f2c090" stroke-width="0.5"/>
<circle cx="39.71" cy="400.17" r="1.35" fill="#f6a858" stroke="#f2c090" stroke-width="0.5"/>
<circle cx="44.40" cy="395.73" r="1.35" fill="#f6a858" stroke="#f2c090" stroke-width="0.5"/>
<circle cx="39.15" cy="391.33" r="1.35" fill="#f6a858" stroke="#f2c090" stroke-width="0.5"/>
<circle cx="41.48" cy="396.80" r="1.35" fill="#f6a858" stroke="#f2c090" stroke-width="0.5"/>
<circle cx="39.08" cy="387.79" r="1.35" fill="#f6a858" stroke="#f2c090" stroke-width="0.5"/>
<circle cx="39.85" cy="400.63" r="1.35" fill="#f6a858" stroke="#f2c090" stroke-width="0.5"/>
<circle cx="34.09" cy="402.40" r="1.35" fill="#f6a858" stroke="#f2c090" stroke-width="0.5"/>
<circle cx="33.28" cy="399.25" r="1.35" fill="#f6a858" stroke="#f2c090" stroke-width="0.5"/>
<circle cx="38.78" cy="413.31" r="1.35" fill="#f6a858" stroke="#f2c090" stroke-width="0.5"/>
<circle cx="37.78" cy="395.49" r="1.35" fill="#f6a858" stroke="#f2c090" stroke-width="0.5"/>
<circle cx="38.40" cy="406.65" r="1.35" fill="#f6a858" stroke="#f2c090" stroke-width="0.5"/>
<circle cx="43.05" cy="404.85" r="1.35" fill="#f6a858" stroke="#f2c090" stroke-width="0.5"/>
<circle cx="32.52" cy="407.52" r="1.35" fill="#f6a858" stroke="#f2c090" stroke-width="0.5"/>
<circle cx="37.64" cy="393.17" r="1.35" fill="#f6a858" stroke="#f2c090" stroke-width="0.5"/>
<circle cx="42.61" cy="398.55" r="1.35" fill="#f6a858" stroke="#f2c090" stroke-width="0.5"/>
<circle cx="32.67" cy="404.58" r="1.35" fill="#f6a858" stroke="#f2c090" stroke-width="0.5"/>
<circle cx="33.91" cy="401.25" r="1.35" fill="#f6a858" stroke="#f2c090" stroke-width="0.5"/>
<circle cx="30.22" cy="399.24" r="1.35" fill="#f6a858" stroke="#f2c090" stroke-width="0.5"/>
<circle cx="40.41" cy="401.05" r="1.35" fill="#f6a858" stroke="#f2c090" stroke-width="0.5"/>
<circle cx="39.63" cy="406.54" r="1.35" fill="#f6a858" stroke="#f2c090" stroke-width="0.5"/>
<circle cx="31.56" cy="404.45" r="1.35" fill="#f6a858" stroke="#f2c090" stroke-width="0.5"/>
<circle cx="42.57" cy="392.85" r="1.35" fill="#f6a858" stroke="#f2c090" stroke-width="0.5"/>
<circle cx="35.77" cy="391.64" r="1.35" fill="#f6a858" stroke="#f2c090" stroke-width="0.5"/>
<circle cx="36.32" cy="389.50" r="1.35" fill="#f6a858" stroke="#f2c090" stroke-width="0.5"/>
<circle cx="39.73" cy="403.16" r="1.35" fill="#f6a858" stroke="#f2c090" stroke-width="0.5"/>
<circle cx="41.04" cy="405.41" r="1.35" fill="#f6a858" stroke="#f2c090" stroke-width="0.5"/>
<circle cx="33.75" cy="410.11" r="1.35" fill="#f6a858" stroke="#f2c090" stroke-width="0.5"/>
<circle cx="38.78" cy="400.39" r="1.35" fill="#f6a858" stroke="#f2c090" stroke-width="0.5"/>
<circle cx="37.36" cy="402.87" r="1.35" fill="#f6a858" stroke="#f2c090" stroke-width="0.5"/>
<circle cx="43.75" cy="402.97" r="1.35" fill="#f6a858" stroke="#f2c090" stroke-width="0.5"/>
<circle cx="34.64" cy="391.35" r="1.35" fill="#f6a858" stroke="#f2c090" stroke-width="0.5"/>
<circle cx="43.68" cy="397.66" r="1.35" fill="#f6a858" stroke="#f2c090" stroke-width="0.5"/>
<circle cx="30.35" cy="404.19" r="1.35" fill="#f6a858" stroke="#f2c090" stroke-width="0.5"/>
<circle cx="40.27" cy="399.90" r="1.35" fill="#f6a858" stroke="#f2c090" stroke-width="0.5"/>
<circle cx="44.24" cy="409.53" r="1.35" fill="#f6a858" stroke="#f2c090" stroke-width="0.5"/>
<circle cx="40.55" cy="404.39" r="1.35" fill="#f6a858" stroke="#f2c090" stroke-width="0.5"/>
<circle cx="43.26" cy="400.55" r="1.35" fill="#f6a858" stroke="#f2c090" stroke-width="0.5"/>
<circle cx="42.03" cy="404.53" r="1.35" fill="#f6a858" stroke="#f2c090" stroke-width="0.5"/>
<circle cx="31.75" cy="407.75" r="1.35" fill="#f6a858" stroke="#f2c090" stroke-width="0.5"/>
<circle cx="35.13" cy="407.15" r="1.35" fill="#f6a858" stroke="#f2c090" stroke-width="0.5"/>
<circle cx="42.75" cy="390.71" r="1.35" fill="#f6a858" stroke="#f2c090" stroke-width="0.5"/>
<circle cx="38.84" cy="407.22" r="1.35" fill="#f6a858" stroke="#f2c090" stroke-width="0.5"/>
<circle cx="37.19" cy="404.80" r="1.35" fill="#f6a858" stroke="#f2c090" stroke-width="0.5"/>
<circle cx="43.82" cy="397.82" r="1.35" fill="#f6a858" stroke="#f2c090" stroke-width="0.5"/>
<circle cx="39.75" cy="402.80" r="1.35" fill="#f6a858" stroke="#f2c090" stroke-width="0.5"/>
<circle cx="29.26" cy="405.39" r="1.35" fill="#f6a858" stroke="#f2c090" stroke-width="0.5"/>
<circle cx="32.98" cy="397.45" r="1.35" fill="#f6a858" stroke="#f2c090" stroke-width="0.5"/>
<circle cx="38.09" cy="405.60" r="1.35" fill="#f6a858" stroke="#f2c090" stroke-width="0.5"/>
<circle cx="36.05" cy="389.12" r="1.35" fill="#f6a858" stroke="#f2c090" stroke-width="0.5"/>
<circle cx="33.64" cy="406.41" r="1.35" fill="#f6a858" stroke="#f2c090" stroke-width="0.5"/>
<circle cx="36.73" cy="404.89" r="1.35" fill="#f6a858" stroke="#f2c090" stroke-width="0.5"/>
<circle cx="35.88" cy="396.32" r="1.35" fill="#f6a858" stroke="#f2c090" stroke-width="0.5"/>
<circle cx="44.99" cy="412.40" r="1.35" fill="#f6a858" stroke="#f2c090" stroke-width="0.5"/>
<circle cx="37.61" cy="399.73" r="1.35" fill="#f6a858" stroke="#f2c090" stroke-width="0.5"/>
<circle cx="37.33" cy="401.32" r="1.35" fill="#f6a858" stroke="#f2c090" stroke-width="0.5"/>
<circle cx="36.25" cy="393.04" r="1.35" fill="#f6a858" stroke="#f2c090" stroke-width="0.5"/>
<circle cx="35.73" cy="400.91" r="1.35" fill="#f6a858" stroke="#f2c090" stroke-width="0.5"/>
<circle cx="37.69" cy="399.27" r="1.35" fill="#f6a858" stroke="#f2c090" stroke-width="0.5"/>
<circle cx="36.97" cy="393.07" r="1.35" fill="#f6a858" stroke="#f2c090" stroke-width="0.5"/>
<circle cx="37.65" cy="398.81" r="1.35" fill="#f6a858" stroke="#f2c090" stroke-width="0.5"/>
<circle cx="37.47" cy="407.00" r="1.35" fill="#f6a858" stroke="#f2c090" stroke-width="0.5"/>
<circle cx="34.19" cy="407.33" r="1.35" fill="#f6a858" stroke="#f2c090" stroke-width="0.5"/>
<circle cx="38.50" cy="404.99" r="1.35" fill="#f6a858" stroke="#f2c090" stroke-width="0.5"/>
<circle cx="33.21" cy="398.37" r="1.35" fill="#f6a858" stroke="#f2c090" stroke-width="0.5"/>
<circle cx="39.90" cy="412.27" r="1.35" fill="#f6a858" stroke="#f2c090" stroke-width="0.5"/>
<circle cx="44.81" cy="399.80" r="1.35" fill="#f6a858" stroke="#f2c090" stroke-width="0.5"/>
<circle cx="37.24" cy="392.60" r="1.35" fill="#f6a858" stroke="#f2c090" stroke-width="0.5"/>
<circle cx="37.98" cy="404.22" r="1.35" fill="#f6a858" stroke="#f2c090" stroke-width="0.5"/>
<circle cx="46.68" cy="407.50" r="1.35" fill="#f6a858" stroke="#f2c090" stroke-width="0.5"/>
<circle cx="37.28" cy="394.13" r="1.35" fill="#f6a858" stroke="#f2c090" stroke-width="0.5"/>
<circle cx="33.18" cy="400.73" r="1.35" fill="#f6a858" stroke="#f2c090" stroke-width="0.5"/>
<circle cx="39.32" cy="383.31" r="1.35" fill="#f6a858" stroke="#f2c090" stroke-width="0.5"/>
<circle cx="33.92" cy="400.35" r="1.35" fill="#f6a858" stroke="#f2c090" stroke-width="0.5"/>
<circle cx="40.46" cy="399.46" r="1.35" fill="#f6a858" stroke="#f2c090" stroke-width="0.5"/>
<circle cx="32.62" cy="397.18" r="1.35" fill="#f6a858" stroke="#f2c090" stroke-width="0.5"/>
<circle cx="38.14" cy="396.92" r="1.35" fill="#f6a858" stroke="#f2c090" stroke-width="0.5"/>
<circle cx="42.46" cy="392.97" r="1.35" fill="#f6a858" stroke="#f2c090" stroke-width="0.5"/>
<circle cx="39.41" cy="397.86" r="1.35" fill="#f6a858" stroke="#f2c090" stroke-width="0.5"/>
<circle cx="33.06" cy="400.96" r="1.35" fill="#f6a858" stroke="#f2c090" stroke-width="0.5"/>
<circle cx="38.62" cy="402.81" r="1.35" fill="#f6a858" stroke="#f2c090" stroke-width="0.5"/>
<circle cx="38.10" cy="405.76" r="1.35" fill="#f6a858" stroke="#f2c090" stroke-width="0.5"/>
<circle cx="44.16" cy="385.05" r="1.35" fill="#f6a858" stroke="#f2c090" stroke-width="0.5"/>
<circle cx="36.05" cy="397.24" r="1.35" fill="#f6a858" stroke="#f2c090" stroke-width="0.5"/>
<circle cx="36.70" cy="391.24" r="1.35" fill="#f6a858" stroke="#f2c090" stroke-width="0.5"/>
<circle cx="39.52" cy="399.48" r="1.35" fill="#f6a858" stroke="#f2c090" stroke-width="0.5"/>
<circle cx="36.75" cy="399.14" r="1.35" fill="#f6a858" stroke="#f2c090" stroke-width="0.5"/>
<circle cx="33.47" cy="395.32" r="1.35" fill="#f6a858" stroke="#f2c090" stroke-width="0.5"/>
<circle cx="34.68" cy="396.30" r="1.35" fill="#f6a858" stroke="#f2c090" stroke-width="0.5"/>
<circle cx="38.23" cy="392.40" r="1.35" fill="#f6a858" stroke="#f2c090" stroke-width="0.5"/>
<circle cx="37.62" cy="392.90" r="1.35" fill="#f6a858" stroke="#f2c090" stroke-width="0.5"/>
<circle cx="33.80" cy="395.78" r="1.35" fill="#f6a858" stroke="#f2c090" stroke-width="0.5"/>
<circle cx="36.74" cy="398.67" r="1.35" fill="#f6a858" stroke="#f2c090" stroke-width="0.5"/>
<circle cx="37.99" cy="393.51" r="1.35" fill="#f6a858" stroke="#f2c090" stroke-width="0.5"/>
<circle cx="29.26" cy="397.77" r="1.35" fill="#f6a858" stroke="#f2c090" stroke-width="0.5"/>
<circle cx="31.39" cy="391.63" r="1.35" fill="#f6a858" stroke="#f2c090" stroke-width="0.5"/>
<circle cx="29.37" cy="407.01" r="1.35" fill="#f6a858" stroke="#f2c090" stroke-width="0.5"/>
<circle cx="30.63" cy="388.62" r="1.35" fill="#f6a858" stroke="#f2c090" stroke-width="0.5"/>
<circle cx="32.25" cy="399.23" r="1.35" fill="#f6a858" stroke="#f2c090" stroke-width="0.5"/>
<circle cx="35.43" cy="412.54" r="1.35" fill="#f6a858" stroke="#f2c090" stroke-width="0.5"/>
<circle cx="36.27" cy="395.41" r="1.35" fill="#f6a858" stroke="#f2c090" stroke-width="0.5"/>
<circle cx="36.91" cy="393.47" r="1.35" fill="#f6a858" stroke="#f2c090" stroke-width="0.5"/>
<circle cx="36.16" cy="399.97" r="1.35" fill="#f6a858" stroke="#f2c090" stroke-width="0.5"/>
<circle cx="36.07" cy="397.63" r="1.35" fill="#f6a858" stroke="#f2c090" stroke-width="0.5"/>
<circle cx="45.69" cy="397.50" r="1.35" fill="#f6a858" stroke="#f2c090" stroke-width="0.5"/>
<circle cx="38.51" cy="404.33" r="1.35" fill="#f6a858" stroke="#f2c090" stroke-width="0.5"/>
<circle cx="34.50" cy="389.84" r="1.35" fill="#f6a858" stroke="#f2c090" stroke-width="0.5"/>
<circle cx="33.00" cy="406.38" r="1.35" fill="#f6a858" stroke="#f2c090" stroke-width="0.5"/>
<circle cx="37.28" cy="402.99" r="1.35" fill="#f6a858" stroke="#f2c090" stroke-width="0.5"/>
<circle cx="45.93" cy="413.31" r="1.35" fill="#f6a858" stroke="#f2c090" stroke-width="0.5"/>
<circle cx="39.21" cy="395.06" r="1.35" fill="#f6a858" stroke="#f2c090" stroke-width="0.5"/>
<circle cx="32.97" cy="404.51" r="1.35" fill="#f6a858" stroke="#f2c090" stroke-width="0.5"/>
<circle cx="39.51" cy="388.69" r="1.35" fill="#f6a858" stroke="#f2c090" stroke-width="0.5"/>
<circle cx="33.81" cy="411.01" r="1.35" fill="#f6a858" stroke="#f2c090" stroke-width="0.5"/>
<circle cx="41.79" cy="389.42" r="1.35" fill="#f6a858" stroke="#f2c090" stroke-width="0.5"/>
<circle cx="36.28" cy="413.31" r="1.35" fill="#f6a858" stroke="#f2c090" stroke-width="0.5"/>
<circle cx="43.81" cy="401.40" r="1.35" fill="#f6a858" stroke="#f2c090" stroke-width="0.5"/>
<circle cx="42.43" cy="400.33" r="1.35" fill="#f6a858" stroke="#f2c090" stroke-width="0.5"/>
<circle cx="36.10" cy="403.17" r="1.35" fill="#f6a858" stroke="#f2c090" stroke-width="0.5"/>
<circle cx="43.90" cy="390.04" r="1.35" fill="#f6a858" stroke="#f2c090" stroke-width="0.5"/>
<circle cx="29.26" cy="406.54" r="1.35" fill="#f6a858" stroke="#f2c090" stroke-width="0.5"/>
<circle cx="45.18" cy="402.58" r="1.35" fill="#f6a858" stroke="#f2c090" stroke-width="0.5"/>
<circle cx="31.95" cy="399.99" r="1.35" fill="#f6a858" stroke="#f2c090" stroke-width="0.5"/>
<circle cx="37.23" cy="400.70" r="1.35" fill="#f6a858" stroke="#f2c090" stroke-width="0.5"/>
<circle cx="35.67" cy="402.18" r="1.35" fill="#f6a858" stroke="#f2c090" stroke-width="0.5"/>
<circle cx="35.77" cy="397.70" r="1.35" fill="#f6a858" stroke="#f2c090" stroke-width="0.5"/>
<circle cx="34.26" cy="402.04" r="1.35" fill="#f6a858" stroke="#f2c090" stroke-width="0.5"/>
<circle cx="37.08" cy="390.94" r="1.35" fill="#f6a858" stroke="#f2c090" stroke-width="0.5"/>
<circle cx="39.26" cy="400.79" r="1.35" fill="#f6a858" stroke="#f2c090" stroke-width="0.5"/>
<circle cx="39.95" cy="397.20" r="1.35" fill="#f6a858" stroke="#f2c090" stroke-width="0.5"/>
<circle cx="42.27" cy="396.50" r="1.35" fill="#f6a858" stroke="#f2c090" stroke-width="0.5"/>
<circle cx="45.25" cy="390.67" r="1.35" fill="#f6a858" stroke="#f2c090" stroke-width="0.5"/>
<circle cx="37.52" cy="402.91" r="1.35" fill="#f6a858" stroke="#f2c090" stroke-width="0.5"/>
<circle cx="41.41" cy="396.43" r="1.35" fill="#f6a858" stroke="#f2c090" stroke-width="0.5"/>
<circle cx="37.29" cy="410.30" r="1.35" fill="#f6a858" stroke="#f2c090" stroke-width="0.5"/>
<circle cx="29.96" cy="397.60" r="1.35" fill="#f6a858" stroke="#f2c090" stroke-width="0.5"/>
<circle cx="40.94" cy="394.43" r="1.35" fill="#f6a858" stroke="#f2c090" stroke-width="0.5"/>
<circle cx="32.26" cy="392.81" r="1.35" fill="#f6a858" stroke="#f2c090" stroke-width="0.5"/>
<circle cx="35.44" cy="397.32" r="1.35" fill="#f6a858" stroke="#f2c090" stroke-width="0.5"/>
<circle cx="39.44" cy="405.61" r="1.35" fill="#f6a858" stroke="#f2c090" stroke-width="0.5"/>
<circle cx="35.20" cy="413.31" r="1.35" fill="#f6a858" stroke="#f2c090" stroke-width="0.5"/>
<circle cx="33.82" cy="412.56" r="1.35" fill="#f6a858" stroke="#f2c090" stroke-width="0.5"/>
<circle cx="39.53" cy="399.60" r="1.35" fill="#f6a858" stroke="#f2c090" stroke-width="0.5"/>
<circle cx="41.54" cy="397.54" r="1.35" fill="#f6a858" stroke="#f2c090" stroke-width="0.5"/>
<circle cx="35.01" cy="397.61" r="1.35" fill="#f6a858" stroke="#f2c090" stroke-width="0.5"/>
<circle cx="36.04" cy="395.78" r="1.35" fill="#f6a858" stroke="#f2c090" stroke-width="0.5"/>
<circle cx="39.02" cy="406.90" r="1.35" fill="#f6a858" stroke="#f2c090" stroke-width="0.5"/>
<circle cx="37.70" cy="399.64" r="1.35" fill="#f6a858" stroke="#f2c090" stroke-width="0.5"/>
<circle cx="36.39" cy="393.80" r="1.35" fill="#f6a858" stroke="#f2c090" stroke-width="0.5"/>
<circle cx="44.91" cy="402.58" r="1.35" fill="#f6a858" stroke="#f2c090" stroke-width="0.5"/>
<circle cx="36.21" cy="413.31" r="1.35" fill="#f6a858" stroke="#f2c090" stroke-width="0.5"/>
<circle cx="35.92" cy="378.74" r="1.35" fill="#f6a858" stroke="#f2c090" stroke-width="0.5"/>
<circle cx="33.38" cy="369.02" r="1.35" fill="#f6a858" stroke="#f2c090" stroke-width="0.5"/>
<circle cx="39.31" cy="381.59" r="1.35" fill="#f6a858" stroke="#f2c090" stroke-width="0.5"/>
<circle cx="35.24" cy="376.48" r="1.35" fill="#f6a858" stroke="#f2c090" stroke-width="0.5"/>
<circle cx="37.20" cy="369.94" r="1.35" fill="#f6a858" stroke="#f2c090" stroke-width="0.5"/>
<circle cx="36.09" cy="364.32" r="1.35" fill="#f6a858" stroke="#f2c090" stroke-width="0.5"/>
<circle cx="35.92" cy="376.42" r="1.35" fill="#f6a858" stroke="#f2c090" stroke-width="0.5"/>
<circle cx="39.09" cy="364.84" r="1.35" fill="#f6a858" stroke="#f2c090" stroke-width="0.5"/>
<circle cx="40.03" cy="379.30" r="1.35" fill="#f6a858" stroke="#f2c090" stroke-width="0.5"/>
<circle cx="34.29" cy="373.00" r="1.35" fill="#f6a858" stroke="#f2c090" stroke-width="0.5"/>
<circle cx="40.79" cy="369.60" r="1.35" fill="#f6a858" stroke="#f2c090" stroke-width="0.5"/>
<circle cx="37.88" cy="375.92" r="1.35" fill="#f6a858" stroke="#f2c090" stroke-width="0.5"/>
<circle cx="33.64" cy="350.56" r="1.35" fill="#f6a858" stroke="#f2c090" stroke-width="0.5"/>
<circle cx="35.44" cy="356.38" r="1.35" fill="#f6a858" stroke="#f2c090" stroke-width="0.5"/>
<circle cx="37.13" cy="362.07" r="1.35" fill="#f6a858" stroke="#f2c090" stroke-width="0.5"/>
<circle cx="37.69" cy="364.60" r="1.35" fill="#f6a858" stroke="#f2c090" stroke-width="0.5"/>
<circle cx="34.88" cy="367.76" r="1.35" fill="#f6a858" stroke="#f2c090" stroke-width="0.5"/>
<circle cx="36.56" cy="371.56" r="1.35" fill="#f6a858" stroke="#f2c090" stroke-width="0.5"/>
<circle cx="30.94" cy="414.57" r="1.35" fill="#f6a858" stroke="#f2c090" stroke-width="0.5"/>
<circle cx="63.39" cy="401.40" r="1.3" fill="#f2f8ee" stroke="#5aaa40" stroke-width="0.7"/>
<circle cx="50.22" cy="402.11" r="1.3" fill="#f2f8ee" stroke="#5aaa40" stroke-width="0.7"/>
<circle cx="56.36" cy="393.81" r="1.3" fill="#f2f8ee" stroke="#5aaa40" stroke-width="0.7"/>
<circle cx="58.24" cy="401.13" r="1.3" fill="#f2f8ee" stroke="#5aaa40" stroke-width="0.7"/>
<circle cx="60.44" cy="400.83" r="1.3" fill="#f2f8ee" stroke="#5aaa40" stroke-width="0.7"/>
<circle cx="60.50" cy="399.97" r="1.3" fill="#f2f8ee" stroke="#5aaa40" stroke-width="0.7"/>
<circle cx="53.54" cy="395.15" r="1.3" fill="#f2f8ee" stroke="#5aaa40" stroke-width="0.7"/>
<circle cx="51.66" cy="397.81" r="1.3" fill="#f2f8ee" stroke="#5aaa40" stroke-width="0.7"/>
<circle cx="63.21" cy="401.60" r="1.3" fill="#f2f8ee" stroke="#5aaa40" stroke-width="0.7"/>
<circle cx="56.25" cy="396.78" r="1.3" fill="#f2f8ee" stroke="#5aaa40" stroke-width="0.7"/>
<circle cx="51.84" cy="396.30" r="1.3" fill="#f2f8ee" stroke="#5aaa40" stroke-width="0.7"/>
<circle cx="49.50" cy="398.00" r="1.3" fill="#f2f8ee" stroke="#5aaa40" stroke-width="0.7"/>
<circle cx="60.33" cy="400.46" r="1.3" fill="#f2f8ee" stroke="#5aaa40" stroke-width="0.7"/>
<circle cx="61.07" cy="400.88" r="1.3" fill="#f2f8ee" stroke="#5aaa40" stroke-width="0.7"/>
<circle cx="56.53" cy="399.94" r="1.3" fill="#f2f8ee" stroke="#5aaa40" stroke-width="0.7"/>
<circle cx="53.50" cy="395.34" r="1.3" fill="#f2f8ee" stroke="#5aaa40" stroke-width="0.7"/>
<circle cx="57.99" cy="398.74" r="1.3" fill="#f2f8ee" stroke="#5aaa40" stroke-width="0.7"/>
<circle cx="63.22" cy="401.66" r="1.3" fill="#f2f8ee" stroke="#5aaa40" stroke-width="0.7"/>
<circle cx="56.67" cy="396.31" r="1.3" fill="#f2f8ee" stroke="#5aaa40" stroke-width="0.7"/>
<circle cx="60.07" cy="398.21" r="1.3" fill="#f2f8ee" stroke="#5aaa40" stroke-width="0.7"/>
<circle cx="61.62" cy="400.10" r="1.3" fill="#f2f8ee" stroke="#5aaa40" stroke-width="0.7"/>
<circle cx="59.58" cy="400.56" r="1.3" fill="#f2f8ee" stroke="#5aaa40" stroke-width="0.7"/>
<circle cx="55.17" cy="392.90" r="1.3" fill="#f2f8ee" stroke="#5aaa40" stroke-width="0.7"/>
<circle cx="50.15" cy="400.95" r="1.3" fill="#f2f8ee" stroke="#5aaa40" stroke-width="0.7"/>
<circle cx="58.59" cy="397.04" r="1.3" fill="#f2f8ee" stroke="#5aaa40" stroke-width="0.7"/>
<circle cx="60.79" cy="400.61" r="1.3" fill="#f2f8ee" stroke="#5aaa40" stroke-width="0.7"/>
<circle cx="62.93" cy="401.58" r="1.3" fill="#f2f8ee" stroke="#5aaa40" stroke-width="0.7"/>
<circle cx="49.72" cy="389.21" r="1.3" fill="#f2f8ee" stroke="#5aaa40" stroke-width="0.7"/>
<circle cx="49.09" cy="391.76" r="1.3" fill="#f2f8ee" stroke="#5aaa40" stroke-width="0.7"/>
<circle cx="57.61" cy="394.92" r="1.3" fill="#f2f8ee" stroke="#5aaa40" stroke-width="0.7"/>
<circle cx="60.72" cy="398.44" r="1.3" fill="#f2f8ee" stroke="#5aaa40" stroke-width="0.7"/>
<circle cx="48.49" cy="400.57" r="1.3" fill="#f2f8ee" stroke="#5aaa40" stroke-width="0.7"/>
<circle cx="57.25" cy="398.42" r="1.3" fill="#f2f8ee" stroke="#5aaa40" stroke-width="0.7"/>
<circle cx="51.58" cy="391.85" r="1.3" fill="#f2f8ee" stroke="#5aaa40" stroke-width="0.7"/>
<circle cx="63.53" cy="402.40" r="1.3" fill="#f2f8ee" stroke="#5aaa40" stroke-width="0.7"/>
<circle cx="53.13" cy="395.84" r="1.3" fill="#f2f8ee" stroke="#5aaa40" stroke-width="0.7"/>
<circle cx="48.58" cy="385.69" r="1.3" fill="#f2f8ee" stroke="#5aaa40" stroke-width="0.7"/>
<circle cx="60.00" cy="401.26" r="1.3" fill="#f2f8ee" stroke="#5aaa40" stroke-width="0.7"/>
<circle cx="52.14" cy="400.99" r="1.3" fill="#f2f8ee" stroke="#5aaa40" stroke-width="0.7"/>
<circle cx="54.07" cy="399.25" r="1.3" fill="#f2f8ee" stroke="#5aaa40" stroke-width="0.7"/>
<circle cx="49.37" cy="396.98" r="1.3" fill="#f2f8ee" stroke="#5aaa40" stroke-width="0.7"/>
<circle cx="52.63" cy="398.87" r="1.3" fill="#f2f8ee" stroke="#5aaa40" stroke-width="0.7"/>
<circle cx="49.41" cy="395.58" r="1.3" fill="#f2f8ee" stroke="#5aaa40" stroke-width="0.7"/>
<circle cx="51.44" cy="390.81" r="1.3" fill="#f2f8ee" stroke="#5aaa40" stroke-width="0.7"/>
<circle cx="56.67" cy="398.01" r="1.3" fill="#f2f8ee" stroke="#5aaa40" stroke-width="0.7"/>
<circle cx="52.11" cy="394.65" r="1.3" fill="#f2f8ee" stroke="#5aaa40" stroke-width="0.7"/>
<circle cx="58.12" cy="401.75" r="1.3" fill="#f2f8ee" stroke="#5aaa40" stroke-width="0.7"/>
<circle cx="61.93" cy="402.33" r="1.3" fill="#f2f8ee" stroke="#5aaa40" stroke-width="0.7"/>
<circle cx="63.81" cy="407.51" r="1.3" fill="#eef2fa" stroke="#4a66c0" stroke-width="0.7"/>
<circle cx="63.75" cy="407.60" r="1.3" fill="#eef2fa" stroke="#4a66c0" stroke-width="0.7"/>
<circle cx="58.38" cy="405.12" r="1.3" fill="#eef2fa" stroke="#4a66c0" stroke-width="0.7"/>
<circle cx="48.81" cy="409.60" r="1.3" fill="#eef2fa" stroke="#4a66c0" stroke-width="0.7"/>
<circle cx="54.94" cy="409.18" r="1.3" fill="#eef2fa" stroke="#4a66c0" stroke-width="0.7"/>
<circle cx="52.40" cy="408.66" r="1.3" fill="#eef2fa" stroke="#4a66c0" stroke-width="0.7"/>
<circle cx="52.69" cy="406.68" r="1.3" fill="#eef2fa" stroke="#4a66c0" stroke-width="0.7"/>
<circle cx="52.67" cy="407.60" r="1.3" fill="#eef2fa" stroke="#4a66c0" stroke-width="0.7"/>
<circle cx="55.71" cy="404.96" r="1.3" fill="#eef2fa" stroke="#4a66c0" stroke-width="0.7"/>
<circle cx="47.97" cy="402.57" r="1.3" fill="#eef2fa" stroke="#4a66c0" stroke-width="0.7"/>
<circle cx="54.75" cy="403.14" r="1.3" fill="#eef2fa" stroke="#4a66c0" stroke-width="0.7"/>
<circle cx="47.37" cy="409.71" r="1.3" fill="#eef2fa" stroke="#4a66c0" stroke-width="0.7"/>
<circle cx="48.97" cy="403.21" r="1.3" fill="#eef2fa" stroke="#4a66c0" stroke-width="0.7"/>
<circle cx="54.42" cy="403.72" r="1.3" fill="#eef2fa" stroke="#4a66c0" stroke-width="0.7"/>
<circle cx="59.34" cy="409.48" r="1.3" fill="#eef2fa" stroke="#4a66c0" stroke-width="0.7"/>
<circle cx="53.54" cy="407.63" r="1.3" fill="#eef2fa" stroke="#4a66c0" stroke-width="0.7"/>
<circle cx="55.14" cy="404.42" r="1.3" fill="#eef2fa" stroke="#4a66c0" stroke-width="0.7"/>
<circle cx="48.70" cy="403.11" r="1.3" fill="#eef2fa" stroke="#4a66c0" stroke-width="0.7"/>
<circle cx="55.55" cy="407.37" r="1.3" fill="#eef2fa" stroke="#4a66c0" stroke-width="0.7"/>
<circle cx="59.40" cy="408.04" r="1.3" fill="#eef2fa" stroke="#4a66c0" stroke-width="0.7"/>
<circle cx="59.65" cy="406.99" r="1.3" fill="#eef2fa" stroke="#4a66c0" stroke-width="0.7"/>
<circle cx="55.57" cy="408.71" r="1.3" fill="#eef2fa" stroke="#4a66c0" stroke-width="0.7"/>
<circle cx="50.78" cy="403.60" r="1.3" fill="#eef2fa" stroke="#4a66c0" stroke-width="0.7"/>
<circle cx="57.28" cy="406.94" r="1.3" fill="#eef2fa" stroke="#4a66c0" stroke-width="0.7"/>
<circle cx="60.74" cy="403.22" r="1.3" fill="#eef2fa" stroke="#4a66c0" stroke-width="0.7"/>
<circle cx="50.01" cy="402.57" r="1.3" fill="#eef2fa" stroke="#4a66c0" stroke-width="0.7"/>
<circle cx="47.49" cy="405.48" r="1.3" fill="#eef2fa" stroke="#4a66c0" stroke-width="0.7"/>
<circle cx="51.84" cy="408.23" r="1.3" fill="#eef2fa" stroke="#4a66c0" stroke-width="0.7"/>
<circle cx="55.86" cy="405.56" r="1.3" fill="#eef2fa" stroke="#4a66c0" stroke-width="0.7"/>
<circle cx="54.85" cy="404.72" r="1.3" fill="#eef2fa" stroke="#4a66c0" stroke-width="0.7"/>
<circle cx="63.80" cy="408.86" r="1.3" fill="#eef2fa" stroke="#4a66c0" stroke-width="0.7"/>
<circle cx="51.38" cy="405.52" r="1.3" fill="#eef2fa" stroke="#4a66c0" stroke-width="0.7"/>
<circle cx="54.39" cy="407.75" r="1.3" fill="#eef2fa" stroke="#4a66c0" stroke-width="0.7"/>
<circle cx="56.03" cy="404.85" r="1.3" fill="#eef2fa" stroke="#4a66c0" stroke-width="0.7"/>
<circle cx="63.07" cy="403.00" r="1.3" fill="#eef2fa" stroke="#4a66c0" stroke-width="0.7"/>
<circle cx="61.52" cy="407.51" r="1.3" fill="#eef2fa" stroke="#4a66c0" stroke-width="0.7"/>
<circle cx="62.64" cy="404.75" r="1.3" fill="#eef2fa" stroke="#4a66c0" stroke-width="0.7"/>
<circle cx="50.28" cy="402.91" r="1.3" fill="#eef2fa" stroke="#4a66c0" stroke-width="0.7"/>
<circle cx="51.55" cy="404.97" r="1.3" fill="#eef2fa" stroke="#4a66c0" stroke-width="0.7"/>
<circle cx="59.34" cy="403.25" r="1.3" fill="#eef2fa" stroke="#4a66c0" stroke-width="0.7"/>
<circle cx="58.85" cy="402.68" r="1.3" fill="#eef2fa" stroke="#4a66c0" stroke-width="0.7"/>
<circle cx="48.28" cy="409.86" r="1.3" fill="#eef2fa" stroke="#4a66c0" stroke-width="0.7"/>
<circle cx="50.65" cy="405.78" r="1.3" fill="#eef2fa" stroke="#4a66c0" stroke-width="0.7"/>
<circle cx="54.63" cy="409.52" r="1.3" fill="#eef2fa" stroke="#4a66c0" stroke-width="0.7"/>
<circle cx="50.76" cy="405.75" r="1.3" fill="#eef2fa" stroke="#4a66c0" stroke-width="0.7"/>
<circle cx="54.25" cy="404.35" r="1.3" fill="#eef2fa" stroke="#4a66c0" stroke-width="0.7"/>
<circle cx="55.38" cy="403.48" r="1.3" fill="#eef2fa" stroke="#4a66c0" stroke-width="0.7"/>
<circle cx="60.46" cy="406.39" r="1.3" fill="#eef2fa" stroke="#4a66c0" stroke-width="0.7"/>
<circle cx="61.12" cy="388.00" r="1.45" fill="#b8bab8" stroke="#8a8e90" stroke-width="0.5"/>
<circle cx="58.37" cy="394.71" r="1.45" fill="#b8bab8" stroke="#8a8e90" stroke-width="0.5"/>
<circle cx="72.08" cy="401.16" r="1.45" fill="#b8bab8" stroke="#8a8e90" stroke-width="0.5"/>
<circle cx="69.38" cy="406.73" r="1.45" fill="#b8bab8" stroke="#8a8e90" stroke-width="0.5"/>
<circle cx="68.99" cy="410.40" r="1.45" fill="#b8bab8" stroke="#8a8e90" stroke-width="0.5"/>
<circle cx="60.17" cy="413.18" r="1.45" fill="#b8bab8" stroke="#8a8e90" stroke-width="0.5"/>
<circle cx="85.80" cy="394.71" r="1.45" fill="#b8bab8" stroke="#8a8e90" stroke-width="0.5"/>
<circle cx="106.81" cy="400.28" r="1.45" fill="#b8bab8" stroke="#8a8e90" stroke-width="0.5"/>
<rect x="24.20" y="341.20" width="84.30" height="75.90" fill="none" stroke="#a0a0a8" stroke-width="0.9"/>
<text transform="translate(20.50,419.31) scale(1,1.06)" font-size="5.8" text-anchor="end" fill="#333" font-weight="normal" stroke="#333" stroke-width="0.22">0</text>
<text transform="translate(20.50,406.66) scale(1,1.06)" font-size="5.8" text-anchor="end" fill="#333" font-weight="normal" stroke="#333" stroke-width="0.22">1</text>
<text transform="translate(20.50,394.01) scale(1,1.06)" font-size="5.8" text-anchor="end" fill="#333" font-weight="normal" stroke="#333" stroke-width="0.22">2</text>
<text transform="translate(20.50,381.36) scale(1,1.06)" font-size="5.8" text-anchor="end" fill="#333" font-weight="normal" stroke="#333" stroke-width="0.22">3</text>
<text transform="translate(20.50,368.71) scale(1,1.06)" font-size="5.8" text-anchor="end" fill="#333" font-weight="normal" stroke="#333" stroke-width="0.22">4</text>
<text transform="translate(20.50,356.06) scale(1,1.06)" font-size="5.8" text-anchor="end" fill="#333" font-weight="normal" stroke="#333" stroke-width="0.22">5</text>
<text transform="translate(20.50,343.41) scale(1,1.06)" font-size="5.8" text-anchor="end" fill="#333" font-weight="normal" stroke="#333" stroke-width="0.22">6</text>
<text transform="translate(24.20,425.71) scale(1,1.06)" font-size="5.8" text-anchor="middle" fill="#333" font-weight="normal" stroke="#333" stroke-width="0.22">0</text>
<text transform="translate(52.30,425.71) scale(1,1.06)" font-size="5.8" text-anchor="middle" fill="#333" font-weight="normal" stroke="#333" stroke-width="0.22">5</text>
<text transform="translate(80.40,425.71) scale(1,1.06)" font-size="5.8" text-anchor="middle" fill="#333" font-weight="normal" stroke="#333" stroke-width="0.22">10</text>
<text transform="translate(108.50,425.71) scale(1,1.06)" font-size="5.8" text-anchor="middle" fill="#333" font-weight="normal" stroke="#333" stroke-width="0.22">15</text>
<g transform="translate(11.25,378.00) rotate(-90)"><text transform="translate(0.00,2.65) scale(1,1.06)" font-size="7" text-anchor="middle" fill="#1a1a1a" font-weight="bold" textLength="71.00" lengthAdjust="spacingAndGlyphs" stroke="#1a1a1a" stroke-width="0.22"><tspan font-style="italic">SRF</tspan> Expression level</text></g>
<text transform="translate(66.30,433.15) scale(1,1.06)" font-size="7.2" text-anchor="middle" fill="#1a1a1a" font-weight="bold" textLength="84.50" lengthAdjust="spacingAndGlyphs" stroke="#1a1a1a" stroke-width="0.22"><tspan>TMSB4X</tspan> Expression level</text>
<text transform="translate(0.80,455.50) scale(1,1.06)" font-size="12.2" font-weight="bold" fill="#000" stroke="#000" stroke-width="0.22">F</text>
<text transform="translate(21.20,464.38) scale(1,1.08)" font-size="6.2" font-weight="bold" fill="#1a1a1a" textLength="61.00" lengthAdjust="spacingAndGlyphs" stroke="#1a1a1a" stroke-width="0.22"><tspan fill="#d9403a" stroke="#d9403a" stroke-width="0.22">TMSB4X High</tspan> (<tspan font-style="italic">n</tspan> = 48)</text>
<text transform="translate(21.20,470.28) scale(1,1.08)" font-size="6.2" font-weight="bold" fill="#1a1a1a" textLength="89.20" lengthAdjust="spacingAndGlyphs" stroke="#1a1a1a" stroke-width="0.22"><tspan fill="#5fae45" stroke="#5fae45" stroke-width="0.22">TMSB4X High/SRF High</tspan> (<tspan font-style="italic">n</tspan> = 23)</text>
<text transform="translate(21.20,476.18) scale(1,1.08)" font-size="6.2" font-weight="bold" fill="#1a1a1a" textLength="87.80" lengthAdjust="spacingAndGlyphs" stroke="#1a1a1a" stroke-width="0.22"><tspan fill="#3b4f9e" stroke="#3b4f9e" stroke-width="0.22">TMSB4X High/SRF Low</tspan> (<tspan font-style="italic">n</tspan> = 25)</text>
<text transform="translate(21.20,482.08) scale(1,1.08)" font-size="6.2" font-weight="bold" fill="#1a1a1a" textLength="91.00" lengthAdjust="spacingAndGlyphs" stroke="#1a1a1a" stroke-width="0.22"><tspan fill="#f0c040" stroke="#f0c040" stroke-width="0.22">TMSB4X Moderate-Low</tspan> (<tspan font-style="italic">n</tspan> = 103)</text>
<circle cx="9.50" cy="462.00" r="1.7" fill="none" stroke="#5fae45" stroke-width="0.8"/>
<text transform="translate(13.50,464.13) scale(1,1.06)" font-size="6" font-weight="bold" text-anchor="middle" fill="#333" stroke="#333" stroke-width="0.22">+</text>
<circle cx="17.50" cy="462.00" r="1.7" fill="none" stroke="#3b4f9e" stroke-width="0.8"/>
<circle cx="13.50" cy="467.90" r="1.7" fill="none" stroke="#5fae45" stroke-width="0.8"/>
<circle cx="13.50" cy="473.80" r="1.7" fill="none" stroke="#3b4f9e" stroke-width="0.8"/>
<circle cx="13.50" cy="479.70" r="1.7" fill="#f2a634" stroke="#e9b070" stroke-width="0.5"/>
<circle cx="49.43" cy="542.01" r="1.35" fill="#f6a858" stroke="#f2c090" stroke-width="0.5"/>
<circle cx="46.41" cy="546.74" r="1.35" fill="#f6a858" stroke="#f2c090" stroke-width="0.5"/>
<circle cx="50.10" cy="541.16" r="1.35" fill="#f6a858" stroke="#f2c090" stroke-width="0.5"/>
<circle cx="48.50" cy="545.85" r="1.35" fill="#f6a858" stroke="#f2c090" stroke-width="0.5"/>
<circle cx="40.39" cy="537.09" r="1.35" fill="#f6a858" stroke="#f2c090" stroke-width="0.5"/>
<circle cx="38.08" cy="545.61" r="1.35" fill="#f6a858" stroke="#f2c090" stroke-width="0.5"/>
<circle cx="40.14" cy="557.54" r="1.35" fill="#f6a858" stroke="#f2c090" stroke-width="0.5"/>
<circle cx="45.12" cy="537.17" r="1.35" fill="#f6a858" stroke="#f2c090" stroke-width="0.5"/>
<circle cx="36.16" cy="544.40" r="1.35" fill="#f6a858" stroke="#f2c090" stroke-width="0.5"/>
<circle cx="38.14" cy="551.77" r="1.35" fill="#f6a858" stroke="#f2c090" stroke-width="0.5"/>
<circle cx="43.21" cy="545.34" r="1.35" fill="#f6a858" stroke="#f2c090" stroke-width="0.5"/>
<circle cx="55.81" cy="537.41" r="1.35" fill="#f6a858" stroke="#f2c090" stroke-width="0.5"/>
<circle cx="47.84" cy="531.49" r="1.35" fill="#f6a858" stroke="#f2c090" stroke-width="0.5"/>
<circle cx="30.65" cy="559.83" r="1.35" fill="#f6a858" stroke="#f2c090" stroke-width="0.5"/>
<circle cx="46.72" cy="541.02" r="1.35" fill="#f6a858" stroke="#f2c090" stroke-width="0.5"/>
<circle cx="45.59" cy="532.64" r="1.35" fill="#f6a858" stroke="#f2c090" stroke-width="0.5"/>
<circle cx="40.81" cy="549.71" r="1.35" fill="#f6a858" stroke="#f2c090" stroke-width="0.5"/>
<circle cx="26.31" cy="555.76" r="1.35" fill="#f6a858" stroke="#f2c090" stroke-width="0.5"/>
<circle cx="37.30" cy="544.89" r="1.35" fill="#f6a858" stroke="#f2c090" stroke-width="0.5"/>
<circle cx="44.63" cy="548.14" r="1.35" fill="#f6a858" stroke="#f2c090" stroke-width="0.5"/>
<circle cx="54.07" cy="525.34" r="1.35" fill="#f6a858" stroke="#f2c090" stroke-width="0.5"/>
<circle cx="48.53" cy="543.47" r="1.35" fill="#f6a858" stroke="#f2c090" stroke-width="0.5"/>
<circle cx="40.59" cy="546.91" r="1.35" fill="#f6a858" stroke="#f2c090" stroke-width="0.5"/>
<circle cx="40.55" cy="550.30" r="1.35" fill="#f6a858" stroke="#f2c090" stroke-width="0.5"/>
<circle cx="45.92" cy="537.63" r="1.35" fill="#f6a858" stroke="#f2c090" stroke-width="0.5"/>
<circle cx="45.48" cy="542.28" r="1.35" fill="#f6a858" stroke="#f2c090" stroke-width="0.5"/>
<circle cx="51.33" cy="533.00" r="1.35" fill="#f6a858" stroke="#f2c090" stroke-width="0.5"/>
<circle cx="26.31" cy="559.83" r="1.35" fill="#f6a858" stroke="#f2c090" stroke-width="0.5"/>
<circle cx="42.81" cy="536.15" r="1.35" fill="#f6a858" stroke="#f2c090" stroke-width="0.5"/>
<circle cx="41.27" cy="544.59" r="1.35" fill="#f6a858" stroke="#f2c090" stroke-width="0.5"/>
<circle cx="38.98" cy="541.33" r="1.35" fill="#f6a858" stroke="#f2c090" stroke-width="0.5"/>
<circle cx="40.34" cy="547.47" r="1.35" fill="#f6a858" stroke="#f2c090" stroke-width="0.5"/>
<circle cx="38.48" cy="542.42" r="1.35" fill="#f6a858" stroke="#f2c090" stroke-width="0.5"/>
<circle cx="39.80" cy="554.18" r="1.35" fill="#f6a858" stroke="#f2c090" stroke-width="0.5"/>
<circle cx="47.10" cy="541.95" r="1.35" fill="#f6a858" stroke="#f2c090" stroke-width="0.5"/>
<circle cx="45.42" cy="537.23" r="1.35" fill="#f6a858" stroke="#f2c090" stroke-width="0.5"/>
<circle cx="50.78" cy="528.53" r="1.35" fill="#f6a858" stroke="#f2c090" stroke-width="0.5"/>
<circle cx="39.53" cy="545.66" r="1.35" fill="#f6a858" stroke="#f2c090" stroke-width="0.5"/>
<circle cx="35.01" cy="539.03" r="1.35" fill="#f6a858" stroke="#f2c090" stroke-width="0.5"/>
<circle cx="45.96" cy="530.83" r="1.35" fill="#f6a858" stroke="#f2c090" stroke-width="0.5"/>
<circle cx="41.15" cy="555.12" r="1.35" fill="#f6a858" stroke="#f2c090" stroke-width="0.5"/>
<circle cx="52.85" cy="532.18" r="1.35" fill="#f6a858" stroke="#f2c090" stroke-width="0.5"/>
<circle cx="44.01" cy="540.35" r="1.35" fill="#f6a858" stroke="#f2c090" stroke-width="0.5"/>
<circle cx="47.24" cy="534.67" r="1.35" fill="#f6a858" stroke="#f2c090" stroke-width="0.5"/>
<circle cx="33.11" cy="544.16" r="1.35" fill="#f6a858" stroke="#f2c090" stroke-width="0.5"/>
<circle cx="39.82" cy="547.14" r="1.35" fill="#f6a858" stroke="#f2c090" stroke-width="0.5"/>
<circle cx="54.09" cy="526.27" r="1.35" fill="#f6a858" stroke="#f2c090" stroke-width="0.5"/>
<circle cx="41.03" cy="554.12" r="1.35" fill="#f6a858" stroke="#f2c090" stroke-width="0.5"/>
<circle cx="44.19" cy="537.38" r="1.35" fill="#f6a858" stroke="#f2c090" stroke-width="0.5"/>
<circle cx="42.66" cy="549.11" r="1.35" fill="#f6a858" stroke="#f2c090" stroke-width="0.5"/>
<circle cx="38.17" cy="553.20" r="1.35" fill="#f6a858" stroke="#f2c090" stroke-width="0.5"/>
<circle cx="44.53" cy="535.45" r="1.35" fill="#f6a858" stroke="#f2c090" stroke-width="0.5"/>
<circle cx="49.65" cy="539.84" r="1.35" fill="#f6a858" stroke="#f2c090" stroke-width="0.5"/>
<circle cx="44.65" cy="536.88" r="1.35" fill="#f6a858" stroke="#f2c090" stroke-width="0.5"/>
<circle cx="39.94" cy="545.19" r="1.35" fill="#f6a858" stroke="#f2c090" stroke-width="0.5"/>
<circle cx="55.81" cy="528.16" r="1.35" fill="#f6a858" stroke="#f2c090" stroke-width="0.5"/>
<circle cx="48.75" cy="538.93" r="1.35" fill="#f6a858" stroke="#f2c090" stroke-width="0.5"/>
<circle cx="43.43" cy="551.13" r="1.35" fill="#f6a858" stroke="#f2c090" stroke-width="0.5"/>
<circle cx="43.01" cy="534.65" r="1.35" fill="#f6a858" stroke="#f2c090" stroke-width="0.5"/>
<circle cx="55.81" cy="523.02" r="1.35" fill="#f6a858" stroke="#f2c090" stroke-width="0.5"/>
<circle cx="47.51" cy="537.21" r="1.35" fill="#f6a858" stroke="#f2c090" stroke-width="0.5"/>
<circle cx="39.37" cy="545.77" r="1.35" fill="#f6a858" stroke="#f2c090" stroke-width="0.5"/>
<circle cx="47.04" cy="542.50" r="1.35" fill="#f6a858" stroke="#f2c090" stroke-width="0.5"/>
<circle cx="49.07" cy="541.83" r="1.35" fill="#f6a858" stroke="#f2c090" stroke-width="0.5"/>
<circle cx="31.92" cy="557.41" r="1.35" fill="#f6a858" stroke="#f2c090" stroke-width="0.5"/>
<circle cx="32.64" cy="558.85" r="1.35" fill="#f6a858" stroke="#f2c090" stroke-width="0.5"/>
<circle cx="50.33" cy="536.15" r="1.35" fill="#f6a858" stroke="#f2c090" stroke-width="0.5"/>
<circle cx="44.55" cy="533.47" r="1.35" fill="#f6a858" stroke="#f2c090" stroke-width="0.5"/>
<circle cx="51.13" cy="537.19" r="1.35" fill="#f6a858" stroke="#f2c090" stroke-width="0.5"/>
<circle cx="51.57" cy="531.64" r="1.35" fill="#f6a858" stroke="#f2c090" stroke-width="0.5"/>
<circle cx="43.19" cy="538.84" r="1.35" fill="#f6a858" stroke="#f2c090" stroke-width="0.5"/>
<circle cx="34.15" cy="554.09" r="1.35" fill="#f6a858" stroke="#f2c090" stroke-width="0.5"/>
<circle cx="42.48" cy="538.50" r="1.35" fill="#f6a858" stroke="#f2c090" stroke-width="0.5"/>
<circle cx="40.82" cy="544.28" r="1.35" fill="#f6a858" stroke="#f2c090" stroke-width="0.5"/>
<circle cx="49.30" cy="527.73" r="1.35" fill="#f6a858" stroke="#f2c090" stroke-width="0.5"/>
<circle cx="48.02" cy="529.71" r="1.35" fill="#f6a858" stroke="#f2c090" stroke-width="0.5"/>
<circle cx="40.61" cy="545.50" r="1.35" fill="#f6a858" stroke="#f2c090" stroke-width="0.5"/>
<circle cx="45.18" cy="541.36" r="1.35" fill="#f6a858" stroke="#f2c090" stroke-width="0.5"/>
<circle cx="39.96" cy="534.73" r="1.35" fill="#f6a858" stroke="#f2c090" stroke-width="0.5"/>
<circle cx="41.90" cy="548.17" r="1.35" fill="#f6a858" stroke="#f2c090" stroke-width="0.5"/>
<circle cx="46.25" cy="528.01" r="1.35" fill="#f6a858" stroke="#f2c090" stroke-width="0.5"/>
<circle cx="43.68" cy="533.82" r="1.35" fill="#f6a858" stroke="#f2c090" stroke-width="0.5"/>
<circle cx="40.40" cy="546.76" r="1.35" fill="#f6a858" stroke="#f2c090" stroke-width="0.5"/>
<circle cx="38.81" cy="546.18" r="1.35" fill="#f6a858" stroke="#f2c090" stroke-width="0.5"/>
<circle cx="54.78" cy="537.69" r="1.35" fill="#f6a858" stroke="#f2c090" stroke-width="0.5"/>
<circle cx="53.52" cy="537.97" r="1.35" fill="#f6a858" stroke="#f2c090" stroke-width="0.5"/>
<circle cx="41.69" cy="537.91" r="1.35" fill="#f6a858" stroke="#f2c090" stroke-width="0.5"/>
<circle cx="47.15" cy="536.21" r="1.35" fill="#f6a858" stroke="#f2c090" stroke-width="0.5"/>
<circle cx="32.74" cy="548.70" r="1.35" fill="#f6a858" stroke="#f2c090" stroke-width="0.5"/>
<circle cx="36.70" cy="532.34" r="1.35" fill="#f6a858" stroke="#f2c090" stroke-width="0.5"/>
<circle cx="41.82" cy="541.54" r="1.35" fill="#f6a858" stroke="#f2c090" stroke-width="0.5"/>
<circle cx="35.92" cy="550.72" r="1.35" fill="#f6a858" stroke="#f2c090" stroke-width="0.5"/>
<circle cx="35.00" cy="543.07" r="1.35" fill="#f6a858" stroke="#f2c090" stroke-width="0.5"/>
<circle cx="41.51" cy="539.65" r="1.35" fill="#f6a858" stroke="#f2c090" stroke-width="0.5"/>
<circle cx="38.84" cy="548.22" r="1.35" fill="#f6a858" stroke="#f2c090" stroke-width="0.5"/>
<circle cx="44.22" cy="512.19" r="1.35" fill="#f6a858" stroke="#f2c090" stroke-width="0.5"/>
<circle cx="50.54" cy="511.11" r="1.35" fill="#f6a858" stroke="#f2c090" stroke-width="0.5"/>
<circle cx="29.47" cy="524.10" r="1.35" fill="#f6a858" stroke="#f2c090" stroke-width="0.5"/>
<circle cx="36.84" cy="526.27" r="1.35" fill="#f6a858" stroke="#f2c090" stroke-width="0.5"/>
<circle cx="45.27" cy="556.59" r="1.35" fill="#f6a858" stroke="#f2c090" stroke-width="0.5"/>
<circle cx="26.31" cy="558.75" r="1.35" fill="#f6a858" stroke="#f2c090" stroke-width="0.5"/>
<circle cx="27.36" cy="556.59" r="1.35" fill="#f6a858" stroke="#f2c090" stroke-width="0.5"/>
<circle cx="51.60" cy="513.27" r="1.35" fill="#f6a858" stroke="#f2c090" stroke-width="0.5"/>
<circle cx="51.60" cy="497.03" r="1.45" fill="#a8c8a0" stroke="#7fa878" stroke-width="0.5"/>
<circle cx="53.70" cy="513.27" r="1.45" fill="#a8c8a0" stroke="#7fa878" stroke-width="0.5"/>
<circle cx="56.87" cy="517.60" r="1.45" fill="#a8c8a0" stroke="#7fa878" stroke-width="0.5"/>
<circle cx="51.60" cy="526.27" r="1.3" fill="#f2f8ee" stroke="#5aaa40" stroke-width="0.7"/>
<circle cx="54.76" cy="529.51" r="1.3" fill="#f2f8ee" stroke="#5aaa40" stroke-width="0.7"/>
<circle cx="57.92" cy="528.43" r="1.3" fill="#f2f8ee" stroke="#5aaa40" stroke-width="0.7"/>
<circle cx="58.97" cy="530.60" r="1.3" fill="#f2f8ee" stroke="#5aaa40" stroke-width="0.7"/>
<circle cx="56.87" cy="533.85" r="1.3" fill="#f2f8ee" stroke="#5aaa40" stroke-width="0.7"/>
<circle cx="53.70" cy="536.01" r="1.3" fill="#f2f8ee" stroke="#5aaa40" stroke-width="0.7"/>
<circle cx="55.81" cy="538.18" r="1.3" fill="#f2f8ee" stroke="#5aaa40" stroke-width="0.7"/>
<circle cx="61.08" cy="531.68" r="1.3" fill="#f2f8ee" stroke="#5aaa40" stroke-width="0.7"/>
<circle cx="57.92" cy="541.43" r="1.3" fill="#f2f8ee" stroke="#5aaa40" stroke-width="0.7"/>
<circle cx="60.03" cy="539.26" r="1.3" fill="#f2f8ee" stroke="#5aaa40" stroke-width="0.7"/>
<circle cx="71.62" cy="526.27" r="1.45" fill="#a8c8a0" stroke="#7fa878" stroke-width="0.5"/>
<circle cx="66.35" cy="543.59" r="1.45" fill="#a8c8a0" stroke="#7fa878" stroke-width="0.5"/>
<circle cx="72.67" cy="543.05" r="1.45" fill="#a8c8a0" stroke="#7fa878" stroke-width="0.5"/>
<circle cx="74.78" cy="541.97" r="1.45" fill="#a8c8a0" stroke="#7fa878" stroke-width="0.5"/>
<circle cx="52.65" cy="541.43" r="1.3" fill="#f2f8ee" stroke="#5aaa40" stroke-width="0.7"/>
<circle cx="55.81" cy="542.51" r="1.3" fill="#f2f8ee" stroke="#5aaa40" stroke-width="0.7"/>
<circle cx="62.14" cy="541.43" r="1.3" fill="#f2f8ee" stroke="#5aaa40" stroke-width="0.7"/>
<circle cx="54.76" cy="530.60" r="1.3" fill="#f2f8ee" stroke="#5aaa40" stroke-width="0.7"/>
<circle cx="49.49" cy="537.09" r="1.3" fill="#f2f8ee" stroke="#5aaa40" stroke-width="0.7"/>
<circle cx="70.56" cy="541.43" r="1.3" fill="#f2f8ee" stroke="#5aaa40" stroke-width="0.7"/>
<circle cx="51.60" cy="543.59" r="1.3" fill="#eef2fa" stroke="#4a66c0" stroke-width="0.7"/>
<circle cx="53.70" cy="544.67" r="1.3" fill="#eef2fa" stroke="#4a66c0" stroke-width="0.7"/>
<circle cx="55.81" cy="545.76" r="1.3" fill="#eef2fa" stroke="#4a66c0" stroke-width="0.7"/>
<circle cx="57.92" cy="545.22" r="1.3" fill="#eef2fa" stroke="#4a66c0" stroke-width="0.7"/>
<circle cx="60.03" cy="544.13" r="1.3" fill="#eef2fa" stroke="#4a66c0" stroke-width="0.7"/>
<circle cx="61.08" cy="547.92" r="1.3" fill="#eef2fa" stroke="#4a66c0" stroke-width="0.7"/>
<circle cx="62.14" cy="550.63" r="1.3" fill="#eef2fa" stroke="#4a66c0" stroke-width="0.7"/>
<circle cx="64.24" cy="553.34" r="1.3" fill="#eef2fa" stroke="#4a66c0" stroke-width="0.7"/>
<circle cx="66.35" cy="548.46" r="1.3" fill="#eef2fa" stroke="#4a66c0" stroke-width="0.7"/>
<circle cx="68.46" cy="552.25" r="1.3" fill="#eef2fa" stroke="#4a66c0" stroke-width="0.7"/>
<circle cx="68.46" cy="556.59" r="1.3" fill="#eef2fa" stroke="#4a66c0" stroke-width="0.7"/>
<circle cx="69.51" cy="550.63" r="1.3" fill="#eef2fa" stroke="#4a66c0" stroke-width="0.7"/>
<circle cx="64.24" cy="554.42" r="1.3" fill="#eef2fa" stroke="#4a66c0" stroke-width="0.7"/>
<circle cx="67.40" cy="553.88" r="1.3" fill="#eef2fa" stroke="#4a66c0" stroke-width="0.7"/>
<circle cx="72.67" cy="558.21" r="1.3" fill="#eef2fa" stroke="#4a66c0" stroke-width="0.7"/>
<circle cx="76.89" cy="549.01" r="1.3" fill="#eef2fa" stroke="#4a66c0" stroke-width="0.7"/>
<circle cx="76.89" cy="556.59" r="1.45" fill="#b0b8d0" stroke="#7c88b0" stroke-width="0.5"/>
<circle cx="82.16" cy="559.29" r="1.45" fill="#b0b8d0" stroke="#7c88b0" stroke-width="0.5"/>
<circle cx="89.53" cy="551.17" r="1.45" fill="#b0b8d0" stroke="#7c88b0" stroke-width="0.5"/>
<circle cx="90.59" cy="545.76" r="1.45" fill="#b0b8d0" stroke="#7c88b0" stroke-width="0.5"/>
<circle cx="100.07" cy="555.50" r="1.3" fill="#eef2fa" stroke="#4a66c0" stroke-width="0.7"/>
<circle cx="100.07" cy="557.13" r="1.3" fill="#eef2fa" stroke="#4a66c0" stroke-width="0.7"/>
<circle cx="54.76" cy="546.84" r="1.3" fill="#eef2fa" stroke="#4a66c0" stroke-width="0.7"/>
<circle cx="73.73" cy="544.67" r="1.3" fill="#eef2fa" stroke="#4a66c0" stroke-width="0.7"/>
<circle cx="75.83" cy="555.50" r="1.3" fill="#eef2fa" stroke="#4a66c0" stroke-width="0.7"/>
<rect x="24.20" y="486.20" width="84.30" height="75.80" fill="none" stroke="#a0a0a8" stroke-width="0.9"/>
<text transform="translate(20.50,564.21) scale(1,1.06)" font-size="5.8" text-anchor="end" fill="#333" font-weight="normal" stroke="#333" stroke-width="0.22">0</text>
<text transform="translate(20.50,553.38) scale(1,1.06)" font-size="5.8" text-anchor="end" fill="#333" font-weight="normal" stroke="#333" stroke-width="0.22">1</text>
<text transform="translate(20.50,542.55) scale(1,1.06)" font-size="5.8" text-anchor="end" fill="#333" font-weight="normal" stroke="#333" stroke-width="0.22">2</text>
<text transform="translate(20.50,531.72) scale(1,1.06)" font-size="5.8" text-anchor="end" fill="#333" font-weight="normal" stroke="#333" stroke-width="0.22">3</text>
<text transform="translate(20.50,520.89) scale(1,1.06)" font-size="5.8" text-anchor="end" fill="#333" font-weight="normal" stroke="#333" stroke-width="0.22">4</text>
<text transform="translate(20.50,510.07) scale(1,1.06)" font-size="5.8" text-anchor="end" fill="#333" font-weight="normal" stroke="#333" stroke-width="0.22">5</text>
<text transform="translate(20.50,499.24) scale(1,1.06)" font-size="5.8" text-anchor="end" fill="#333" font-weight="normal" stroke="#333" stroke-width="0.22">6</text>
<text transform="translate(20.50,488.41) scale(1,1.06)" font-size="5.8" text-anchor="end" fill="#333" font-weight="normal" stroke="#333" stroke-width="0.22">7</text>
<text transform="translate(24.20,571.01) scale(1,1.06)" font-size="5.8" text-anchor="middle" fill="#333" font-weight="normal" stroke="#333" stroke-width="0.22">0</text>
<text transform="translate(45.27,571.01) scale(1,1.06)" font-size="5.8" text-anchor="middle" fill="#333" font-weight="normal" stroke="#333" stroke-width="0.22">1</text>
<text transform="translate(66.35,571.01) scale(1,1.06)" font-size="5.8" text-anchor="middle" fill="#333" font-weight="normal" stroke="#333" stroke-width="0.22">2</text>
<text transform="translate(87.42,571.01) scale(1,1.06)" font-size="5.8" text-anchor="middle" fill="#333" font-weight="normal" stroke="#333" stroke-width="0.22">3</text>
<text transform="translate(108.50,571.01) scale(1,1.06)" font-size="5.8" text-anchor="middle" fill="#333" font-weight="normal" stroke="#333" stroke-width="0.22">4</text>
<g transform="translate(10.40,524.00) rotate(-90)"><text transform="translate(0.00,2.65) scale(1,1.06)" font-size="7" text-anchor="middle" fill="#1a1a1a" font-weight="bold" textLength="72.00" lengthAdjust="spacingAndGlyphs" stroke="#1a1a1a" stroke-width="0.22"><tspan font-style="italic">SRF</tspan> Expression level</text></g>
<text transform="translate(66.70,577.75) scale(1,1.06)" font-size="7.2" text-anchor="middle" fill="#1a1a1a" font-weight="bold" textLength="82.60" lengthAdjust="spacingAndGlyphs" stroke="#1a1a1a" stroke-width="0.22"><tspan font-style="italic">TMSB4X</tspan> Expression level</text>
<text transform="translate(120.50,312.70) scale(1,1.06)" font-size="12.2" font-weight="bold" fill="#000" stroke="#000" stroke-width="0.22">C</text>
<path d="M148.30,342.30 H150.76 V343.75 H153.21 V345.21 H155.67 V346.66 H158.13 V348.11 H160.58 V349.57 H163.04 V351.02 H165.50 V352.47 H167.95 V353.93 H170.53 V355.09 H173.11 V356.26 H175.69 V357.43 H178.27 V358.59 H180.85 V359.76 H183.42 V360.93 H186.00 V362.09 H188.58 V363.26 H191.16 V364.43 H194.02 V365.89 H196.87 V367.35 H199.72 V368.81 H202.58 V370.28 H204.92 V371.29 H207.26 V372.30 H209.60 V373.31 H211.94 V374.33 H214.28 V375.34 H216.62 V376.35 H218.96 V377.36 H221.30 V378.38 H224.17 V378.68 H227.05 V378.98 H229.93 V379.28 H232.81 V379.57 V384.90 H251.80" fill="none" stroke="#f4c878" stroke-width="0.68"/>
<path d="M148.30,342.30 H150.87 V344.62 H153.45 V346.95 H156.02 V349.27 H158.59 V351.60 H160.93 V353.40 H163.27 V355.20 H165.61 V357.00 H167.95 V358.80 H170.85 V359.93 H173.75 V361.05 H176.66 V362.18 H179.56 V363.30 H182.29 V363.99 H185.02 V364.68 H187.75 V365.37 H190.49 V366.06 H193.22 V366.75 H196.96 V370.28 H200.71 V374.93 H207.26 H209.60 V375.79 H211.94 V376.65 H214.28 V377.51 H216.62 V378.38 V387.75 H220.08 V403.05" fill="none" stroke="#8cc2ea" stroke-width="0.68"/>
<path d="M148.30,342.30 H150.87 V344.93 H153.45 V347.55 H156.02 V350.18 H158.59 V352.80 H160.93 V354.66 H163.27 V356.52 H165.61 V358.38 H167.95 V360.24 H170.29 V362.10 H173.19 V363.26 H176.09 V364.43 H179.00 V365.59 H181.90 V366.75 H184.44 V367.45 H186.99 V368.16 H189.53 V368.87 H192.08 V369.57 H194.62 V370.28 H198.09 V374.93 H201.14 V376.48 H204.20 V378.03 H207.26 V379.57 H216.62 V384.23 H220.08 V392.40 H228.22 V403.05 H229.72" fill="none" stroke="#e58580" stroke-width="0.68"/>
<path d="M148.30,342.30 H150.64 V345.21 H152.98 V348.11 H155.32 V351.02 H157.66 V353.93 H160.72 V357.05 H163.77 V360.18 H166.83 V363.30 H169.43 V364.74 H172.02 V366.19 H174.62 V367.63 H177.22 V369.07 H180.12 V370.54 H183.02 V372.00 H185.92 V373.46 H188.82 V374.93 H191.72 V376.65 H194.62 V378.38 H197.67 V379.46 H200.71 V380.55 H203.98 V381.79 H207.26 V383.03 V388.88 H228.22 V403.05 H231.59" fill="none" stroke="#8cc08c" stroke-width="0.68"/>
<rect x="148.30" y="342.30" width="112.30" height="75.00" fill="none" stroke="#555" stroke-width="0.9"/>
<text transform="translate(145.50,344.40) scale(1,1.06)" font-size="5.5" text-anchor="end" fill="#333" font-weight="bold" stroke="#333" stroke-width="0.22">1.0</text>
<text transform="translate(145.50,359.40) scale(1,1.06)" font-size="5.5" text-anchor="end" fill="#333" font-weight="bold" stroke="#333" stroke-width="0.22">0.8</text>
<text transform="translate(145.50,374.40) scale(1,1.06)" font-size="5.5" text-anchor="end" fill="#333" font-weight="bold" stroke="#333" stroke-width="0.22">0.6</text>
<text transform="translate(145.50,389.40) scale(1,1.06)" font-size="5.5" text-anchor="end" fill="#333" font-weight="bold" stroke="#333" stroke-width="0.22">0.4</text>
<text transform="translate(145.50,404.40) scale(1,1.06)" font-size="5.5" text-anchor="end" fill="#333" font-weight="bold" stroke="#333" stroke-width="0.22">0.2</text>
<text transform="translate(145.50,419.40) scale(1,1.06)" font-size="5.5" text-anchor="end" fill="#333" font-weight="bold" stroke="#333" stroke-width="0.22">0</text>
<text transform="translate(148.30,425.10) scale(1,1.06)" font-size="5.5" text-anchor="middle" fill="#333" font-weight="bold" stroke="#333" stroke-width="0.22">0</text>
<text transform="translate(185.73,425.10) scale(1,1.06)" font-size="5.5" text-anchor="middle" fill="#333" font-weight="bold" stroke="#333" stroke-width="0.22">40</text>
<text transform="translate(223.17,425.10) scale(1,1.06)" font-size="5.5" text-anchor="middle" fill="#333" font-weight="bold" stroke="#333" stroke-width="0.22">80</text>
<text transform="translate(260.60,425.10) scale(1,1.06)" font-size="5.5" text-anchor="middle" fill="#333" font-weight="bold" stroke="#333" stroke-width="0.22">120</text>
<text transform="translate(204.00,434.07) scale(1,1.06)" font-size="7" text-anchor="middle" fill="#1a1a1a" font-weight="bold" textLength="46.00" lengthAdjust="spacingAndGlyphs" stroke="#1a1a1a" stroke-width="0.22">Time (months)</text>
<g transform="translate(132.00,380.00) rotate(-90)"><text transform="translate(0.00,2.67) scale(1,1.06)" font-size="7" text-anchor="middle" fill="#1a1a1a" font-weight="bold" textLength="62.00" lengthAdjust="spacingAndGlyphs" stroke="#1a1a1a" stroke-width="0.22">Survival proportion</text></g>
<text transform="translate(128.75,319.71) scale(1,1.05)" font-size="5.9" font-weight="bold" fill="#1a1a1a" textLength="78.30" lengthAdjust="spacingAndGlyphs" stroke="#1a1a1a" stroke-width="0.22"><tspan fill="#d9403a" stroke="#d9403a" stroke-width="0.22">TMSB4X High</tspan>, MST = 62.819</text>
<text transform="translate(128.75,325.56) scale(1,1.05)" font-size="5.9" font-weight="bold" fill="#1a1a1a" textLength="106.30" lengthAdjust="spacingAndGlyphs" stroke="#1a1a1a" stroke-width="0.22"><tspan fill="#5fae45" stroke="#5fae45" stroke-width="0.22">TMSB4X High/SRF High</tspan>, MST = 49.710</text>
<text transform="translate(128.75,331.41) scale(1,1.05)" font-size="5.9" font-weight="bold" fill="#1a1a1a" textLength="106.30" lengthAdjust="spacingAndGlyphs" stroke="#1a1a1a" stroke-width="0.22"><tspan fill="#3b4f9e" stroke="#3b4f9e" stroke-width="0.22">TMSB4X High/SRF Low</tspan>, MST = 73.168</text>
<text transform="translate(128.75,337.26) scale(1,1.05)" font-size="5.9" font-weight="bold" fill="#1a1a1a" textLength="106.30" lengthAdjust="spacingAndGlyphs" stroke="#1a1a1a" stroke-width="0.22"><tspan fill="#f0c040" stroke="#f0c040" stroke-width="0.22">TMSB4X Moderate-Low</tspan>, MST = 90.384</text>
<line x1="234.5" y1="314.6" x2="234.5" y2="337.3" stroke="#333" stroke-width="0.75"/>
<line x1="237.5" y1="320.8" x2="237.5" y2="337.3" stroke="#333" stroke-width="0.75"/>
<line x1="239.5" y1="326.3" x2="239.5" y2="337.3" stroke="#333" stroke-width="0.75"/>
<text transform="translate(239.70,318.71) scale(1,1.05)" font-size="6" font-weight="normal" fill="#1a1a1a" textLength="29.30" lengthAdjust="spacingAndGlyphs" stroke="#1a1a1a" stroke-width="0.22"><tspan font-style="italic">P</tspan> = 0.0166</text>
<text transform="translate(241.80,326.01) scale(1,1.05)" font-size="6" font-weight="normal" fill="#1a1a1a" textLength="29.00" lengthAdjust="spacingAndGlyphs" stroke="#1a1a1a" stroke-width="0.22"><tspan font-style="italic">P</tspan> = 0.0127</text>
<text transform="translate(243.80,334.21) scale(1,1.05)" font-size="6" font-weight="normal" fill="#1a1a1a" textLength="28.50" lengthAdjust="spacingAndGlyphs" stroke="#1a1a1a" stroke-width="0.22"><tspan font-style="italic">P</tspan> = 0.2157</text>
<text transform="translate(278.00,312.00) scale(1,1.06)" font-size="12.2" font-weight="bold" fill="#000" stroke="#000" stroke-width="0.22">D</text>
<path d="M303.80,342.50 H310.58 V345.48 H315.17 V347.83 H319.77 V350.17 H324.41 V354.01 H329.05 V357.85 H335.18 V360.12 H341.30 V362.39 H345.95 V364.70 H350.59 V367.01 H357.64 V370.06 H366.93 H369.06 V373.19 H378.25 H385.96 V374.68 V387.87 H404.43" fill="none" stroke="#ec8468" stroke-width="0.75"/>
<path d="M303.80,342.50 H309.12 V345.06 H314.44 V347.62 H319.77 V350.17 H325.94 V354.01 H332.11 V357.85 H336.71 V360.90 H341.30 V363.96 H347.48 V367.79 H353.65 V371.63 H358.25 V373.94 H362.84 V376.25 H367.48 V378.52 H372.13 V380.79 H376.72 V382.80 H381.32 V384.82 H387.49 V386.34 H393.66 V387.87 H404.43" fill="none" stroke="#74b4e4" stroke-width="0.75"/>
<rect x="303.80" y="342.50" width="111.40" height="74.50" fill="none" stroke="#555" stroke-width="0.9"/>
<text transform="translate(300.00,344.60) scale(1,1.06)" font-size="5.5" text-anchor="end" fill="#333" font-weight="bold" stroke="#333" stroke-width="0.22">1.0</text>
<text transform="translate(300.00,359.50) scale(1,1.06)" font-size="5.5" text-anchor="end" fill="#333" font-weight="bold" stroke="#333" stroke-width="0.22">0.8</text>
<text transform="translate(300.00,374.40) scale(1,1.06)" font-size="5.5" text-anchor="end" fill="#333" font-weight="bold" stroke="#333" stroke-width="0.22">0.6</text>
<text transform="translate(300.00,389.30) scale(1,1.06)" font-size="5.5" text-anchor="end" fill="#333" font-weight="bold" stroke="#333" stroke-width="0.22">0.4</text>
<text transform="translate(300.00,404.20) scale(1,1.06)" font-size="5.5" text-anchor="end" fill="#333" font-weight="bold" stroke="#333" stroke-width="0.22">0.2</text>
<text transform="translate(300.00,419.10) scale(1,1.06)" font-size="5.5" text-anchor="end" fill="#333" font-weight="bold" stroke="#333" stroke-width="0.22">0</text>
<text transform="translate(303.80,425.10) scale(1,1.06)" font-size="5.5" text-anchor="middle" fill="#333" font-weight="bold" stroke="#333" stroke-width="0.22">0</text>
<text transform="translate(340.93,425.10) scale(1,1.06)" font-size="5.5" text-anchor="middle" fill="#333" font-weight="bold" stroke="#333" stroke-width="0.22">40</text>
<text transform="translate(378.07,425.10) scale(1,1.06)" font-size="5.5" text-anchor="middle" fill="#333" font-weight="bold" stroke="#333" stroke-width="0.22">80</text>
<text transform="translate(415.20,425.10) scale(1,1.06)" font-size="5.5" text-anchor="middle" fill="#333" font-weight="bold" stroke="#333" stroke-width="0.22">120</text>
<text transform="translate(359.50,434.17) scale(1,1.06)" font-size="7" text-anchor="middle" fill="#1a1a1a" font-weight="bold" textLength="46.00" lengthAdjust="spacingAndGlyphs" stroke="#1a1a1a" stroke-width="0.22">Time (months)</text>
<g transform="translate(284.20,379.50) rotate(-90)"><text transform="translate(0.00,2.67) scale(1,1.06)" font-size="7" text-anchor="middle" fill="#1a1a1a" font-weight="bold" textLength="62.00" lengthAdjust="spacingAndGlyphs" stroke="#1a1a1a" stroke-width="0.22">Survival proportion</text></g>
<text transform="translate(280.80,331.30) scale(1,1.0)" font-size="5.9" font-weight="bold" fill="#1a1a1a" textLength="90.70" lengthAdjust="spacingAndGlyphs" stroke="#1a1a1a" stroke-width="0.22"><tspan fill="#d9403a" stroke="#d9403a" stroke-width="0.22">SRF High</tspan> (<tspan font-style="italic">n</tspan> = 100), MST = 90.384</text>
<text transform="translate(280.80,337.10) scale(1,1.0)" font-size="5.9" font-weight="bold" fill="#1a1a1a" textLength="117.20" lengthAdjust="spacingAndGlyphs" stroke="#1a1a1a" stroke-width="0.22"><tspan fill="#3b4f9e" stroke="#3b4f9e" stroke-width="0.22">SRF Moderate-Low</tspan> (<tspan font-style="italic">n</tspan> = 315), MST = 74.121</text>
<line x1="400.3" y1="326" x2="400.3" y2="338" stroke="#333" stroke-width="0.6"/>
<text transform="translate(402.30,334.00) scale(1,1.05)" font-size="5.6" font-weight="bold" fill="#1a1a1a" textLength="30.00" lengthAdjust="spacingAndGlyphs" stroke="#1a1a1a" stroke-width="0.22"><tspan font-style="italic">P</tspan> = 0.4697</text>
<text transform="translate(120.30,455.00) scale(1,1.06)" font-size="12.2" font-weight="bold" fill="#000" stroke="#000" stroke-width="0.22">G</text>
<path d="M150.90,486.20 H153.85 V490.72 H156.79 V495.24 H159.03 V498.47 H161.26 V501.71 H163.77 V502.82 H166.27 V503.92 H168.78 V505.02 H171.52 V508.41 H174.26 V511.80 H176.50 V517.83 H178.73 V523.85 H180.86 V527.73 H183.00 V531.61 H185.74 V534.92 H188.48 V538.23 H190.65 V539.71 H192.82 V541.19 H194.98 V542.67 H197.56 V544.18 H200.13 V545.69 H202.70 V547.19 H204.87 V547.90 H207.04 V548.60 H209.20 V549.30 H211.40 V549.53 H213.59 V549.75 H215.79 V549.98 H217.98 V550.21 H220.17 V550.43 V553.97 H222.00" fill="none" stroke="#f4c878" stroke-width="0.68"/>
<path d="M150.90,486.20 H153.34 V489.59 H155.78 V492.98 H157.81 V501.71 H160.04 V506.15 H162.28 V508.38 H164.51 V510.60 H166.54 V517.22 H167.76 V528.37 V531.61 H175.28 H176.50 V542.67 H179.24 V543.24 H181.98 V543.80 H183.00 V549.30 H231.14" fill="none" stroke="#8cc08c" stroke-width="0.68"/>
<path d="M150.90,486.20 H153.85 V491.73 H156.79 V497.27 H160.04 V506.15 H162.28 V507.85 H164.51 V509.54 H170.00 H171.01 V520.54 H176.50 H178.73 V524.98 H180.86 V527.20 H183.00 V529.42 H186.25 V542.67 H199.45 H200.47 V548.25 H203.04 V549.70 H205.61 V551.16 H208.19 V552.61 H209.20 V555.93 H258.37" fill="none" stroke="#8cc2ea" stroke-width="0.68"/>
<path d="M150.90,486.20 H153.85 V491.73 H156.79 V497.27 H159.03 V502.80 H161.26 V508.34 H163.39 V513.87 H165.53 V519.41 H168.27 V521.06 H171.01 V522.72 H173.14 V525.54 H175.28 V528.37 H178.02 V531.08 H180.76 V533.79 H184.01 V537.10 H186.25 V542.67 V547.19 H200.47 V548.25 H203.04 V549.70 H205.61 V551.16 H208.19 V552.61 H209.20 V555.93 H246.38 V561.50" fill="none" stroke="#e58580" stroke-width="0.68"/>
<rect x="150.90" y="486.20" width="109.70" height="75.30" fill="none" stroke="#555" stroke-width="0.9"/>
<text transform="translate(147.50,488.30) scale(1,1.06)" font-size="5.5" text-anchor="end" fill="#333" font-weight="bold" stroke="#333" stroke-width="0.22">1.0</text>
<text transform="translate(147.50,503.36) scale(1,1.06)" font-size="5.5" text-anchor="end" fill="#333" font-weight="bold" stroke="#333" stroke-width="0.22">0.8</text>
<text transform="translate(147.50,518.42) scale(1,1.06)" font-size="5.5" text-anchor="end" fill="#333" font-weight="bold" stroke="#333" stroke-width="0.22">0.6</text>
<text transform="translate(147.50,533.48) scale(1,1.06)" font-size="5.5" text-anchor="end" fill="#333" font-weight="bold" stroke="#333" stroke-width="0.22">0.4</text>
<text transform="translate(147.50,548.54) scale(1,1.06)" font-size="5.5" text-anchor="end" fill="#333" font-weight="bold" stroke="#333" stroke-width="0.22">0.2</text>
<text transform="translate(147.50,563.60) scale(1,1.06)" font-size="5.5" text-anchor="end" fill="#333" font-weight="bold" stroke="#333" stroke-width="0.22">0</text>
<text transform="translate(150.90,568.90) scale(1,1.06)" font-size="5.5" text-anchor="middle" fill="#333" font-weight="bold" stroke="#333" stroke-width="0.22">0</text>
<text transform="translate(171.21,568.90) scale(1,1.06)" font-size="5.5" text-anchor="middle" fill="#333" font-weight="bold" stroke="#333" stroke-width="0.22">10</text>
<text transform="translate(191.53,568.90) scale(1,1.06)" font-size="5.5" text-anchor="middle" fill="#333" font-weight="bold" stroke="#333" stroke-width="0.22">20</text>
<text transform="translate(211.84,568.90) scale(1,1.06)" font-size="5.5" text-anchor="middle" fill="#333" font-weight="bold" stroke="#333" stroke-width="0.22">30</text>
<text transform="translate(232.16,568.90) scale(1,1.06)" font-size="5.5" text-anchor="middle" fill="#333" font-weight="bold" stroke="#333" stroke-width="0.22">40</text>
<text transform="translate(252.47,568.90) scale(1,1.06)" font-size="5.5" text-anchor="middle" fill="#333" font-weight="bold" stroke="#333" stroke-width="0.22">50</text>
<text transform="translate(203.80,578.07) scale(1,1.06)" font-size="7" text-anchor="middle" fill="#1a1a1a" font-weight="bold" textLength="46.00" lengthAdjust="spacingAndGlyphs" stroke="#1a1a1a" stroke-width="0.22">Time (months)</text>
<g transform="translate(133.00,524.00) rotate(-90)"><text transform="translate(0.00,2.67) scale(1,1.06)" font-size="7" text-anchor="middle" fill="#1a1a1a" font-weight="bold" textLength="62.00" lengthAdjust="spacingAndGlyphs" stroke="#1a1a1a" stroke-width="0.22">Survival proportion</text></g>
<text transform="translate(129.00,463.71) scale(1,1.05)" font-size="5.9" font-weight="bold" fill="#1a1a1a" textLength="72.70" lengthAdjust="spacingAndGlyphs" stroke="#1a1a1a" stroke-width="0.22"><tspan fill="#d9403a" stroke="#d9403a" stroke-width="0.22">TMSB4X High</tspan>, MST = 10.3</text>
<text transform="translate(129.00,469.41) scale(1,1.05)" font-size="5.9" font-weight="bold" fill="#1a1a1a" textLength="98.00" lengthAdjust="spacingAndGlyphs" stroke="#1a1a1a" stroke-width="0.22"><tspan fill="#5fae45" stroke="#5fae45" stroke-width="0.22">TMSB4X High/SRF High</tspan>, MST = 7.6</text>
<text transform="translate(129.00,475.11) scale(1,1.05)" font-size="5.9" font-weight="bold" fill="#1a1a1a" textLength="98.00" lengthAdjust="spacingAndGlyphs" stroke="#1a1a1a" stroke-width="0.22"><tspan fill="#3b4f9e" stroke="#3b4f9e" stroke-width="0.22">TMSB4X High/SRF Low</tspan>, MST = 13.3</text>
<text transform="translate(129.00,480.81) scale(1,1.05)" font-size="5.9" font-weight="bold" fill="#1a1a1a" textLength="98.00" lengthAdjust="spacingAndGlyphs" stroke="#1a1a1a" stroke-width="0.22"><tspan fill="#f0c040" stroke="#f0c040" stroke-width="0.22">TMSB4X moderate-Low</tspan>, MST = 14.0</text>
<line x1="230.5" y1="458.5" x2="230.5" y2="482" stroke="#333" stroke-width="0.75"/>
<line x1="232.5" y1="465" x2="232.5" y2="482" stroke="#333" stroke-width="0.75"/>
<line x1="234.5" y1="471" x2="234.5" y2="482" stroke="#333" stroke-width="0.75"/>
<text transform="translate(232.50,463.70) scale(1,1.05)" font-size="5.6" font-weight="bold" fill="#1a1a1a" textLength="27.50" lengthAdjust="spacingAndGlyphs" stroke="#1a1a1a" stroke-width="0.22"><tspan font-style="italic">P</tspan> = 0.0369</text>
<text transform="translate(235.00,470.70) scale(1,1.05)" font-size="5.6" font-weight="bold" fill="#1a1a1a" textLength="27.50" lengthAdjust="spacingAndGlyphs" stroke="#1a1a1a" stroke-width="0.22"><tspan font-style="italic">P</tspan> = 0.0142</text>
<text transform="translate(237.00,477.20) scale(1,1.05)" font-size="5.6" font-weight="bold" fill="#1a1a1a" textLength="28.00" lengthAdjust="spacingAndGlyphs" stroke="#1a1a1a" stroke-width="0.22"><tspan font-style="italic">P</tspan> = 0.7637</text>
<text transform="translate(272.00,455.00) scale(1,1.06)" font-size="12.2" font-weight="bold" fill="#000" stroke="#000" stroke-width="0.22">H</text>
<path d="M302.50,486.20 H305.58 V489.21 H308.66 V493.73 H311.74 V498.25 H314.27 V502.01 H316.80 V505.78 H319.34 V509.54 H321.70 V513.31 H324.06 V517.07 H326.32 V522.34 H328.57 V527.62 H330.94 V531.38 H333.30 V535.14 H336.38 V539.66 H339.35 V540.60 H342.33 V541.55 H351.57 H351.77 V546.44 H354.31 V547.07 H356.84 V547.70 H359.37 V548.32 H361.42 V548.64 H363.48 V548.95 H365.53 V549.26 H367.58 V549.58 H369.64 V549.89 H371.69 V550.21 H372.31 V553.97 H399.20 V558.49" fill="none" stroke="#e58580" stroke-width="0.75"/>
<path d="M302.50,486.20 H305.58 V490.72 H308.66 V496.74 H311.74 V502.77 H314.27 V505.78 H316.80 V508.79 H319.34 V511.80 H321.70 V514.06 H324.06 V516.32 H326.32 V521.21 H328.57 V526.11 H330.94 V531.38 H333.30 V536.65 H336.38 V539.66 H339.35 V540.60 H342.33 V541.55 H344.64 V542.02 H346.95 V542.49 H349.26 V542.96 H351.57 V543.43 H354.17 V545.06 H356.77 V546.69 H359.37 V548.32 H361.42 V548.64 H363.48 V548.95 H365.53 V549.26 H367.58 V549.58 H369.64 V549.89 H371.69 V550.21 H372.31 V553.97 H399.20 V559.99 H414.39" fill="none" stroke="#6a8fc0" stroke-width="0.75"/>
<rect x="302.50" y="486.20" width="112.10" height="75.30" fill="none" stroke="#555" stroke-width="0.9"/>
<text transform="translate(299.00,488.30) scale(1,1.06)" font-size="5.5" text-anchor="end" fill="#333" font-weight="bold" stroke="#333" stroke-width="0.22">1.0</text>
<text transform="translate(299.00,503.36) scale(1,1.06)" font-size="5.5" text-anchor="end" fill="#333" font-weight="bold" stroke="#333" stroke-width="0.22">0.8</text>
<text transform="translate(299.00,518.42) scale(1,1.06)" font-size="5.5" text-anchor="end" fill="#333" font-weight="bold" stroke="#333" stroke-width="0.22">0.6</text>
<text transform="translate(299.00,533.48) scale(1,1.06)" font-size="5.5" text-anchor="end" fill="#333" font-weight="bold" stroke="#333" stroke-width="0.22">0.4</text>
<text transform="translate(299.00,548.54) scale(1,1.06)" font-size="5.5" text-anchor="end" fill="#333" font-weight="bold" stroke="#333" stroke-width="0.22">0.2</text>
<text transform="translate(299.00,563.60) scale(1,1.06)" font-size="5.5" text-anchor="end" fill="#333" font-weight="bold" stroke="#333" stroke-width="0.22">0</text>
<text transform="translate(302.50,568.90) scale(1,1.06)" font-size="5.5" text-anchor="middle" fill="#333" font-weight="bold" stroke="#333" stroke-width="0.22">0</text>
<text transform="translate(323.03,568.90) scale(1,1.06)" font-size="5.5" text-anchor="middle" fill="#333" font-weight="bold" stroke="#333" stroke-width="0.22">10</text>
<text transform="translate(343.56,568.90) scale(1,1.06)" font-size="5.5" text-anchor="middle" fill="#333" font-weight="bold" stroke="#333" stroke-width="0.22">20</text>
<text transform="translate(364.09,568.90) scale(1,1.06)" font-size="5.5" text-anchor="middle" fill="#333" font-weight="bold" stroke="#333" stroke-width="0.22">30</text>
<text transform="translate(384.62,568.90) scale(1,1.06)" font-size="5.5" text-anchor="middle" fill="#333" font-weight="bold" stroke="#333" stroke-width="0.22">40</text>
<text transform="translate(405.16,568.90) scale(1,1.06)" font-size="5.5" text-anchor="middle" fill="#333" font-weight="bold" stroke="#333" stroke-width="0.22">50</text>
<text transform="translate(353.70,576.47) scale(1,1.06)" font-size="7" text-anchor="middle" fill="#1a1a1a" font-weight="bold" textLength="46.00" lengthAdjust="spacingAndGlyphs" stroke="#1a1a1a" stroke-width="0.22">Time (months)</text>
<g transform="translate(286.20,522.60) rotate(-90)"><text transform="translate(0.00,2.67) scale(1,1.06)" font-size="7" text-anchor="middle" fill="#1a1a1a" font-weight="bold" textLength="62.00" lengthAdjust="spacingAndGlyphs" stroke="#1a1a1a" stroke-width="0.22">Survival proportion</text></g>
<text transform="translate(280.80,473.80) scale(1,1.0)" font-size="5.9" font-weight="bold" fill="#1a1a1a" textLength="82.00" lengthAdjust="spacingAndGlyphs" stroke="#1a1a1a" stroke-width="0.22"><tspan fill="#d9403a" stroke="#d9403a" stroke-width="0.22">SRF High</tspan> (<tspan font-style="italic">n</tspan> = 48), MST = 13.7</text>
<text transform="translate(280.80,480.60) scale(1,1.0)" font-size="5.9" font-weight="bold" fill="#1a1a1a" textLength="111.70" lengthAdjust="spacingAndGlyphs" stroke="#1a1a1a" stroke-width="0.22"><tspan fill="#3b4f9e" stroke="#3b4f9e" stroke-width="0.22">SRF Moderate-Low</tspan> (<tspan font-style="italic">n</tspan> = 103), MST = 12.7</text>
<line x1="394.6" y1="468" x2="394.6" y2="482" stroke="#333" stroke-width="0.6"/>
<text transform="translate(397.70,477.20) scale(1,1.05)" font-size="5.6" font-weight="bold" fill="#1a1a1a" textLength="26.10" lengthAdjust="spacingAndGlyphs" stroke="#1a1a1a" stroke-width="0.22"><tspan font-style="italic">P</tspan> = 0.7637</text>
<text transform="translate(433.80,328.50) scale(1,1.06)" font-size="12.2" font-weight="bold" fill="#000" stroke="#000" stroke-width="0.22">E</text>
<line x1="455.6" y1="407.48" x2="518.4" y2="407.48" stroke="#cfcfd8" stroke-width="0.8"/>
<line x1="455.6" y1="398.15" x2="518.4" y2="398.15" stroke="#cfcfd8" stroke-width="0.8"/>
<line x1="455.6" y1="388.82" x2="518.4" y2="388.82" stroke="#cfcfd8" stroke-width="0.8"/>
<line x1="455.6" y1="379.50" x2="518.4" y2="379.50" stroke="#cfcfd8" stroke-width="0.8"/>
<line x1="455.6" y1="370.18" x2="518.4" y2="370.18" stroke="#cfcfd8" stroke-width="0.8"/>
<line x1="455.6" y1="360.85" x2="518.4" y2="360.85" stroke="#cfcfd8" stroke-width="0.8"/>
<line x1="455.6" y1="351.52" x2="518.4" y2="351.52" stroke="#cfcfd8" stroke-width="0.8"/>
<rect x="459" y="368.50" width="9.00" height="48.30" fill="#ee4a2a" stroke="#7a2a1a" stroke-width="0.6"/>
<line x1="463.50" y1="355.44" x2="463.50" y2="382.02" stroke="#333" stroke-width="0.6"/>
<line x1="462.00" y1="355.44" x2="465.00" y2="355.44" stroke="#333" stroke-width="0.6"/>
<line x1="462.00" y1="382.02" x2="465.00" y2="382.02" stroke="#333" stroke-width="0.6"/>
<rect x="474.6" y="366.82" width="9.00" height="49.98" fill="#62b84a" stroke="#3a6a2a" stroke-width="0.6"/>
<line x1="479.10" y1="350.03" x2="479.10" y2="383.51" stroke="#333" stroke-width="0.6"/>
<line x1="477.60" y1="350.03" x2="480.60" y2="350.03" stroke="#333" stroke-width="0.6"/>
<line x1="477.60" y1="383.51" x2="480.60" y2="383.51" stroke="#333" stroke-width="0.6"/>
<rect x="490" y="370.18" width="8.90" height="46.62" fill="#4a7fd0" stroke="#2a4a80" stroke-width="0.6"/>
<line x1="494.45" y1="361.50" x2="494.45" y2="378.57" stroke="#333" stroke-width="0.6"/>
<line x1="492.95" y1="361.50" x2="495.95" y2="361.50" stroke="#333" stroke-width="0.6"/>
<line x1="492.95" y1="378.57" x2="495.95" y2="378.57" stroke="#333" stroke-width="0.6"/>
<rect x="505.6" y="393.49" width="9.20" height="23.31" fill="#f8a020" stroke="#9a6010" stroke-width="0.6"/>
<line x1="510.20" y1="387.24" x2="510.20" y2="399.74" stroke="#333" stroke-width="0.6"/>
<line x1="508.70" y1="387.24" x2="511.70" y2="387.24" stroke="#333" stroke-width="0.6"/>
<line x1="508.70" y1="399.74" x2="511.70" y2="399.74" stroke="#333" stroke-width="0.6"/>
<rect x="455.60" y="342.20" width="62.80" height="74.60" fill="none" stroke="#555" stroke-width="0.8"/>
<text transform="translate(451.50,418.94) scale(1,1.06)" font-size="5.6" text-anchor="end" fill="#333" font-weight="bold" stroke="#333" stroke-width="0.22">0</text>
<text transform="translate(451.50,409.61) scale(1,1.06)" font-size="5.6" text-anchor="end" fill="#333" font-weight="bold" stroke="#333" stroke-width="0.22">10</text>
<text transform="translate(451.50,400.29) scale(1,1.06)" font-size="5.6" text-anchor="end" fill="#333" font-weight="bold" stroke="#333" stroke-width="0.22">20</text>
<text transform="translate(451.50,390.96) scale(1,1.06)" font-size="5.6" text-anchor="end" fill="#333" font-weight="bold" stroke="#333" stroke-width="0.22">30</text>
<text transform="translate(451.50,381.64) scale(1,1.06)" font-size="5.6" text-anchor="end" fill="#333" font-weight="bold" stroke="#333" stroke-width="0.22">40</text>
<text transform="translate(451.50,372.31) scale(1,1.06)" font-size="5.6" text-anchor="end" fill="#333" font-weight="bold" stroke="#333" stroke-width="0.22">50</text>
<text transform="translate(451.50,362.99) scale(1,1.06)" font-size="5.6" text-anchor="end" fill="#333" font-weight="bold" stroke="#333" stroke-width="0.22">60</text>
<text transform="translate(451.50,353.66) scale(1,1.06)" font-size="5.6" text-anchor="end" fill="#333" font-weight="bold" stroke="#333" stroke-width="0.22">70</text>
<text transform="translate(451.50,344.34) scale(1,1.06)" font-size="5.6" text-anchor="end" fill="#333" font-weight="bold" stroke="#333" stroke-width="0.22">80</text>
<line x1="459" y1="347.4" x2="514.8" y2="347.4" stroke="#333" stroke-width="0.8"/>
<text transform="translate(486.90,349.80) scale(1,1.0)" font-size="9" font-weight="bold" text-anchor="middle" fill="#111" stroke="#111" stroke-width="0.22">**</text>
<g transform="translate(438.60,378.60) rotate(-90)"><text transform="translate(0.00,2.65) scale(1,1.06)" font-size="7.2" text-anchor="middle" fill="#1a1a1a" font-weight="bold" textLength="82.00" lengthAdjust="spacingAndGlyphs" stroke="#1a1a1a" stroke-width="0.22"><tspan font-style="italic">TMSB4X</tspan> Expression level</text></g>
<g transform="translate(462.80,419.50) rotate(-90)"><text transform="translate(0.00,1.99) scale(1,0.95)" font-size="6.1" text-anchor="end" fill="#ee4a2a" font-weight="bold" textLength="28.5" lengthAdjust="spacingAndGlyphs" stroke="#ee4a2a" stroke-width="0.22">Tβ4 High</text></g>
<g transform="translate(475.00,419.50) rotate(-90)"><text transform="translate(0.00,1.99) scale(1,0.95)" font-size="6.1" text-anchor="end" fill="#5fae45" font-weight="bold" textLength="28.5" lengthAdjust="spacingAndGlyphs" stroke="#5fae45" stroke-width="0.22">Tβ4 High</text></g>
<g transform="translate(480.80,419.50) rotate(-90)"><text transform="translate(0.00,1.99) scale(1,0.95)" font-size="6.1" text-anchor="end" fill="#5fae45" font-weight="bold" textLength="30" lengthAdjust="spacingAndGlyphs" stroke="#5fae45" stroke-width="0.22">SRF High</text></g>
<g transform="translate(490.80,419.50) rotate(-90)"><text transform="translate(0.00,1.99) scale(1,0.95)" font-size="6.1" text-anchor="end" fill="#3b4f9e" font-weight="bold" textLength="28.5" lengthAdjust="spacingAndGlyphs" stroke="#3b4f9e" stroke-width="0.22">Tβ4 High</text></g>
<g transform="translate(496.60,419.50) rotate(-90)"><text transform="translate(0.00,1.99) scale(1,0.95)" font-size="6.1" text-anchor="end" fill="#3b4f9e" font-weight="bold" textLength="28.5" lengthAdjust="spacingAndGlyphs" stroke="#3b4f9e" stroke-width="0.22">SRF Low</text></g>
<g transform="translate(509.50,419.50) rotate(-90)"><text transform="translate(0.00,1.99) scale(1,0.95)" font-size="6.1" text-anchor="end" fill="#f0c040" font-weight="bold" textLength="47" lengthAdjust="spacingAndGlyphs" stroke="#f0c040" stroke-width="0.22">Tβ4 Mode-Low</text></g>
<text transform="translate(430.80,476.70) scale(1,1.06)" font-size="12.2" font-weight="bold" fill="#000" stroke="#000" stroke-width="0.22">I</text>
<line x1="456.2" y1="548.92" x2="519.5" y2="548.92" stroke="#cfcfd8" stroke-width="0.8"/>
<line x1="456.2" y1="536.33" x2="519.5" y2="536.33" stroke="#cfcfd8" stroke-width="0.8"/>
<line x1="456.2" y1="523.75" x2="519.5" y2="523.75" stroke="#cfcfd8" stroke-width="0.8"/>
<line x1="456.2" y1="511.17" x2="519.5" y2="511.17" stroke="#cfcfd8" stroke-width="0.8"/>
<line x1="456.2" y1="498.58" x2="519.5" y2="498.58" stroke="#cfcfd8" stroke-width="0.8"/>
<rect x="459.4" y="515.45" width="9.20" height="46.05" fill="#ee4a2a" stroke="#7a2a1a" stroke-width="0.6"/>
<line x1="464.00" y1="499.84" x2="464.00" y2="530.04" stroke="#333" stroke-width="0.6"/>
<line x1="462.50" y1="499.84" x2="465.50" y2="499.84" stroke="#333" stroke-width="0.6"/>
<line x1="462.50" y1="530.04" x2="465.50" y2="530.04" stroke="#333" stroke-width="0.6"/>
<rect x="475.4" y="521.99" width="9.00" height="39.51" fill="#62b84a" stroke="#3a6a2a" stroke-width="0.6"/>
<line x1="479.90" y1="513.68" x2="479.90" y2="530.04" stroke="#333" stroke-width="0.6"/>
<line x1="478.40" y1="513.68" x2="481.40" y2="513.68" stroke="#333" stroke-width="0.6"/>
<line x1="478.40" y1="530.04" x2="481.40" y2="530.04" stroke="#333" stroke-width="0.6"/>
<rect x="491.2" y="509.15" width="8.60" height="52.35" fill="#4a7fd0" stroke="#2a4a80" stroke-width="0.6"/>
<line x1="495.50" y1="491.54" x2="495.50" y2="526.27" stroke="#333" stroke-width="0.6"/>
<line x1="494.00" y1="491.54" x2="497.00" y2="491.54" stroke="#333" stroke-width="0.6"/>
<line x1="494.00" y1="526.27" x2="497.00" y2="526.27" stroke="#333" stroke-width="0.6"/>
<rect x="506.5" y="541.37" width="9.10" height="20.13" fill="#f8a020" stroke="#9a6010" stroke-width="0.6"/>
<line x1="511.05" y1="534.32" x2="511.05" y2="547.66" stroke="#333" stroke-width="0.6"/>
<line x1="509.55" y1="534.32" x2="512.55" y2="534.32" stroke="#333" stroke-width="0.6"/>
<line x1="509.55" y1="547.66" x2="512.55" y2="547.66" stroke="#333" stroke-width="0.6"/>
<rect x="456.20" y="486.00" width="63.30" height="75.50" fill="none" stroke="#555" stroke-width="0.8"/>
<text transform="translate(451.00,563.64) scale(1,1.06)" font-size="5.6" text-anchor="end" fill="#333" font-weight="bold" stroke="#333" stroke-width="0.22">0</text>
<text transform="translate(451.00,551.05) scale(1,1.06)" font-size="5.6" text-anchor="end" fill="#333" font-weight="bold" stroke="#333" stroke-width="0.22">50</text>
<text transform="translate(451.00,538.47) scale(1,1.06)" font-size="5.6" text-anchor="end" fill="#333" font-weight="bold" stroke="#333" stroke-width="0.22">100</text>
<text transform="translate(451.00,525.89) scale(1,1.06)" font-size="5.6" text-anchor="end" fill="#333" font-weight="bold" stroke="#333" stroke-width="0.22">150</text>
<text transform="translate(451.00,513.30) scale(1,1.06)" font-size="5.6" text-anchor="end" fill="#333" font-weight="bold" stroke="#333" stroke-width="0.22">200</text>
<text transform="translate(451.00,500.72) scale(1,1.06)" font-size="5.6" text-anchor="end" fill="#333" font-weight="bold" stroke="#333" stroke-width="0.22">250</text>
<text transform="translate(451.00,488.14) scale(1,1.06)" font-size="5.6" text-anchor="end" fill="#333" font-weight="bold" stroke="#333" stroke-width="0.22">300</text>
<line x1="459.4" y1="490.4" x2="515.2" y2="490.4" stroke="#333" stroke-width="0.8"/>
<text transform="translate(487.30,492.80) scale(1,1.0)" font-size="9" font-weight="bold" text-anchor="middle" fill="#111" stroke="#111" stroke-width="0.22">**</text>
<line x1="459.4" y1="498" x2="483.5" y2="498" stroke="#333" stroke-width="0.8"/>
<text transform="translate(471.40,500.40) scale(1,1.0)" font-size="9" font-weight="bold" text-anchor="middle" fill="#111" stroke="#111" stroke-width="0.22">*</text>
<g transform="translate(436.30,525.00) rotate(-90)"><text transform="translate(0.00,2.65) scale(1,1.06)" font-size="7.2" text-anchor="middle" fill="#1a1a1a" font-weight="bold" textLength="82.00" lengthAdjust="spacingAndGlyphs" stroke="#1a1a1a" stroke-width="0.22"><tspan font-style="italic">TMSB4X</tspan> Expression level</text></g>
<g transform="translate(464.20,564.00) rotate(-90)"><text transform="translate(0.00,1.99) scale(1,0.95)" font-size="6.1" text-anchor="end" fill="#ee4a2a" font-weight="bold" textLength="28.5" lengthAdjust="spacingAndGlyphs" stroke="#ee4a2a" stroke-width="0.22">Tβ4 High</text></g>
<g transform="translate(475.80,564.00) rotate(-90)"><text transform="translate(0.00,1.99) scale(1,0.95)" font-size="6.1" text-anchor="end" fill="#5fae45" font-weight="bold" textLength="28.5" lengthAdjust="spacingAndGlyphs" stroke="#5fae45" stroke-width="0.22">Tβ4 High</text></g>
<g transform="translate(481.50,564.00) rotate(-90)"><text transform="translate(0.00,1.99) scale(1,0.95)" font-size="6.1" text-anchor="end" fill="#5fae45" font-weight="bold" textLength="30" lengthAdjust="spacingAndGlyphs" stroke="#5fae45" stroke-width="0.22">SRF High</text></g>
<g transform="translate(492.10,564.00) rotate(-90)"><text transform="translate(0.00,1.99) scale(1,0.95)" font-size="6.1" text-anchor="end" fill="#3b4f9e" font-weight="bold" textLength="28.5" lengthAdjust="spacingAndGlyphs" stroke="#3b4f9e" stroke-width="0.22">Tβ4 High</text></g>
<g transform="translate(498.80,564.00) rotate(-90)"><text transform="translate(0.00,1.99) scale(1,0.95)" font-size="6.1" text-anchor="end" fill="#3b4f9e" font-weight="bold" textLength="28.5" lengthAdjust="spacingAndGlyphs" stroke="#3b4f9e" stroke-width="0.22">SRF Low</text></g>
<g transform="translate(511.30,564.00) rotate(-90)"><text transform="translate(0.00,1.99) scale(1,0.95)" font-size="6.1" text-anchor="end" fill="#f0c040" font-weight="bold" textLength="47" lengthAdjust="spacingAndGlyphs" stroke="#f0c040" stroke-width="0.22">Tβ4 Mode-Low</text></g>
</svg></body></html>
